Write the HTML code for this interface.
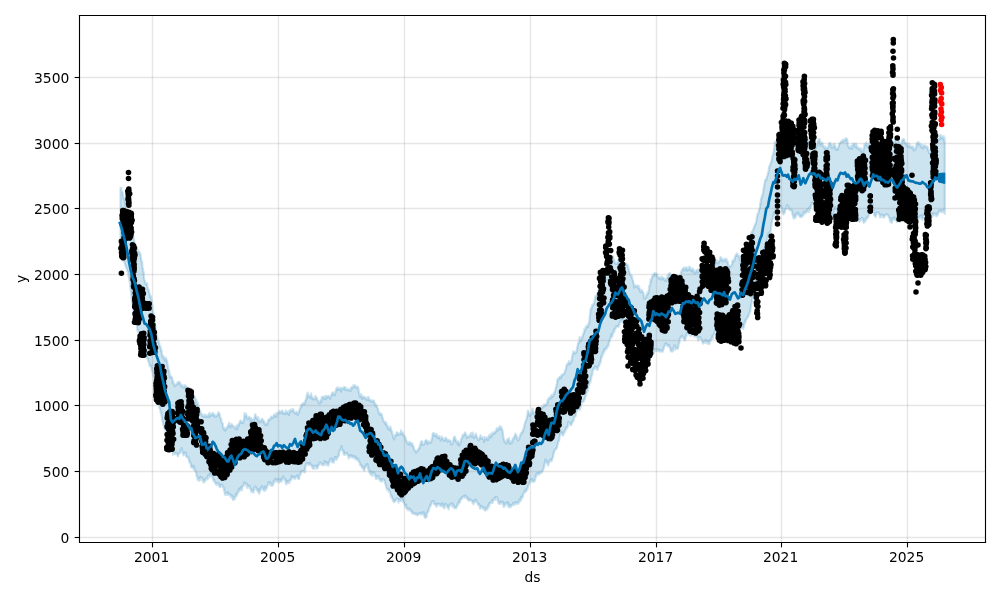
<!DOCTYPE html>
<html><head><meta charset="utf-8"><title>forecast</title>
<style>html,body{margin:0;padding:0;background:#fff;width:1000px;height:600px;overflow:hidden}svg{display:block;will-change:transform}
text{font-family:"DejaVu Sans","Liberation Sans",sans-serif}</style></head><body>
<svg width="1000" height="600" viewBox="0 0 720 432" version="1.1">
 
 <defs>
  <style type="text/css">*{stroke-linejoin: round; stroke-linecap: butt}</style>
 </defs>
 <g id="figure_1">
  <g id="patch_1">
   <path d="M 0 432 
L 720 432 
L 720 0 
L 0 0 
z
" style="fill: #ffffff"/>
  </g>
  <g id="axes_1">
   <g id="patch_2">
    <path d="M 57.24 390.6 
L 709.56 390.6 
L 709.56 11.16 
L 57.24 11.16 
z
" style="fill: #ffffff"/>
   </g>
   <g transform="scale(0.72)"><path d="M120.5 188 L120.8 188.2 L121.2 187.9 L121.5 192.2 L121.9 191.9 L122.2 191.8 L122.6 191.8 L122.9 195 L123.3 196.4 L123.6 198 L124 199.1 L124.3 198.8 L124.7 201.4 L125 200.7 L125.4 204.1 L125.7 206.6 L126.1 206.4 L126.4 208.2 L126.8 209.4 L127.1 210.1 L127.5 212.3 L127.9 210.6 L128.2 214.1 L128.6 212.8 L128.9 214.8 L129.3 215.8 L129.6 218 L130 219.2 L130.4 221.8 L130.7 223.5 L131.1 227.8 L131.4 228.5 L131.8 230.3 L132.1 233 L132.5 235 L132.9 235.5 L133.2 235.9 L133.6 237.2 L133.9 239.4 L134.3 241.6 L134.6 243.2 L135 245 L135.4 247.2 L135.7 247.6 L136.1 249.5 L136.4 251.4 L136.8 251.6 L137.1 252.1 L137.5 250.5 L137.9 251.1 L138.2 250.1 L138.6 252.5 L138.9 251.8 L139.3 251.6 L139.6 253.1 L140 254.5 L140.4 253.6 L140.7 256 L141.1 259.8 L141.4 260.4 L141.8 261.7 L142.1 261.7 L142.5 266.9 L142.9 268.8 L143.2 271 L143.6 271.9 L143.9 276.4 L144.3 279.6 L144.6 280.3 L145 282.3 L145.4 282.7 L145.7 284.3 L146.1 283.7 L146.4 284 L146.8 283.3 L147.1 283.6 L147.5 287 L147.8 288.6 L148.2 288.9 L148.5 290.7 L148.9 290.2 L149.2 292.3 L149.6 294.1 L149.9 294.8 L150.3 297.6 L150.6 295.6 L151 297 L151.4 299.4 L151.7 301.3 L152.1 305.1 L152.4 304.6 L152.8 310.2 L153.1 312.1 L153.5 313.6 L153.9 316.7 L154.2 319.8 L154.6 319.9 L154.9 323.1 L155.3 325.4 L155.6 328.4 L156 330.5 L156.4 332.3 L156.7 335.5 L157.1 335.8 L157.4 338.6 L157.8 339.8 L158.1 339.6 L158.5 341.4 L158.9 342.2 L159.2 343.1 L159.6 345.4 L159.9 345.8 L160.3 347.4 L160.6 346.7 L161 350.8 L161.4 349.8 L161.7 352 L162.1 355.2 L162.4 356.6 L162.8 355.5 L163.1 355.7 L163.5 358.1 L163.9 358.1 L164.2 359.3 L164.6 357.7 L164.9 360.3 L165.3 360.7 L165.6 357.5 L166 358.3 L166.4 359.3 L166.7 361.9 L167.1 360.7 L167.5 364.6 L167.8 365.9 L168.2 367.3 L168.5 370.7 L168.9 369.8 L169.3 372.2 L169.6 374.2 L170 377.3 L170.4 376.2 L170.7 375.7 L171.1 377.3 L171.4 376.7 L171.8 377.2 L172.1 378.3 L172.5 380 L172.8 383.5 L173.2 381 L173.5 383.4 L173.9 383.7 L174.2 384.4 L174.6 386.3 L174.9 385.8 L175.3 385.8 L175.6 384.6 L176 384.2 L176.4 385 L176.7 384.2 L177.1 383.5 L177.4 384.2 L177.8 381.9 L178.1 382.1 L178.5 383.2 L178.9 382.1 L179.2 383.2 L179.6 382 L179.9 383.8 L180.3 383 L180.6 385.3 L181 385.1 L181.4 385.2 L181.7 386.7 L182.1 385.9 L182.4 385.1 L182.8 387.4 L183.1 386.5 L183.5 387.5 L183.9 386.4 L184.2 387.4 L184.6 385.4 L184.9 385.3 L185.3 385.7 L185.6 388.2 L186 386.1 L186.4 386.5 L186.7 387.1 L187.1 389.1 L187.5 389.5 L187.8 388.3 L188.2 390.4 L188.5 390.3 L188.9 391.4 L189.3 391.4 L189.6 389.9 L190 390.9 L190.4 390.9 L190.7 391.7 L191.1 392.2 L191.4 392.7 L191.8 394.1 L192.1 394.2 L192.5 395.5 L192.9 395.1 L193.2 395.3 L193.6 396.6 L193.9 397 L194.3 397.6 L194.6 397.5 L195 397.2 L195.4 398.8 L195.7 399.9 L196.1 399.2 L196.4 401 L196.8 404.7 L197.1 404.2 L197.5 402.2 L197.9 405.5 L198.2 406.4 L198.6 405.6 L198.9 409.7 L199.3 409.4 L199.6 410 L200 410 L200.4 411.6 L200.7 413 L201.1 413.6 L201.5 413.3 L201.8 415 L202.2 415.7 L202.5 416.1 L202.9 415 L203.3 416.3 L203.6 416.2 L204 416.4 L204.4 416.2 L204.7 414.6 L205.1 417 L205.5 416.9 L205.8 415 L206.2 416.2 L206.6 415.2 L206.9 415.4 L207.3 416.7 L207.7 415.8 L208 417.1 L208.4 415.1 L208.7 414 L209.1 415.2 L209.5 412.8 L209.8 417 L210.2 415.3 L210.5 415.4 L210.9 415.1 L211.3 414 L211.6 414.6 L212 413.8 L212.3 413.7 L212.7 414.2 L213 412.9 L213.4 416 L213.7 413.6 L214.1 415.7 L214.4 414.6 L214.8 414.7 L215.1 416.7 L215.5 416.8 L215.8 416.4 L216.2 416.6 L216.5 415.7 L216.9 416.2 L217.2 414.5 L217.6 414.4 L217.9 414.9 L218.3 412.2 L218.6 413.1 L219 413.2 L219.3 413.6 L219.7 414.2 L220 416.5 L220.4 418.1 L220.7 418.9 L221.1 418.3 L221.4 421.6 L221.8 422.7 L222.1 423.1 L222.5 422.9 L222.8 424.2 L223.2 427.9 L223.5 428.8 L223.9 428.5 L224.2 427.6 L224.6 430.1 L224.9 429.3 L225.3 430.7 L225.6 428.4 L226 429.7 L226.4 428.3 L226.7 428.7 L227.1 427 L227.4 428 L227.8 426.3 L228.1 425.1 L228.5 425.9 L228.8 425 L229.2 422.5 L229.5 424.6 L229.9 424.9 L230.2 425.3 L230.6 427.4 L230.9 425 L231.3 425.6 L231.7 424.1 L232 424.6 L232.4 425.4 L232.7 425.7 L233.1 425.7 L233.5 426.7 L233.8 426.8 L234.2 427.5 L234.5 427 L234.9 428.2 L235.3 427.4 L235.6 428.9 L236 429.2 L236.3 428.3 L236.7 425.3 L237 426.8 L237.4 429.1 L237.7 425.7 L238.1 424.5 L238.4 424.9 L238.8 425.5 L239.1 424.3 L239.5 423.2 L239.8 421.5 L240.2 421.7 L240.5 420.3 L240.9 421.3 L241.2 422.6 L241.6 422.6 L241.9 421.6 L242.3 421.5 L242.6 421.5 L243 423.2 L243.3 422.4 L243.7 421.3 L244 419.1 L244.4 415.6 L244.7 413.2 L245.1 415.9 L245.4 414 L245.8 417.1 L246.1 413.8 L246.5 415.6 L246.8 416.6 L247.2 418.4 L247.5 419 L247.9 417.9 L248.2 419 L248.6 416.9 L248.9 417.6 L249.3 416.9 L249.6 417.6 L250 417.9 L250.4 418.8 L250.7 422.3 L251.1 417.9 L251.4 419.3 L251.8 420.4 L252.1 420.1 L252.5 421.8 L252.8 419.4 L253.2 421.2 L253.5 419.2 L253.9 420 L254.2 418.5 L254.6 417.7 L254.9 416 L255.3 414.2 L255.6 415.1 L256 417.3 L256.4 417.1 L256.7 418.7 L257.1 417.3 L257.4 419.6 L257.8 420.2 L258.1 417.1 L258.5 419.7 L258.8 421.7 L259.2 419.6 L259.5 421.9 L259.9 421.4 L260.2 422.5 L260.6 421.1 L260.9 420.4 L261.3 420.1 L261.6 419.5 L262 418.7 L262.4 418.8 L262.7 421.3 L263.1 420.3 L263.4 420.5 L263.8 421.4 L264.1 423.6 L264.5 421.3 L264.8 424.2 L265.2 424.8 L265.5 425.2 L265.9 423.6 L266.2 423.1 L266.6 424.1 L266.9 424 L267.3 425 L267.7 422.7 L268 421.2 L268.4 419.5 L268.7 419.8 L269.1 419.6 L269.4 420.2 L269.8 418.7 L270.1 419.7 L270.5 419.3 L270.8 417.3 L271.2 416.7 L271.5 417.2 L271.9 417.6 L272.2 416.9 L272.6 418 L272.9 417.4 L273.3 417.4 L273.6 415.9 L274 414.6 L274.3 415.5 L274.7 414.4 L275 415.7 L275.4 415 L275.7 417.2 L276.1 413.1 L276.4 416.4 L276.8 415.9 L277.1 414.3 L277.4 413.9 L277.8 412.8 L278.1 413.1 L278.5 413.2 L278.8 411.3 L279.2 413.1 L279.5 411.1 L279.9 412.5 L280.2 412.8 L280.5 411.4 L280.9 412.8 L281.2 411.7 L281.6 413.1 L281.9 411.4 L282.3 410.6 L282.6 411.2 L283 412.8 L283.3 413.7 L283.6 413.8 L284 412.7 L284.3 414.1 L284.7 412.5 L285 412.7 L285.3 413.8 L285.7 412.3 L286 410.5 L286.4 412.9 L286.7 412.3 L287.1 411.9 L287.4 413.6 L287.8 411.8 L288.1 413.2 L288.5 412.8 L288.8 415.2 L289.2 410.7 L289.5 412.3 L289.9 411.9 L290.2 412.2 L290.6 410.1 L290.9 409.7 L291.3 411.5 L291.6 409.5 L292 410.4 L292.3 410.3 L292.7 410.9 L293 409.1 L293.4 410.3 L293.7 411.2 L294.1 411.6 L294.4 412.9 L294.8 412.6 L295.1 412.8 L295.5 412.3 L295.8 413.7 L296.2 412.1 L296.5 412.8 L296.9 411.7 L297.2 412.6 L297.6 414.9 L297.9 414.3 L298.3 412.5 L298.7 413.4 L299 411.9 L299.4 409.6 L299.7 409.8 L300.1 408 L300.4 407.4 L300.8 407.4 L301.1 405.1 L301.5 406.2 L301.8 404.2 L302.2 403.8 L302.5 405.1 L302.9 404.2 L303.2 403.2 L303.6 403.6 L303.9 404 L304.3 402.3 L304.6 404.2 L305 402.8 L305.3 400.6 L305.7 399.7 L306 400.2 L306.3 396.8 L306.7 398.8 L307 394.2 L307.3 395.3 L307.7 392.6 L308 395.2 L308.4 395.1 L308.7 396.2 L309.1 395.9 L309.4 395.5 L309.8 398 L310.1 396.5 L310.5 395.1 L310.8 396.2 L311.2 393.4 L311.5 396.2 L311.9 398.7 L312.2 397.4 L312.6 398.4 L312.9 397.3 L313.3 399.4 L313.6 398.6 L314 398.1 L314.3 398.9 L314.7 399.4 L315 398.4 L315.4 395.9 L315.7 397.9 L316.1 398.2 L316.5 397.2 L316.8 397.4 L317.2 399.3 L317.5 400.1 L317.9 401.1 L318.3 401.3 L318.6 402.8 L319 403.2 L319.3 402.7 L319.7 403.3 L320 401.6 L320.4 400 L320.7 400.8 L321.1 401 L321.4 402.2 L321.8 396.8 L322.1 397.8 L322.5 397.1 L322.8 397.9 L323.2 396.5 L323.5 397.4 L323.9 398.1 L324.2 396.6 L324.6 397.5 L324.9 399.2 L325.3 398.4 L325.6 395.8 L326 399.2 L326.3 396.1 L326.7 397.3 L327 396.5 L327.4 396.5 L327.8 396.1 L328.1 397.5 L328.5 396.3 L328.8 396 L329.2 397 L329.6 397.9 L329.9 396.1 L330.3 398.9 L330.7 396.1 L331 396.1 L331.4 395.7 L331.7 393.7 L332.1 393.6 L332.4 392.7 L332.8 393 L333.1 392.5 L333.5 394.8 L333.8 394.6 L334.2 392.7 L334.5 394.8 L334.9 395.1 L335.2 393 L335.6 392.6 L335.9 390.1 L336.3 388.6 L336.6 389 L337 388 L337.4 387.3 L337.7 389.8 L338.1 389 L338.4 388.3 L338.8 388.9 L339.1 388.6 L339.5 389.3 L339.8 390.1 L340.2 388 L340.5 387.6 L340.9 390.4 L341.2 391.6 L341.6 388.9 L341.9 388.5 L342.3 388 L342.7 388.9 L343 388.6 L343.4 388 L343.7 388.7 L344.1 387 L344.5 387.4 L344.8 386.9 L345.2 389.8 L345.5 389.5 L345.9 389.9 L346.3 387.8 L346.6 390.1 L347 389.4 L347.3 390 L347.7 390.2 L348 389.6 L348.4 390.1 L348.7 388.9 L349.1 390 L349.4 390.6 L349.8 389.5 L350.1 390.6 L350.5 391.2 L350.8 389 L351.2 387.8 L351.5 387.1 L351.9 387.6 L352.2 388.7 L352.6 387 L352.9 386.9 L353.3 385.4 L353.6 386.8 L354 386.7 L354.3 385.5 L354.7 385.8 L355 385.2 L355.4 386.6 L355.8 387.5 L356.1 386.9 L356.5 387.4 L356.8 387.2 L357.2 386.7 L357.6 386.8 L357.9 387.5 L358.3 388.5 L358.6 390.2 L359 392.8 L359.4 394.3 L359.7 396.7 L360.1 396.2 L360.4 395.2 L360.8 395.6 L361.1 394.1 L361.5 397.8 L361.8 396 L362.2 396.6 L362.5 399 L362.9 396.3 L363.2 396.8 L363.6 397.4 L363.9 396.8 L364.3 397.3 L364.6 397.5 L365 398.3 L365.4 397.6 L365.7 398.6 L366.1 397.8 L366.4 399.1 L366.8 400.1 L367.1 397.5 L367.5 399.3 L367.8 399.9 L368.2 397.9 L368.5 396.8 L368.9 400.3 L369.2 399.3 L369.6 400.7 L369.9 400 L370.3 399.8 L370.7 400.2 L371 401.4 L371.4 400.5 L371.7 400.9 L372.1 401.9 L372.5 400.7 L372.8 401.4 L373.2 400.8 L373.5 400.5 L373.9 400.6 L374.3 403.2 L374.6 402.5 L375 404.7 L375.3 403.5 L375.7 406 L376.1 406.6 L376.4 405.8 L376.8 405.3 L377.1 407.1 L377.5 408 L377.8 408.6 L378.2 409.6 L378.5 412.3 L378.9 412.2 L379.2 412.8 L379.6 414.6 L379.9 413.9 L380.3 413.2 L380.6 414.8 L381 413.7 L381.4 415.2 L381.7 414.1 L382.1 416 L382.5 418 L382.8 418.6 L383.2 419.8 L383.5 420.8 L383.9 422 L384.3 421.8 L384.6 422.5 L385 422 L385.4 424.4 L385.7 421.9 L386.1 424.2 L386.4 423.1 L386.8 425.3 L387.1 426.8 L387.5 425.2 L387.9 428.9 L388.2 426.8 L388.6 427.4 L388.9 428.9 L389.3 427.9 L389.6 430.2 L390 429.7 L390.3 426.7 L390.7 427.8 L391.1 429.3 L391.4 431.3 L391.8 430.9 L392.2 432.5 L392.6 435.2 L392.9 435.2 L393.3 438 L393.6 436.7 L394 439.1 L394.3 439.4 L394.7 436.5 L395 434.8 L395.4 434.7 L395.7 436.4 L396.1 434 L396.4 434.9 L396.8 432.1 L397.1 432.3 L397.5 433.2 L397.8 434.8 L398.2 433.7 L398.5 433.3 L398.9 434.7 L399.2 434.4 L399.6 434.6 L399.9 433.7 L400.3 432.9 L400.6 433.1 L401 430.4 L401.3 432.7 L401.7 434.1 L402 433.8 L402.4 432.6 L402.7 432.3 L403.1 435.5 L403.5 434.2 L403.8 435 L404.2 435.9 L404.5 435.7 L404.9 437 L405.3 439.1 L405.6 437.8 L406 441 L406.3 440.3 L406.7 441.2 L407 442.6 L407.4 443.1 L407.7 443.9 L408.1 443.6 L408.4 442.5 L408.8 444.5 L409.1 442.5 L409.5 441.7 L409.8 443.3 L410.1 443.1 L410.5 442.6 L410.8 443.1 L411.2 444 L411.5 445.7 L411.9 444.1 L412.2 443.2 L412.6 444.6 L412.9 446.2 L413.2 446.2 L413.6 446.5 L413.9 448.8 L414.3 449.7 L414.6 449.7 L415 451 L415.3 450.7 L415.7 451.5 L416 452.5 L416.4 450.9 L416.7 452.1 L417.1 451.3 L417.4 450.5 L417.8 450.7 L418.1 450.3 L418.5 448.9 L418.8 448.5 L419.2 447.6 L419.5 448.8 L419.9 444.8 L420.2 445.1 L420.6 444.8 L420.9 442.1 L421.3 441.4 L421.7 441.4 L422 441.3 L422.4 444.9 L422.7 444.2 L423.1 443.9 L423.4 444.4 L423.8 444.8 L424.1 443.9 L424.5 442.4 L424.8 442.9 L425.2 440.7 L425.5 440.6 L425.9 440.8 L426.2 440 L426.6 440.8 L426.9 440.5 L427.3 444.1 L427.6 441.6 L428 443.2 L428.4 441.7 L428.7 441.3 L429.1 442.2 L429.4 441.9 L429.8 441.9 L430.1 441.9 L430.5 442.5 L430.8 442.9 L431.2 442.3 L431.5 439.2 L431.9 439.6 L432.2 438.1 L432.6 434.5 L432.9 433.4 L433.3 432.8 L433.6 435.1 L434 433.3 L434.3 433.5 L434.7 435.9 L435 434.9 L435.4 435.3 L435.7 436.3 L436.1 436.1 L436.4 433.8 L436.8 435.2 L437.1 437.2 L437.5 435.3 L437.8 438.1 L438.2 436.9 L438.5 437.6 L438.9 438 L439.2 436 L439.6 437.4 L439.9 437.5 L440.3 439.1 L440.6 440.6 L441 438.9 L441.3 439 L441.6 436.6 L442 437.8 L442.3 437.9 L442.7 438 L443 439 L443.4 440.4 L443.7 439.7 L444.1 440.5 L444.4 438.8 L444.8 440.8 L445.1 439.8 L445.5 437.5 L445.8 439.1 L446.2 438 L446.5 439.7 L446.9 439.4 L447.2 439.6 L447.6 441.7 L447.9 440.2 L448.3 440.2 L448.6 440.7 L449 440.8 L449.3 439.8 L449.7 441.2 L450 441.4 L450.4 441 L450.7 440.8 L451.1 444.1 L451.4 444.5 L451.8 444 L452.2 443.8 L452.5 444 L452.9 441.5 L453.2 441.6 L453.6 438.7 L454 437.1 L454.3 437.3 L454.7 436.6 L455.1 438 L455.4 440 L455.8 439.3 L456.1 440.7 L456.5 442.5 L456.8 442.8 L457.2 441.5 L457.5 441.4 L457.9 444.7 L458.2 442 L458.6 441.7 L458.9 442 L459.3 445.4 L459.6 442.9 L460 444 L460.4 443 L460.7 442.9 L461.1 438.9 L461.4 439.1 L461.8 438 L462.1 438 L462.5 435.5 L462.8 435.4 L463.2 434.6 L463.5 435.7 L463.9 435.4 L464.2 434 L464.6 434.7 L464.9 432.4 L465.3 433.6 L465.7 433.2 L466 434.3 L466.4 436.4 L466.7 438.2 L467.1 436.7 L467.5 436.6 L467.8 436.3 L468.2 437.1 L468.6 435.7 L468.9 436.6 L469.3 437 L469.6 435.9 L470 434.8 L470.4 435.8 L470.7 434.1 L471.1 433 L471.4 435.7 L471.8 436.5 L472.1 436.2 L472.5 434.9 L472.8 432.6 L473.2 435.8 L473.5 437.4 L473.9 436.5 L474.2 438.1 L474.6 435.6 L474.9 436.2 L475.3 435.5 L475.6 435.1 L476 433.5 L476.3 435.3 L476.7 436.6 L477 437.1 L477.3 437.3 L477.7 439 L478 439.5 L478.4 440.4 L478.7 440.4 L479.1 439.1 L479.4 438.6 L479.8 437.5 L480.1 437.5 L480.5 435.1 L480.8 437.4 L481.2 438.5 L481.5 437.3 L481.9 438.9 L482.2 437.2 L482.6 439 L482.9 438.8 L483.3 439.2 L483.7 439.6 L484 442.2 L484.4 436.9 L484.8 438.5 L485.1 439.1 L485.5 439.6 L485.8 438.5 L486.2 438.4 L486.6 437.6 L486.9 437.9 L487.3 438.7 L487.6 440.2 L488 437.1 L488.3 439.9 L488.7 437.5 L489 435.7 L489.4 436.7 L489.7 436.7 L490.1 434.5 L490.4 434.3 L490.8 437.4 L491.1 434.8 L491.5 436.3 L491.8 435.6 L492.2 432.7 L492.5 434.4 L492.9 433.7 L493.2 434.2 L493.6 432.7 L493.9 432.8 L494.3 432.6 L494.6 431.5 L495 433.1 L495.3 432 L495.7 432 L496 430.4 L496.4 430.8 L496.7 428.2 L497 428.9 L497.4 430.8 L497.7 429.6 L498.1 429.2 L498.4 429.7 L498.8 427.3 L499.1 428.6 L499.5 428.3 L499.8 427.1 L500.2 426.1 L500.5 429.1 L500.9 428 L501.2 427.2 L501.6 428.7 L501.9 428.8 L502.3 430 L502.6 431.2 L503 433.8 L503.3 436.6 L503.7 438.6 L504 439.1 L504.4 441.4 L504.7 442 L505.1 441.1 L505.4 442.1 L505.8 443.3 L506.1 443.7 L506.5 443.7 L506.8 440.7 L507.2 439.4 L507.5 442.4 L507.9 439.2 L508.2 440 L508.6 439 L508.9 438.1 L509.3 441.7 L509.6 441.8 L510 444 L510.4 443.6 L510.7 441.9 L511.1 442.7 L511.4 443.2 L511.8 440.8 L512.1 441.1 L512.5 441.5 L512.8 438.3 L513.2 438.7 L513.5 438.7 L513.9 438.8 L514.2 437 L514.6 435.4 L514.9 435.7 L515.3 433.6 L515.6 434.7 L516 435 L516.3 435.3 L516.6 437.2 L517 438.7 L517.3 437.3 L517.7 440.2 L518 440.5 L518.4 439.9 L518.7 439.4 L519.1 439.6 L519.5 437.4 L519.8 436.4 L520.2 434.7 L520.5 434.9 L520.9 434.3 L521.3 432.7 L521.6 432.6 L522 432.6 L522.4 432.6 L522.7 430 L523.1 431.3 L523.5 429.3 L523.8 428 L524.2 426.4 L524.5 424.9 L524.9 423 L525.3 422.5 L525.6 421.2 L526 420 L526.3 419.9 L526.7 419 L527 416 L527.4 415.2 L527.7 412.5 L528 410.6 L528.4 412.3 L528.7 412.6 L529 414.2 L529.4 416 L529.7 414.1 L530.1 415.5 L530.4 415.1 L530.8 414 L531.1 413.9 L531.5 412.9 L531.8 413.3 L532.2 410.2 L532.5 408.5 L532.9 411 L533.2 412.2 L533.6 413 L533.9 412.1 L534.3 414.4 L534.6 414 L535 416 L535.3 415.1 L535.7 414.9 L536 416.6 L536.4 414.1 L536.7 413 L537 414.3 L537.4 412.5 L537.7 409.1 L538.1 411.9 L538.4 408.9 L538.8 409.2 L539.1 409.2 L539.5 411.2 L539.8 408.9 L540.2 409.7 L540.5 408.6 L540.9 409.1 L541.2 407.1 L541.5 408.3 L541.9 407.3 L542.2 406.5 L542.6 407.2 L542.9 407.5 L543.3 406.5 L543.6 405.5 L544 406.4 L544.3 404.3 L544.7 405.7 L545 406 L545.3 405.3 L545.7 404.8 L546 404.9 L546.4 403.8 L546.7 403.5 L547.1 403.7 L547.4 400.2 L547.8 402.4 L548.1 400.6 L548.5 399.5 L548.8 397.8 L549.2 398 L549.5 397.4 L549.9 398.4 L550.2 398.2 L550.6 398.5 L550.9 397.3 L551.3 395.1 L551.6 396.1 L552 396.6 L552.3 397 L552.7 395.1 L553 396.1 L553.4 395.1 L553.7 393.3 L554.1 392.6 L554.4 394.1 L554.8 390.8 L555.1 391.9 L555.5 389.2 L555.9 387.1 L556.2 387.2 L556.6 385 L556.9 383.7 L557.3 379.8 L557.6 381 L558 378.7 L558.4 379.8 L558.7 378.4 L559 377.8 L559.4 377.1 L559.8 377.8 L560.1 377.2 L560.5 376.4 L560.8 378.3 L561.1 375.5 L561.5 375.9 L561.9 376 L562.2 374.4 L562.5 374.4 L562.9 374.2 L563.2 374.7 L563.6 374.4 L564 374.1 L564.3 373.4 L564.6 372.2 L565 371.4 L565.4 369.9 L565.7 369.5 L566.1 369.2 L566.4 365.7 L566.8 365.1 L567.1 363.9 L567.5 364.1 L567.9 364.7 L568.2 363 L568.6 363.6 L568.9 361.1 L569.3 363.3 L569.6 364.2 L570 363 L570.4 361.7 L570.7 363.1 L571.1 361.5 L571.4 362 L571.8 357.9 L572.1 356.8 L572.5 355 L572.8 354.2 L573.2 351.4 L573.5 353.9 L573.9 352.9 L574.2 352 L574.6 352.1 L574.9 353.1 L575.3 353.3 L575.6 352.7 L576 352.6 L576.3 352.2 L576.7 350.1 L577 348.8 L577.3 347.3 L577.7 345.8 L578 343.6 L578.3 342.7 L578.7 342.9 L579 342.3 L579.4 341.1 L579.7 337.1 L580.1 338.9 L580.4 340.4 L580.8 341.2 L581.1 340.2 L581.5 338.4 L581.9 337.5 L582.2 336.6 L582.6 337.7 L582.9 335.2 L583.3 333.1 L583.6 334 L584 332.9 L584.4 329.1 L584.7 329.7 L585.1 330.5 L585.5 329.5 L585.8 326.5 L586.2 326.9 L586.5 327.4 L586.9 326.6 L587.3 325.1 L587.6 325.9 L588 327 L588.4 325.6 L588.7 322.7 L589.1 324.1 L589.5 319.7 L589.8 315.6 L590.2 314.3 L590.5 309.5 L590.9 309.1 L591.3 307.8 L591.6 308.7 L592 305.2 L592.3 305.5 L592.7 305.7 L593 305 L593.4 303.6 L593.7 304.5 L594.1 302.4 L594.4 301.9 L594.8 300.1 L595.1 297.1 L595.5 296.6 L595.8 295.9 L596.2 295.4 L596.5 295.8 L596.9 294.6 L597.2 293.4 L597.6 294.7 L597.9 293.6 L598.3 291.4 L598.6 289.5 L599 289.1 L599.3 288.4 L599.7 287.7 L600 287.3 L600.3 288.4 L600.7 288.3 L601 288.3 L601.4 286.7 L601.7 287.4 L602.1 288.5 L602.4 286.2 L602.8 284.9 L603.1 287.1 L603.5 284.1 L603.8 282.5 L604.2 283.2 L604.5 281 L604.9 280.6 L605.2 281.1 L605.6 278.7 L605.9 277.3 L606.3 279 L606.6 278.9 L607 276.8 L607.3 277.9 L607.7 279.6 L608 278.9 L608.4 278.6 L608.7 276.4 L609.1 274.5 L609.4 272.9 L609.8 271.5 L610.2 270.2 L610.5 265.4 L610.9 264.2 L611.3 264.2 L611.6 262.8 L612 259.9 L612.3 258.8 L612.7 256.4 L613.1 256.6 L613.4 259 L613.8 259.6 L614.1 260.1 L614.5 260.4 L614.8 262.7 L615.2 263.3 L615.5 263.5 L615.9 263.8 L616.2 263.5 L616.6 263.8 L616.9 263.2 L617.3 263.8 L617.6 262.8 L618 261.1 L618.4 260 L618.7 262.2 L619.1 261.6 L619.4 264.5 L619.8 262.4 L620.1 263.9 L620.5 266.1 L620.8 264.6 L621.2 265 L621.5 264.8 L621.9 263.6 L622.2 264.9 L622.6 263.6 L622.9 264.7 L623.3 267.9 L623.7 266.5 L624 267.7 L624.4 266.5 L624.7 269.1 L625.1 266.6 L625.5 266.3 L625.8 266 L626.2 264.9 L626.5 263.7 L626.9 264.6 L627.3 264.6 L627.6 265.6 L628 265.7 L628.3 267.2 L628.7 269.2 L629.1 271.1 L629.4 271.5 L629.8 273.4 L630.2 273.8 L630.5 275.4 L630.9 275.4 L631.2 275.7 L631.6 276.8 L632 276 L632.3 279.2 L632.7 279.7 L633.1 280.8 L633.4 283.3 L633.8 283.6 L634.2 287.6 L634.5 286.8 L634.9 285.3 L635.2 285.6 L635.6 285.9 L636 285.6 L636.3 286.4 L636.7 286.6 L637.1 286.7 L637.4 286.4 L637.8 285.4 L638.2 287.8 L638.6 288.3 L638.9 286 L639.3 288 L639.7 289.1 L640 289.6 L640.4 292.1 L640.7 291.8 L641.1 291.8 L641.5 290.7 L641.8 289.9 L642.2 291.1 L642.5 291.7 L642.9 292.6 L643.3 292.4 L643.6 294.1 L644 296.5 L644.3 298.5 L644.7 298.7 L645.1 298.2 L645.4 297.6 L645.8 296.7 L646.2 297.3 L646.5 294.6 L646.9 295 L647.2 292.9 L647.6 294.5 L648 293.4 L648.3 292.7 L648.7 290.4 L649.1 288.4 L649.4 285.4 L649.8 285.4 L650.2 284.8 L650.5 279.4 L650.9 282.5 L651.2 279.1 L651.6 279.4 L652 277 L652.3 276.5 L652.7 276.2 L653 274.7 L653.4 276.4 L653.7 274.3 L654.1 274.6 L654.4 273.1 L654.8 273.1 L655.1 273.2 L655.5 274.3 L655.8 275.5 L656.2 274.3 L656.5 273.6 L656.9 274.9 L657.2 274.7 L657.6 277.3 L657.9 277.4 L658.3 276.8 L658.6 277.8 L659 278.9 L659.3 278.5 L659.7 277.4 L660 278.6 L660.4 278.4 L660.7 277.5 L661.1 278.2 L661.5 279.7 L661.8 276.6 L662.2 278.5 L662.5 277.2 L662.9 277.9 L663.3 277.8 L663.6 278.2 L664 278.3 L664.3 279.2 L664.7 280.5 L665.1 280.5 L665.4 278.6 L665.8 280.4 L666.1 281.1 L666.5 280.1 L666.8 278.9 L667.2 276.2 L667.5 277.7 L667.9 277 L668.2 277 L668.6 273.9 L668.9 274 L669.3 273.7 L669.6 274.1 L670 273.1 L670.4 275.3 L670.7 276.4 L671.1 277.8 L671.4 280.8 L671.8 279.3 L672.1 280.3 L672.5 282.1 L672.8 280.6 L673.2 282.4 L673.5 281.5 L673.9 280.2 L674.2 280 L674.6 280.9 L674.9 280.6 L675.3 280.8 L675.6 280.1 L676 280.9 L676.4 278.8 L676.7 278.2 L677.1 277.8 L677.4 276.2 L677.8 277 L678.1 277.4 L678.5 276.6 L678.8 276.5 L679.2 279.5 L679.5 277.7 L679.9 277.4 L680.2 276 L680.6 277.1 L680.9 274.2 L681.3 271.2 L681.6 272.3 L682 269.7 L682.3 270.1 L682.7 268.8 L683.1 269.5 L683.4 268.6 L683.8 267.5 L684.2 269.2 L684.5 270.5 L684.9 267.5 L685.3 269.1 L685.6 268.2 L686 268.2 L686.4 267.3 L686.7 268.1 L687.1 270.8 L687.4 269.5 L687.8 268.4 L688.2 270.1 L688.5 269 L688.9 268.3 L689.3 266.5 L689.6 267.7 L690 269.9 L690.3 267.3 L690.7 268.7 L691 269.7 L691.4 271.3 L691.7 270.2 L692.1 269.9 L692.4 269.1 L692.8 268.5 L693.1 269.7 L693.5 272.3 L693.8 270 L694.2 271.9 L694.5 270.9 L694.9 273.6 L695.2 272.3 L695.6 272.3 L695.9 271.4 L696.3 270.7 L696.6 270.5 L697 270 L697.3 269.7 L697.6 272.7 L698 271.6 L698.3 272.3 L698.7 271.6 L699 269.4 L699.4 270.1 L699.7 268.6 L700.1 267.8 L700.4 268 L700.8 267.9 L701.1 267.8 L701.5 268 L701.8 267.9 L702.2 268.5 L702.5 269.4 L702.9 269.8 L703.2 268.1 L703.6 265.9 L703.9 265.8 L704.3 265.8 L704.6 265.6 L705 265.9 L705.3 266 L705.7 265.4 L706 264.7 L706.4 263.2 L706.7 265.7 L707.1 265.3 L707.4 264.1 L707.8 265.3 L708.1 265.3 L708.5 265.5 L708.8 267.8 L709.2 265.9 L709.5 268.5 L709.9 265.8 L710.2 265 L710.6 265.8 L710.9 268.2 L711.3 265.7 L711.6 266.2 L712 263.4 L712.4 266 L712.7 264.1 L713.1 265.3 L713.4 266.6 L713.8 265 L714.1 265.9 L714.5 264.6 L714.8 264.1 L715.2 264 L715.5 264.3 L715.9 263 L716.2 262.5 L716.6 261.4 L716.9 260.6 L717.3 262.4 L717.7 262.2 L718 262.7 L718.4 263.4 L718.7 262.8 L719.1 260.6 L719.4 261.2 L719.8 260.6 L720.1 259.4 L720.5 256.8 L720.8 258 L721.2 258.7 L721.5 259.9 L721.9 259.2 L722.2 258.6 L722.6 261.7 L722.9 260.3 L723.3 259.9 L723.6 260.5 L724 260.4 L724.4 259.5 L724.7 258.9 L725.1 258.9 L725.4 260.4 L725.8 259.7 L726.1 260.8 L726.5 258.8 L726.8 260.8 L727.2 261.5 L727.5 262.2 L727.9 261.7 L728.2 264.1 L728.6 266.8 L728.9 266.2 L729.3 265.9 L729.6 266.1 L730 265.7 L730.3 267.2 L730.7 266.2 L731.1 265.5 L731.4 265.8 L731.8 264.9 L732.1 263.7 L732.5 260.6 L732.8 261 L733.2 262.2 L733.5 259.5 L733.9 261.4 L734.2 259.7 L734.6 260 L734.9 257.8 L735.3 256.1 L735.6 255 L736 256.3 L736.4 254.5 L736.7 253.6 L737.1 255.6 L737.4 253.5 L737.8 255.1 L738.1 255.9 L738.5 256.3 L738.8 257 L739.2 257.3 L739.5 255.9 L739.9 259.4 L740.2 260.3 L740.6 261.2 L740.9 262.8 L741.3 263.8 L741.6 261.7 L742 261.4 L742.4 260.4 L742.7 256.9 L743.1 255.5 L743.4 253.8 L743.8 255 L744.1 251.8 L744.5 254.5 L744.8 252.9 L745.2 250.3 L745.5 250.5 L745.9 247.9 L746.2 246.7 L746.6 247.7 L746.9 245.3 L747.3 246.1 L747.6 245.5 L748 247 L748.4 245.1 L748.7 245.8 L749.1 244.3 L749.5 241.6 L749.8 240.1 L750.2 237.6 L750.5 238.3 L750.9 234 L751.3 234.7 L751.6 231.9 L752 232.6 L752.3 232.9 L752.7 230.5 L753 230 L753.3 229.1 L753.7 228.8 L754 226.3 L754.3 227.2 L754.7 226.3 L755 224.7 L755.4 223.5 L755.7 224.3 L756.1 222.2 L756.4 220.4 L756.8 217.6 L757.1 216.8 L757.5 214.7 L757.9 213.1 L758.2 213.5 L758.6 212.2 L758.9 210.4 L759.3 208.9 L759.7 208.6 L760 205.6 L760.4 202.4 L760.7 204.1 L761.1 198.5 L761.5 198.8 L761.8 196 L762.2 196.2 L762.5 194.2 L762.9 193.4 L763.3 190.5 L763.6 187.8 L764 188 L764.3 184.4 L764.7 182.5 L765.1 181.1 L765.4 179.5 L765.8 179.5 L766.2 180.1 L766.5 179 L766.9 177 L767.2 176.4 L767.6 175.3 L768 172.6 L768.3 173.2 L768.7 170.5 L769.1 166.9 L769.4 167.9 L769.8 165 L770.2 165.1 L770.5 164.4 L770.9 162.3 L771.3 161.8 L771.6 161.8 L772 157.7 L772.4 155.9 L772.7 156 L773.1 153.9 L773.5 154 L773.8 150.7 L774.2 148 L774.6 145.5 L774.9 141.9 L775.3 141.6 L775.7 142.8 L776 143.8 L776.4 143.6 L776.7 144.5 L777.1 145.4 L777.5 144 L777.8 143.9 L778.2 143 L778.5 144.8 L778.9 141.1 L779.3 143.2 L779.6 142.9 L780 139.4 L780.3 140 L780.7 140.2 L781 137.8 L781.4 137.8 L781.7 138.1 L782.1 139.4 L782.4 139.2 L782.8 138.3 L783.1 138 L783.5 138.3 L783.8 140.4 L784.1 137.7 L784.5 139.3 L784.8 140.5 L785.2 138.8 L785.5 139.6 L785.9 139.8 L786.2 140.8 L786.6 138.8 L786.9 140.2 L787.2 140 L787.6 140.1 L787.9 138.3 L788.3 140.4 L788.6 139.1 L789 139.9 L789.3 139.3 L789.7 142.4 L790 140.8 L790.3 142.9 L790.7 140 L791 140.2 L791.4 141.5 L791.7 139.2 L792.1 139.2 L792.4 139.4 L792.8 137.3 L793.1 136.8 L793.4 137.4 L793.8 139.1 L794.1 139.3 L794.5 141.3 L794.8 141 L795.2 141.8 L795.5 141.9 L795.9 143.4 L796.2 142.9 L796.6 143.1 L796.9 141.6 L797.2 141.1 L797.6 140.8 L797.9 141.3 L798.3 139.8 L798.6 139.5 L799 141.2 L799.3 141.9 L799.7 140.6 L800 140.9 L800.3 139.2 L800.7 139.4 L801 140.6 L801.4 141.7 L801.7 141.7 L802.1 140.2 L802.4 139 L802.8 140 L803.1 138.1 L803.4 139.8 L803.8 138.8 L804.1 140.1 L804.5 141.6 L804.8 142.5 L805.2 140.5 L805.5 140.8 L805.9 139 L806.2 140.3 L806.6 142.9 L806.9 142.5 L807.2 142.3 L807.6 141.9 L807.9 142.7 L808.3 140.5 L808.6 140.1 L809 142.6 L809.3 138.5 L809.7 139.6 L810 138.5 L810.4 141.1 L810.7 140.2 L811.1 141.2 L811.5 142.3 L811.8 144.5 L812.2 143.7 L812.5 144 L812.9 145.9 L813.3 145.9 L813.6 147.1 L814 146.7 L814.4 146.5 L814.7 147.6 L815.1 148 L815.4 148.7 L815.8 147.8 L816.1 145.6 L816.5 146.6 L816.8 145.4 L817.2 143.7 L817.5 142.7 L817.9 140.7 L818.2 141.3 L818.6 139.4 L818.9 141.3 L819.3 139.5 L819.6 139.1 L820 141.4 L820.3 145.7 L820.7 142.7 L821.1 143.1 L821.4 143.3 L821.8 142.4 L822.2 143.1 L822.5 143.2 L822.9 145.8 L823.2 146 L823.6 146.1 L824 147.5 L824.3 148.1 L824.7 146.7 L825.1 148.8 L825.4 146.8 L825.8 148 L826.1 147.5 L826.5 148.5 L826.8 149.2 L827.2 148.7 L827.5 147.8 L827.9 147.7 L828.2 147.7 L828.6 145.6 L828.9 144.4 L829.3 143.5 L829.6 142.8 L830 143.5 L830.4 143.1 L830.7 144.5 L831.1 144.8 L831.4 144.8 L831.8 148 L832.1 148.2 L832.5 146.7 L832.8 147.5 L833.2 146.4 L833.5 144.5 L833.9 146.7 L834.2 143.5 L834.6 145.8 L834.9 147.1 L835.3 146 L835.6 149.4 L836 147.8 L836.3 149.8 L836.7 148.3 L837 148.9 L837.4 147.9 L837.7 149.9 L838.1 147.4 L838.4 147.2 L838.8 146.2 L839.1 144.6 L839.5 143.4 L839.8 143.1 L840.2 143.1 L840.5 142.6 L840.9 141.8 L841.2 141.3 L841.6 142.1 L841.9 140.8 L842.3 142 L842.6 140.1 L843 141.5 L843.3 141.7 L843.7 140.1 L844 139.5 L844.3 141.1 L844.7 140.1 L845 140 L845.4 139.5 L845.7 138.3 L846.1 138.5 L846.4 138.3 L846.8 140.4 L847.1 139 L847.5 142.1 L847.8 145 L848.2 146.4 L848.5 146.6 L848.9 146.9 L849.2 148.3 L849.6 147.3 L849.9 146.4 L850.3 148.6 L850.6 147.2 L851 148.1 L851.3 146.6 L851.7 145.8 L852 148.5 L852.3 148.9 L852.7 144 L853 144.9 L853.4 145.1 L853.7 144 L854.1 143.8 L854.4 143.9 L854.8 143.6 L855.1 146.3 L855.5 146.6 L855.8 146.3 L856.2 143.8 L856.5 147.8 L856.9 146.2 L857.2 146.7 L857.6 148.3 L857.9 148.2 L858.3 147.5 L858.6 149.3 L859 149.4 L859.3 148.7 L859.7 149.8 L860 148.3 L860.3 148.5 L860.7 150.3 L861 151.6 L861.4 149.2 L861.7 151.7 L862.1 150.7 L862.4 152.4 L862.8 150.1 L863.1 152.9 L863.5 149.7 L863.8 148 L864.2 147.3 L864.5 144 L864.9 145.2 L865.2 144 L865.6 144.8 L865.9 144.4 L866.3 142.4 L866.6 143.2 L867 145.6 L867.3 145.2 L867.7 147.2 L868 144.7 L868.4 145.7 L868.7 144.3 L869.1 145.5 L869.4 143.4 L869.8 143.1 L870.1 141.6 L870.5 142.7 L870.8 142.9 L871.2 142 L871.5 143 L871.9 141.3 L872.2 142.3 L872.6 143.3 L872.9 142.9 L873.3 145 L873.6 144.8 L874 143.9 L874.4 144 L874.7 145.1 L875.1 144.8 L875.4 145.2 L875.8 144.5 L876.1 146.3 L876.5 145.7 L876.8 145.8 L877.2 145.7 L877.5 142.2 L877.9 144 L878.2 143.2 L878.6 143.9 L878.9 143.3 L879.3 143.1 L879.6 143.8 L880 140.6 L880.3 141.5 L880.7 143.8 L881 144 L881.4 141.9 L881.7 144 L882.1 143.8 L882.4 141.6 L882.8 142.4 L883.1 143.3 L883.5 142.9 L883.8 144.9 L884.2 143.5 L884.5 143.9 L884.9 142.4 L885.2 141.7 L885.6 142 L885.9 143.8 L886.3 144.1 L886.6 141.4 L887 142.3 L887.3 140.1 L887.7 144.2 L888 141.7 L888.4 143.8 L888.7 143.9 L889.1 140.6 L889.4 140.3 L889.8 141.2 L890.1 141.2 L890.5 138.6 L890.8 138 L891.2 139.3 L891.5 140.5 L891.9 138.7 L892.2 139.8 L892.6 142.6 L892.9 142.4 L893.3 142 L893.6 143.1 L894 143.5 L894.3 143.7 L894.7 142.2 L895 140.9 L895.4 138.1 L895.7 139.3 L896.1 138.4 L896.4 137.4 L896.8 136.8 L897.1 136.8 L897.5 137.9 L897.8 137.4 L898.2 137.7 L898.5 141.1 L898.9 141.4 L899.3 143.1 L899.6 145.3 L900 145.5 L900.3 146.4 L900.7 145.3 L901 147.3 L901.4 143.5 L901.7 144.8 L902.1 140.7 L902.5 139.8 L902.8 139.1 L903.2 140 L903.5 139.3 L903.9 139.2 L904.2 139.3 L904.6 142.5 L904.9 142.2 L905.3 143.3 L905.6 143 L906 142.9 L906.3 144.6 L906.7 144.7 L907 146 L907.4 145.4 L907.7 144.2 L908.1 146.9 L908.4 146.3 L908.8 146.4 L909.1 143.8 L909.5 146.1 L909.8 147.2 L910.2 146.4 L910.5 147.5 L910.9 147.7 L911.2 147.1 L911.6 146.2 L911.9 147.8 L912.3 148 L912.6 147.6 L913 146.6 L913.3 147.8 L913.7 150.4 L914 149.9 L914.3 148.4 L914.7 149.7 L915 149.5 L915.4 149.5 L915.7 148.3 L916.1 147.3 L916.4 145.1 L916.8 143.2 L917.1 143.7 L917.4 145.2 L917.8 142.1 L918.1 144.5 L918.5 142.2 L918.8 142.6 L919.2 144.4 L919.5 143.8 L919.9 144.6 L920.2 144 L920.6 145.6 L920.9 146.9 L921.2 145 L921.6 147.2 L921.9 147.5 L922.3 148 L922.6 145.1 L923 148.3 L923.3 146 L923.7 146.5 L924 146 L924.4 145.5 L924.7 145.5 L925.1 145.6 L925.4 146.6 L925.8 147.3 L926.1 146.4 L926.5 147.5 L926.8 147.2 L927.2 148.4 L927.5 146.5 L927.9 148.9 L928.2 149.8 L928.6 151 L928.9 152 L929.3 153.2 L929.6 153 L930 153.4 L930.4 151.6 L930.7 150.6 L931.1 149.1 L931.4 149.6 L931.8 148.3 L932.1 147.5 L932.5 144.5 L932.8 143.6 L933.2 145.2 L933.5 142.9 L933.9 139.8 L934.2 141.6 L934.6 141.3 L934.9 140.9 L935.3 141 L935.6 140.4 L936 140.9 L936.4 140.9 L936.7 140.6 L937.1 141.2 L937.4 140.4 L937.8 141.6 L938.1 141.3 L938.5 139.3 L938.9 138.4 L939.2 138.7 L939.6 137.6 L939.9 139.5 L940.3 134.8 L940.6 134.9 L941 136 L941.3 137.7 L941.7 138 L942 136.5 L942.4 136.8 L942.7 136.7 L943.1 137.8 L943.4 139.9 L943.8 136.2 L944.1 141.3 L944.5 140.8 L944.8 138 L944.8 214 L944.5 209.3 L944.1 212 L943.8 212.5 L943.4 210.6 L943.1 210.3 L942.7 209.8 L942.4 210.7 L942.1 211.2 L941.7 211.9 L941.4 212.1 L941 210.9 L940.7 210.9 L940.3 210.2 L940 211.9 L939.6 211.4 L939.3 210.5 L938.9 211.8 L938.6 212.7 L938.2 212.1 L937.9 214.9 L937.5 213.5 L937.2 214.9 L936.8 214.4 L936.5 216.4 L936.1 215 L935.8 214 L935.4 213.7 L935.1 215.3 L934.7 213.5 L934.4 213.8 L934 213.6 L933.7 214.8 L933.3 215.6 L933 213.1 L932.6 215.9 L932.3 213.4 L931.9 217.1 L931.6 217 L931.2 216.4 L930.9 215.9 L930.6 216 L930.2 216.1 L929.9 214.2 L929.5 216.9 L929.2 217 L928.8 214.5 L928.5 215.1 L928.1 213.9 L927.8 213.8 L927.4 214.1 L927.1 213.6 L926.8 213.8 L926.4 214.3 L926.1 214.9 L925.7 214.1 L925.4 215.6 L925 216.1 L924.7 213.9 L924.3 215.9 L924 214.4 L923.7 216.3 L923.3 215.6 L923 218.2 L922.6 218.9 L922.3 219.8 L921.9 218 L921.6 217.2 L921.2 215.2 L920.9 218.5 L920.6 215.9 L920.2 216.2 L919.9 218.5 L919.5 217 L919.2 216.3 L918.8 217.8 L918.5 218.2 L918.1 218.1 L917.8 219.1 L917.4 216.9 L917.1 219 L916.8 217.4 L916.4 218.6 L916.1 219.5 L915.7 219.5 L915.4 219.5 L915 218.5 L914.7 219.7 L914.3 217.2 L914 216.5 L913.7 217.8 L913.3 219.8 L913 219.9 L912.6 220 L912.3 219 L911.9 218.9 L911.6 215.6 L911.2 216 L910.9 214.4 L910.5 215.7 L910.2 214.9 L909.8 215.4 L909.5 215.5 L909.1 214.6 L908.8 215.8 L908.4 213.4 L908.1 214.6 L907.7 213.4 L907.4 214.1 L907 211.9 L906.7 210.5 L906.3 210 L906 207.4 L905.6 206.8 L905.3 207.6 L904.9 207.5 L904.6 209.3 L904.2 210.3 L903.9 211 L903.5 211.1 L903.2 212.4 L902.8 213 L902.5 213.3 L902.1 213.1 L901.8 215.2 L901.4 216.5 L901.1 217.6 L900.7 217.8 L900.4 219.6 L900 219.5 L899.7 221.8 L899.3 221.1 L899 220.1 L898.6 220.7 L898.3 219.6 L897.9 219.1 L897.6 219.1 L897.2 220 L896.9 222.1 L896.6 220.5 L896.2 219.6 L895.9 219.7 L895.5 219.5 L895.2 219.7 L894.8 219 L894.5 217.4 L894.1 219.6 L893.8 218.2 L893.4 219.1 L893.1 218.1 L892.8 220 L892.4 219.6 L892.1 221.1 L891.7 222.8 L891.4 222.7 L891 221.5 L890.7 221.4 L890.3 218.1 L890 221.4 L889.7 218.1 L889.3 217.8 L889 217.7 L888.6 216.7 L888.3 215 L887.9 215.2 L887.6 215.2 L887.2 214.9 L886.9 214.3 L886.6 214.1 L886.2 214.3 L885.9 214.8 L885.5 215 L885.2 215.6 L884.8 216 L884.5 215.9 L884.1 217.7 L883.8 217.1 L883.4 215.2 L883.1 216.9 L882.8 214.5 L882.4 214.6 L882.1 216.1 L881.7 215.2 L881.4 216.8 L881 214.8 L880.7 215 L880.3 215.8 L880 217.5 L879.7 215 L879.3 213.9 L879 213.6 L878.6 212.9 L878.3 212.4 L877.9 212.4 L877.6 212.4 L877.2 212.4 L876.9 213.9 L876.5 212.8 L876.2 214.1 L875.8 217.1 L875.5 216 L875.1 216.1 L874.8 215.5 L874.4 215.7 L874.1 214.2 L873.7 212.5 L873.4 210.1 L873 210.2 L872.7 209 L872.3 203.4 L872 206.1 L871.7 206.6 L871.3 206.1 L871 208.3 L870.6 210.4 L870.3 212.7 L869.9 213.6 L869.6 213 L869.2 214.7 L868.9 214.9 L868.5 215.6 L868.2 217.2 L867.8 217.6 L867.5 217.3 L867.1 218.7 L866.8 218.4 L866.4 218.7 L866.1 217.7 L865.7 219.5 L865.4 221.3 L865 220.2 L864.7 221.9 L864.3 220.6 L864 221.4 L863.7 222.9 L863.3 220.9 L863 220.8 L862.6 218.1 L862.3 218.9 L861.9 218 L861.6 218.2 L861.2 218.8 L860.9 218.7 L860.6 220.4 L860.2 219.2 L859.9 219.4 L859.5 221.9 L859.2 220.2 L858.8 220.7 L858.5 220.1 L858.1 218.5 L857.8 218.3 L857.4 219.2 L857.1 218.7 L856.8 218.1 L856.4 217.4 L856.1 217.5 L855.7 217.3 L855.4 219 L855 215.9 L854.7 217 L854.3 215.8 L854 215.6 L853.7 216.2 L853.3 215.7 L853 216.3 L852.6 214.4 L852.3 214.4 L851.9 214.1 L851.6 213.6 L851.2 213.8 L850.9 213.5 L850.6 213.8 L850.2 212.8 L849.9 215.2 L849.5 212.2 L849.2 214.5 L848.8 214.9 L848.5 214.1 L848.1 214.6 L847.8 216.5 L847.4 214.6 L847.1 217 L846.8 216.2 L846.4 215.3 L846.1 214.9 L845.7 214.8 L845.4 214.4 L845 213.2 L844.7 214.5 L844.3 213 L844 212.7 L843.7 213.1 L843.3 212.2 L843 210 L842.6 212 L842.3 210.3 L841.9 209.9 L841.6 210.3 L841.2 210.8 L840.9 211.1 L840.6 211.5 L840.2 212.3 L839.9 212.9 L839.5 211.9 L839.2 212.3 L838.8 213.5 L838.5 211.4 L838.1 211.7 L837.8 211 L837.4 210.5 L837.1 214.1 L836.8 210.5 L836.4 209.8 L836.1 209.7 L835.7 210.1 L835.4 210.1 L835 207.2 L834.7 211.2 L834.3 209.3 L834 212.2 L833.7 215.2 L833.3 213.9 L833 215 L832.6 216.8 L832.3 215.6 L831.9 214 L831.6 215.9 L831.2 214.8 L830.9 215.7 L830.6 215.6 L830.2 214.2 L829.9 215.3 L829.5 213.7 L829.2 213.6 L828.8 216.5 L828.5 214.8 L828.1 215.7 L827.8 215.9 L827.4 216.9 L827.1 216.7 L826.8 217.6 L826.4 218.3 L826.1 218.5 L825.7 217.6 L825.4 215.8 L825 218.2 L824.7 216.3 L824.3 217.4 L824 217.1 L823.7 216.2 L823.3 215.3 L823 215.1 L822.6 215 L822.3 216.9 L821.9 216.2 L821.6 215 L821.2 213.7 L820.9 216.8 L820.5 216.8 L820.2 216.9 L819.8 215.7 L819.5 215.9 L819.1 216.1 L818.8 216.1 L818.4 216.9 L818.1 215.7 L817.7 213.8 L817.4 213.2 L817 213.4 L816.7 210.7 L816.3 211.6 L816 211 L815.6 212.5 L815.3 211.9 L814.9 209.9 L814.6 211 L814.2 208 L813.9 203.8 L813.5 204.2 L813.2 204.5 L812.8 202.9 L812.5 202.8 L812.1 202.7 L811.8 203.5 L811.4 204.9 L811.1 206.5 L810.7 207.9 L810.4 207.9 L810 206.3 L809.6 209.5 L809.3 211.6 L808.9 208.2 L808.5 210 L808.2 209.9 L807.8 211.8 L807.5 209.3 L807.1 211.7 L806.7 211.5 L806.4 212.1 L806 212.6 L805.7 211.5 L805.3 213.5 L805 212.2 L804.6 211.6 L804.3 213.5 L803.9 214.7 L803.6 212.3 L803.2 213.7 L802.9 214.2 L802.6 216.1 L802.2 216.7 L801.9 216.3 L801.5 216.5 L801.2 216.7 L800.8 217 L800.5 216.2 L800.1 217.2 L799.8 214.4 L799.4 216.4 L799.1 214.4 L798.8 214.9 L798.4 214.7 L798.1 212.5 L797.7 212.8 L797.4 214.5 L797 213.3 L796.7 215 L796.3 214.5 L796 213.4 L795.7 217.4 L795.3 215.5 L795 216.2 L794.6 218.3 L794.3 217.4 L793.9 217.9 L793.6 218.3 L793.2 214.3 L792.9 216.4 L792.5 213.8 L792.2 213.6 L791.8 210.2 L791.5 210.9 L791.1 210 L790.8 210.4 L790.4 210.3 L790.1 210.4 L789.7 209 L789.4 209.6 L789 208.5 L788.7 209 L788.3 206.2 L788 208 L787.7 205.7 L787.3 206.2 L787 205 L786.6 206.8 L786.3 208.9 L785.9 209.2 L785.6 209.4 L785.2 209.4 L784.9 211.9 L784.5 213.2 L784.2 212.3 L783.8 213.8 L783.5 214.4 L783.1 213.3 L782.8 212.4 L782.4 211.1 L782.1 209.3 L781.7 207.7 L781.4 207.7 L781 206.1 L780.7 206.9 L780.3 206.5 L780 205.9 L779.6 205.2 L779.3 207.9 L778.9 208.6 L778.5 209.3 L778.2 209.3 L777.8 210.3 L777.5 211.3 L777.1 212.4 L776.7 209.4 L776.4 208.5 L776 211.2 L775.6 211.5 L775.3 212.1 L774.9 212.7 L774.5 215 L774.2 215.8 L773.8 212.7 L773.5 215.2 L773.1 215.8 L772.7 219 L772.4 219.2 L772 221.9 L771.6 222.9 L771.3 226.3 L770.9 228.1 L770.6 232.2 L770.2 231.4 L769.9 231.9 L769.5 234 L769.2 235.7 L768.8 234.2 L768.5 233 L768.1 236.8 L767.8 235.3 L767.4 237.3 L767.1 240 L766.7 243.2 L766.4 245 L766 248 L765.6 248.7 L765.3 248 L764.9 250 L764.6 251.7 L764.2 248.8 L763.9 252.3 L763.5 252 L763.2 256 L762.8 255.4 L762.5 257.7 L762.1 256.9 L761.8 260 L761.4 258.2 L761.1 259.2 L760.7 259.4 L760.4 261.2 L760 261.5 L759.6 263.1 L759.3 266.2 L758.9 266.9 L758.5 267.9 L758.2 269.4 L757.8 272.6 L757.5 273.6 L757.1 276.7 L756.7 277.8 L756.4 278.8 L756 281.4 L755.6 285.6 L755.3 285.3 L754.9 286.7 L754.5 287.6 L754.2 289.6 L753.8 292.2 L753.5 290.7 L753.1 295.2 L752.7 297.5 L752.4 297.7 L752 301.4 L751.6 302.2 L751.3 304.6 L750.9 306.3 L750.5 309.3 L750.2 312.1 L749.8 311.8 L749.5 312.6 L749.1 314.6 L748.7 315.2 L748.4 316.6 L748 316 L747.7 317.6 L747.3 317.7 L747 318.5 L746.6 319 L746.3 319 L745.9 321.1 L745.6 319.9 L745.2 323.1 L744.9 323.3 L744.5 321.8 L744.2 325 L743.8 327.5 L743.5 327.7 L743.1 328.8 L742.8 327.4 L742.4 327.6 L742.1 326.7 L741.7 327.4 L741.4 326.6 L741 328.5 L740.7 327.6 L740.3 328.7 L740 328.4 L739.7 329.6 L739.3 330.5 L739 330.3 L738.6 330.9 L738.3 330.6 L737.9 331.4 L737.6 330.2 L737.2 331.3 L736.9 332 L736.5 332.1 L736.2 332.1 L735.8 334 L735.5 333.1 L735.1 333.9 L734.8 334.3 L734.4 333.5 L734.1 333.8 L733.7 332.5 L733.4 335.4 L733 334.9 L732.7 334.7 L732.3 333.8 L732 333.1 L731.7 333 L731.3 333.8 L731 334.5 L730.6 335.1 L730.3 335.1 L729.9 335.6 L729.6 335.2 L729.2 333.2 L728.9 335.5 L728.5 333.2 L728.2 332.4 L727.8 331.9 L727.5 329.9 L727.1 327.8 L726.8 327.6 L726.4 327 L726.1 325.6 L725.7 324.4 L725.4 329.9 L725 325.8 L724.7 327.1 L724.3 327 L724 325.7 L723.7 327.4 L723.3 328.8 L723 329.3 L722.6 329.8 L722.3 330.1 L721.9 329.6 L721.6 328.8 L721.2 329.7 L720.9 329.8 L720.5 331.5 L720.2 330.6 L719.8 330.6 L719.5 330 L719.1 329.5 L718.8 329 L718.4 329.6 L718.1 330 L717.7 328.8 L717.4 327.1 L717 327.6 L716.7 328.8 L716.3 329.9 L716 328.1 L715.7 328.5 L715.3 330.7 L715 331.1 L714.6 332.2 L714.3 332.8 L713.9 334.7 L713.6 335.1 L713.2 335 L712.9 338.7 L712.5 338 L712.2 336.2 L711.8 338 L711.5 339.3 L711.1 340 L710.8 340.2 L710.4 340.9 L710.1 341.5 L709.7 340.3 L709.4 343.9 L709 343.4 L708.7 342.5 L708.3 343.9 L708 342.2 L707.7 341.2 L707.3 342.1 L707 341.1 L706.6 343.3 L706.3 342.5 L705.9 340.7 L705.6 339.7 L705.2 341.1 L704.9 341.7 L704.5 342 L704.2 342.8 L703.8 342.1 L703.5 343.3 L703.1 343.7 L702.8 342.1 L702.4 342.2 L702.1 340.3 L701.7 340.4 L701.4 338.7 L701 338.3 L700.7 338.2 L700.3 337.4 L700 336.9 L699.7 338.7 L699.3 337.7 L699 337.1 L698.6 337.8 L698.3 340.5 L697.9 337.8 L697.6 337.8 L697.2 337.7 L696.9 336.5 L696.5 335.8 L696.2 336 L695.8 333.9 L695.5 336.7 L695.1 333.8 L694.8 334.3 L694.4 333.3 L694.1 336.7 L693.7 335.3 L693.4 334.9 L693 334.4 L692.7 334.5 L692.3 334.9 L692 334.6 L691.6 334.2 L691.3 335 L690.9 336.2 L690.6 334.5 L690.2 334.5 L689.9 334.9 L689.5 333.7 L689.2 334 L688.8 334.4 L688.5 334.1 L688.1 333.1 L687.8 333.9 L687.4 332.6 L687.1 334.2 L686.7 334.1 L686.4 336.7 L686 335.1 L685.7 337.3 L685.3 338.9 L685 340.5 L684.7 339.1 L684.3 340.3 L684 338.4 L683.7 338.1 L683.3 337.7 L683 337.3 L682.6 336.3 L682.3 336.8 L681.9 335.6 L681.5 336.7 L681.2 338 L680.8 336.7 L680.5 337.9 L680.1 338.2 L679.7 338.9 L679.4 342.8 L679 343.2 L678.6 344.5 L678.3 346.5 L677.9 348.7 L677.6 348.7 L677.2 348 L676.9 348.9 L676.5 347.8 L676.1 348.2 L675.8 347.3 L675.4 347.9 L675.1 349.5 L674.7 345.5 L674.4 345.3 L674 346.6 L673.7 347.4 L673.3 350.9 L673 349.1 L672.6 349.1 L672.3 351.7 L671.9 350.6 L671.6 351.3 L671.2 351.1 L670.9 351.4 L670.5 349.9 L670.2 348.1 L669.8 347.3 L669.5 347.5 L669.1 346.5 L668.8 344.9 L668.4 346.5 L668.1 346.2 L667.7 345.5 L667.4 345.6 L667 344.4 L666.7 345.4 L666.3 343.1 L666 344 L665.6 343.7 L665.3 344 L664.9 344.4 L664.6 346.3 L664.2 346.7 L663.9 348.2 L663.5 348.2 L663.1 350.9 L662.8 349.5 L662.4 351.9 L662.1 352 L661.7 350.8 L661.4 351.1 L661 350.9 L660.6 351.1 L660.3 350.1 L660 351 L659.6 351.6 L659.2 351.7 L658.9 350.9 L658.5 349 L658.2 349.4 L657.9 351 L657.5 350.3 L657.1 349.6 L656.8 350.1 L656.5 351 L656.1 349.3 L655.8 349.6 L655.4 349.1 L655 348.8 L654.7 351.4 L654.4 351.4 L654 349.5 L653.6 353.6 L653.3 352 L652.9 352 L652.5 352.9 L652.2 354.9 L651.8 354.6 L651.5 352.6 L651.1 352.9 L650.7 355.7 L650.4 357.1 L650 355.9 L649.6 357.3 L649.3 356.5 L648.9 357.9 L648.6 356 L648.2 359.3 L647.9 356.1 L647.5 356.5 L647.2 358.3 L646.8 358.4 L646.5 360.6 L646.1 359.6 L645.8 361.8 L645.4 361 L645.1 360.9 L644.7 363.8 L644.4 363.1 L644 362.5 L643.6 360.7 L643.3 359.7 L643 358.7 L642.6 356.4 L642.2 358.8 L641.9 357.5 L641.5 356.7 L641.2 356.2 L640.9 356.1 L640.5 356.5 L640.1 354.4 L639.8 352.7 L639.5 352.8 L639.1 351.1 L638.8 351 L638.4 349.5 L638 350.4 L637.7 348.1 L637.4 348.1 L637 347.3 L636.6 344.7 L636.3 345 L636 342.4 L635.6 343.7 L635.2 342.7 L634.9 342.5 L634.5 340.4 L634.2 341.2 L633.9 339.8 L633.5 338.5 L633.1 337.2 L632.8 335.5 L632.5 335.5 L632.1 335.1 L631.8 332.8 L631.4 332.9 L631 330.2 L630.7 329.5 L630.4 330.9 L630 331.1 L629.7 327.9 L629.3 329.7 L629 330 L628.6 330.1 L628.3 330.9 L627.9 331.8 L627.6 330.7 L627.2 330.6 L626.9 333.3 L626.5 332.1 L626.2 332.5 L625.8 330.6 L625.5 329.1 L625.1 329.1 L624.8 326.9 L624.4 325.9 L624.1 324 L623.7 322 L623.4 322.9 L623 322.8 L622.7 321.4 L622.3 319.9 L622 319.9 L621.7 320.1 L621.3 321.6 L621 320.1 L620.6 320.7 L620.3 322.2 L620 322 L619.6 322.7 L619.3 324.7 L618.9 325.8 L618.6 326.7 L618.2 325.9 L617.9 325.9 L617.5 326.5 L617.1 327.2 L616.8 326.8 L616.4 326.2 L616.1 327.2 L615.7 327.3 L615.3 328.9 L615 329.7 L614.6 328.7 L614.2 332.2 L613.9 330 L613.5 332.6 L613.2 332.4 L612.8 333.7 L612.4 335.9 L612.1 336.8 L611.7 337.2 L611.3 334 L611 337.8 L610.6 337.4 L610.2 338.3 L609.9 339.6 L609.5 341.9 L609.2 341.9 L608.8 342.6 L608.4 345.9 L608.1 346.5 L607.7 345.8 L607.3 346.1 L607 348.1 L606.6 347 L606.2 349.5 L605.9 348.2 L605.5 348.7 L605.2 348.7 L604.8 351 L604.4 350.8 L604.1 349.4 L603.7 353.3 L603.3 351.8 L603 352.8 L602.6 354.8 L602.3 355.5 L601.9 356.5 L601.5 358.3 L601.2 356.7 L600.8 361.2 L600.5 362.9 L600.1 361.6 L599.7 362.5 L599.4 365.5 L599 365.8 L598.7 365.4 L598.3 366.7 L597.9 369.2 L597.6 366.9 L597.2 370 L596.9 368.9 L596.5 367.1 L596.2 367.5 L595.8 367 L595.5 368.4 L595.1 366.3 L594.8 367.3 L594.4 368.9 L594.1 368.9 L593.7 368.4 L593.4 369.2 L593 370.5 L592.6 371.1 L592.3 374.3 L591.9 375.4 L591.5 375.6 L591.2 378.3 L590.8 378.9 L590.5 382.5 L590.1 380.7 L589.7 382.2 L589.4 383.8 L589 384.9 L588.6 385.8 L588.3 388.5 L587.9 387.3 L587.5 391.3 L587.2 390 L586.8 392.6 L586.5 392.4 L586.1 395.3 L585.7 394.7 L585.4 396.3 L585 398.6 L584.6 399.7 L584.3 399.7 L583.9 399.9 L583.6 401.9 L583.2 401.5 L582.9 401.3 L582.5 401.6 L582.2 401.9 L581.8 402 L581.5 402.7 L581.1 404.3 L580.8 405.6 L580.4 407.9 L580.1 409.4 L579.7 409.9 L579.3 409.1 L579 409.4 L578.6 409.1 L578.3 409.1 L577.9 407.5 L577.6 409.5 L577.2 409 L576.9 411.6 L576.5 411.4 L576.2 412.4 L575.8 415.7 L575.4 416.4 L575.1 416.4 L574.7 416.8 L574.4 416.8 L574 418 L573.7 419.8 L573.3 421.4 L573 420.8 L572.6 422.3 L572.2 421.6 L571.9 423.7 L571.5 423.8 L571.2 425.2 L570.8 425.2 L570.5 424 L570.1 424.9 L569.8 422.6 L569.4 422.6 L569.1 423.6 L568.7 422 L568.3 422.1 L568 425.2 L567.6 427.3 L567.3 427.5 L566.9 427.4 L566.5 429.1 L566.2 427.2 L565.8 429.8 L565.5 429.4 L565.1 431.8 L564.7 430.6 L564.4 432.6 L564 432.3 L563.7 433.5 L563.3 435.2 L562.9 435.5 L562.6 434 L562.2 434 L561.9 432.2 L561.5 433.5 L561.2 434.2 L560.8 432 L560.5 434.5 L560.1 434.1 L559.8 436.1 L559.4 438.1 L559.1 441.2 L558.7 440.5 L558.4 441.3 L558 443.8 L557.6 444.5 L557.3 446.1 L556.9 447.9 L556.5 448.3 L556.2 449.3 L555.8 448.5 L555.5 449.1 L555.1 449.8 L554.7 450.4 L554.4 451 L554 452.9 L553.6 452.8 L553.3 455.1 L552.9 457.8 L552.5 458 L552.2 458.8 L551.8 460.5 L551.5 461.3 L551.1 460.8 L550.7 459.6 L550.4 461.2 L550 459.9 L549.6 461.8 L549.3 462 L548.9 462.7 L548.5 464.2 L548.2 465.5 L547.8 463.1 L547.5 462.7 L547.1 461.5 L546.7 463.6 L546.4 462.1 L546 462 L545.6 459.3 L545.3 461.1 L544.9 462.9 L544.5 464.1 L544.2 467.1 L543.8 467.4 L543.5 468.8 L543.1 470 L542.7 470.8 L542.4 471.2 L542 472.4 L541.7 471.9 L541.3 471.6 L541 472.9 L540.6 471.8 L540.3 472.7 L539.9 473.7 L539.6 474.1 L539.2 473.5 L538.9 474.2 L538.5 474.5 L538.2 472.8 L537.9 474.6 L537.5 473 L537.2 472.8 L536.8 475.1 L536.5 473.7 L536.1 476.8 L535.8 475.7 L535.4 477.7 L535.1 480 L534.8 480.2 L534.4 481.4 L534.1 481.5 L533.7 481.8 L533.4 481.5 L533 481.6 L532.7 481.7 L532.3 479 L532 481 L531.6 481.4 L531.3 480.2 L531 479.2 L530.6 480.1 L530.3 480.8 L529.9 482.5 L529.6 482.4 L529.2 483.5 L528.9 484.2 L528.5 484.6 L528.2 486.6 L527.8 487.6 L527.5 489.2 L527.1 488.5 L526.8 490.3 L526.4 489.2 L526.1 491.6 L525.7 491.8 L525.4 492.2 L525 490.7 L524.7 490.6 L524.3 493.1 L524 492.5 L523.6 493.1 L523.3 493.4 L522.9 497 L522.5 496.9 L522.2 496.6 L521.8 498.7 L521.4 499.2 L521.1 496.7 L520.7 498.6 L520.4 501.2 L520 500.9 L519.7 499.7 L519.3 500.3 L519 502.3 L518.6 503.3 L518.3 502.1 L517.9 504 L517.6 503.4 L517.2 502.4 L516.9 502.9 L516.5 503.1 L516.2 503.4 L515.8 502.4 L515.5 501.9 L515.1 504.6 L514.8 503.3 L514.4 504.5 L514.1 503.3 L513.7 503.4 L513.4 505.2 L513 503.1 L512.7 504.7 L512.3 504.9 L512 505.1 L511.7 505.1 L511.3 506.5 L511 505.2 L510.6 507.3 L510.3 507.4 L509.9 506.3 L509.6 506.4 L509.2 505.5 L508.9 504.1 L508.5 507.2 L508.2 506.4 L507.8 502.2 L507.5 504.2 L507.1 503.7 L506.8 502.7 L506.4 504.4 L506.1 504.2 L505.7 503 L505.4 503 L505 503.2 L504.7 505.7 L504.3 506.6 L504 504.9 L503.7 507 L503.3 504.6 L503 504 L502.6 501.7 L502.3 503.4 L501.9 502 L501.6 502.5 L501.2 503.1 L500.9 503.7 L500.5 501.7 L500.2 503.5 L499.8 503.1 L499.5 504.1 L499.1 503.8 L498.8 502.3 L498.4 503.3 L498.1 500.8 L497.7 500.4 L497.4 498.6 L497 497.4 L496.7 496.8 L496.3 497 L496 496.7 L495.7 500 L495.3 497.2 L495 498.9 L494.6 498.3 L494.3 498.3 L493.9 499.1 L493.6 500 L493.2 500.8 L492.9 500.2 L492.6 503 L492.2 501.9 L491.9 500.3 L491.5 502.1 L491.2 502.3 L490.8 503.3 L490.5 503.4 L490.1 503.2 L489.8 503.2 L489.4 503.2 L489.1 506.7 L488.8 504.1 L488.4 507.2 L488.1 507.2 L487.7 506 L487.4 509.7 L487 508.5 L486.7 507.7 L486.3 509 L486 509 L485.6 510.3 L485.3 510.7 L484.9 510.4 L484.6 510.2 L484.2 507.6 L483.9 508.8 L483.5 507.8 L483.2 507.7 L482.8 508.7 L482.5 507.5 L482.1 506.5 L481.8 506.2 L481.4 507.1 L481.1 506.1 L480.7 507.7 L480.4 508.4 L480 508.6 L479.7 506.5 L479.3 504.1 L479 505.3 L478.6 505.2 L478.3 505.1 L477.9 504.2 L477.6 502.9 L477.2 501.9 L476.9 501.8 L476.5 501.3 L476.2 500 L475.8 502.3 L475.5 499.6 L475.1 501.9 L474.8 501.2 L474.4 501.7 L474.1 500.9 L473.7 503.4 L473.4 504.3 L473 501.1 L472.7 503.3 L472.3 502 L472 501 L471.6 500.8 L471.3 499.9 L470.9 500.1 L470.6 500.2 L470.2 500.1 L469.9 500.6 L469.5 499 L469.2 500.9 L468.8 500.2 L468.5 500 L468.2 499.7 L467.8 500.1 L467.5 497.4 L467.1 498 L466.8 498.6 L466.4 496.6 L466.1 496.5 L465.7 495.5 L465.4 496.1 L465 497.8 L464.7 497 L464.3 496.9 L464 495.7 L463.7 496.7 L463.3 497 L463 496.9 L462.6 498.2 L462.3 497.5 L461.9 497 L461.6 499.3 L461.2 499.4 L460.9 499.3 L460.5 498.7 L460.2 501.3 L459.8 502.6 L459.5 502.7 L459.2 500.4 L458.8 503.8 L458.5 503.4 L458.1 503.1 L457.8 503.4 L457.4 506.4 L457.1 505.3 L456.7 506.2 L456.4 507.2 L456 508.5 L455.7 508 L455.3 507.3 L455 507.2 L454.6 507.9 L454.3 508.2 L453.9 506.5 L453.6 506 L453.2 504.5 L452.9 506.9 L452.5 503.3 L452.2 506.3 L451.8 504.3 L451.5 503.4 L451.1 503.9 L450.8 505.1 L450.4 504.8 L450.1 504.3 L449.7 505.9 L449.4 504.9 L449 507.3 L448.7 509.3 L448.3 506.8 L448 507.2 L447.6 507 L447.3 507.6 L446.9 505.1 L446.6 504.9 L446.2 504.7 L445.9 503.7 L445.5 505.8 L445.2 504.2 L444.8 504.5 L444.5 507.6 L444.1 508.4 L443.8 506.1 L443.4 507.1 L443.1 506.1 L442.7 506.4 L442.4 503.2 L442 505.6 L441.7 505 L441.3 505.6 L441 506.3 L440.7 505.3 L440.3 506.1 L440 503.9 L439.6 504.1 L439.3 505.1 L438.9 504.5 L438.6 504.3 L438.2 503.3 L437.9 504.4 L437.5 504.3 L437.2 505.4 L436.8 505.2 L436.5 506.9 L436.1 503.8 L435.8 505.2 L435.4 505.1 L435.1 503.9 L434.7 504.1 L434.4 504.5 L434 503.4 L433.7 501.2 L433.3 501.7 L433 501.2 L432.7 501.9 L432.3 501.1 L432 502.7 L431.7 502.4 L431.3 503.8 L431 504.7 L430.7 505.8 L430.3 504.6 L430 506.5 L429.6 507.6 L429.3 508 L428.9 509 L428.6 511 L428.2 510.5 L427.9 512.2 L427.5 511.7 L427.2 513.6 L426.8 513.6 L426.5 517.5 L426.1 517.1 L425.8 517.6 L425.4 517.3 L425.1 517.9 L424.7 516.7 L424.4 516.6 L424 512.3 L423.6 514.7 L423.3 514 L422.9 513.3 L422.6 514 L422.2 512.1 L421.9 514.6 L421.5 513.5 L421.2 514.1 L420.8 513.7 L420.5 514.2 L420.1 513.6 L419.8 513 L419.4 512.9 L419.1 514.4 L418.7 514.2 L418.4 513.9 L418 514 L417.6 515.2 L417.3 515.3 L416.9 514.9 L416.6 514.4 L416.2 513.5 L415.9 514.6 L415.5 514.5 L415.2 513.6 L414.8 514 L414.5 514 L414.1 514.1 L413.8 513.4 L413.4 513.2 L413.1 512.5 L412.7 513.6 L412.4 511.9 L412 513.4 L411.6 510.7 L411.3 511.5 L410.9 511 L410.6 509.8 L410.2 509.4 L409.9 510.7 L409.5 508.8 L409.2 510.2 L408.8 508.1 L408.5 508.4 L408.1 510.4 L407.8 509.1 L407.4 508.4 L407.1 509 L406.7 508.3 L406.3 507.9 L406 504.7 L405.6 505.7 L405.3 506.8 L404.9 505.2 L404.6 504.2 L404.2 504.1 L403.9 502.7 L403.5 502.1 L403.2 501.9 L402.8 497.6 L402.5 501.4 L402.1 500.7 L401.8 498.7 L401.4 501.1 L401.1 498.7 L400.7 498.7 L400.4 501.1 L400 500.6 L399.6 500.2 L399.3 499.7 L398.9 500.1 L398.6 502.6 L398.2 500 L397.9 498.8 L397.5 499.7 L397.2 498.8 L396.8 498.3 L396.5 498.7 L396.1 499.8 L395.8 499.9 L395.4 501.1 L395.1 500.6 L394.7 501.8 L394.4 501 L394 502.2 L393.7 501.7 L393.3 501.4 L392.9 498.8 L392.6 499.6 L392.2 498.7 L391.9 496.2 L391.5 496.2 L391.2 497.1 L390.8 496.4 L390.5 493.7 L390.1 492.4 L389.8 491.9 L389.4 491 L389.1 489.3 L388.7 491.6 L388.4 490.3 L388 489.4 L387.7 489.2 L387.3 489.3 L387 489.5 L386.6 487.9 L386.3 487.5 L385.9 485.5 L385.6 484 L385.2 484 L384.9 482.6 L384.5 480.4 L384.2 480.9 L383.8 479.3 L383.5 479.1 L383.1 479.3 L382.8 479.1 L382.4 479.2 L382.1 481.3 L381.7 479 L381.4 481.5 L381 481.2 L380.7 480.4 L380.3 481 L380 479.4 L379.6 479.5 L379.3 479.7 L378.9 477.8 L378.5 476 L378.2 477.8 L377.8 475.5 L377.5 476.5 L377.1 478.4 L376.7 476.2 L376.4 478.9 L376 479 L375.7 477.2 L375.3 475.1 L375 476.4 L374.6 473.9 L374.3 472.4 L373.9 473.5 L373.6 473.9 L373.2 472.5 L372.9 473.2 L372.5 473.2 L372.2 476.1 L371.8 474.5 L371.5 472 L371.1 473.7 L370.8 474.4 L370.4 474.5 L370.1 471 L369.7 470.7 L369.4 472.7 L369 470.4 L368.7 470.7 L368.3 468.1 L368 468.8 L367.6 464.1 L367.3 465.6 L366.9 466.4 L366.6 464.1 L366.2 466.5 L365.9 465.5 L365.6 467.2 L365.2 466.4 L364.9 467.5 L364.5 470.2 L364.1 470.7 L363.8 469 L363.4 468.8 L363.1 467.9 L362.8 468.4 L362.4 465.8 L362.1 467.8 L361.7 466.7 L361.4 465.9 L361 465.8 L360.6 464.9 L360.3 465.4 L359.9 463.6 L359.6 462.9 L359.2 461.7 L358.9 461.4 L358.5 461.1 L358.1 458.7 L357.8 460.6 L357.4 458.5 L357.1 458.5 L356.7 459.6 L356.4 459.7 L356 458.9 L355.7 456.7 L355.3 458.1 L355 458.8 L354.6 457.1 L354.3 457.9 L353.9 455.8 L353.6 457.4 L353.2 457 L352.9 457.3 L352.5 456.6 L352.2 457.6 L351.8 456.6 L351.5 455.2 L351.1 456.7 L350.8 456.5 L350.4 456.2 L350.1 455.7 L349.7 456.5 L349.4 457.5 L349 455.2 L348.7 458.5 L348.3 456.3 L348 455.2 L347.7 455.3 L347.3 454 L347 452.9 L346.6 454.4 L346.3 453.6 L345.9 453.3 L345.6 453.8 L345.2 453.4 L344.9 453.2 L344.5 454.9 L344.2 454.9 L343.8 451 L343.5 454.3 L343.1 451.4 L342.8 450.3 L342.4 450.6 L342.1 450.3 L341.7 447.5 L341.4 446.1 L341 449.2 L340.7 450.1 L340.3 449.6 L340 450.2 L339.6 450.7 L339.3 452.9 L338.9 455.2 L338.6 454.3 L338.2 456.6 L337.9 457.5 L337.6 457.1 L337.2 457.7 L336.9 459 L336.5 459.8 L336.1 457.3 L335.8 458.5 L335.4 459.4 L335.1 456.8 L334.8 458.2 L334.4 459.8 L334.1 460.9 L333.7 462.7 L333.4 460.4 L333 462 L332.6 462.4 L332.3 462.2 L331.9 460.2 L331.6 458.4 L331.2 460.9 L330.9 459.1 L330.6 458.6 L330.2 461.5 L329.9 460 L329.5 460.7 L329.1 462.7 L328.8 464.3 L328.4 463.1 L328.1 465.9 L327.8 464.4 L327.4 464.3 L327.1 462.1 L326.7 464.8 L326.4 462.7 L326 462.9 L325.7 462.8 L325.3 463.4 L325 464.6 L324.6 460.8 L324.3 463.1 L323.9 465.1 L323.6 464.3 L323.2 464.4 L322.9 464.1 L322.5 464.5 L322.2 465.4 L321.8 464.5 L321.5 464.3 L321.1 463.3 L320.8 463 L320.4 463.1 L320.1 462.9 L319.7 462.3 L319.4 462.6 L319 464.9 L318.7 465.4 L318.3 465.8 L318 464.8 L317.7 468.1 L317.3 467.9 L317 467.4 L316.6 466.7 L316.3 468.7 L315.9 466.1 L315.6 465.9 L315.2 466.9 L314.9 465.9 L314.6 466.1 L314.2 466.1 L313.9 468.9 L313.5 468 L313.2 467.6 L312.8 468.6 L312.5 465.6 L312.1 467.2 L311.8 466.3 L311.4 465 L311.1 465.2 L310.8 464.8 L310.4 465 L310.1 462.9 L309.7 464.9 L309.4 464.1 L309 465.1 L308.7 464.5 L308.3 464.4 L308 463 L307.7 463.2 L307.3 464.7 L307 463 L306.6 464.3 L306.3 463.8 L305.9 464.3 L305.6 466.3 L305.2 468.5 L304.9 472.4 L304.6 469.6 L304.2 471.7 L303.9 470.8 L303.5 471.5 L303.2 471.1 L302.8 471 L302.5 471.4 L302.1 471.7 L301.8 471 L301.4 470.8 L301.1 472.9 L300.8 472.6 L300.4 474.7 L300.1 474.4 L299.7 474.7 L299.4 476.8 L299 479 L298.7 479.2 L298.3 477.9 L298 478.8 L297.7 477.1 L297.3 477 L297 475.4 L296.6 476 L296.3 476.6 L295.9 476.8 L295.6 478 L295.2 477.6 L294.9 478.9 L294.5 477.8 L294.2 478.4 L293.8 476.9 L293.5 478.3 L293.1 476.9 L292.8 477.9 L292.4 477.3 L292.1 478.1 L291.7 475.8 L291.4 478.2 L291 479.9 L290.7 480.5 L290.3 479.5 L290 480.1 L289.6 480.6 L289.3 483.1 L288.9 480.9 L288.6 482.8 L288.2 481.3 L287.9 482.5 L287.6 482.6 L287.2 482.7 L286.9 480.7 L286.5 484.4 L286.1 483.1 L285.8 483.5 L285.4 480.2 L285.1 480.6 L284.8 478.5 L284.4 479 L284.1 478.8 L283.7 478.5 L283.4 476.9 L283 476.3 L282.6 479.5 L282.3 480.3 L281.9 479.1 L281.6 481.6 L281.2 478.9 L280.9 481.5 L280.6 481.6 L280.2 481.3 L279.9 480.3 L279.5 479.9 L279.1 482.5 L278.8 479.9 L278.4 478.7 L278.1 481.5 L277.8 481.1 L277.4 481.6 L277.1 479.4 L276.7 479.7 L276.4 481.6 L276 480.3 L275.6 478.8 L275.3 480.8 L274.9 479.3 L274.6 480.3 L274.2 482.4 L273.9 480.8 L273.5 483.8 L273.2 484.3 L272.8 485.6 L272.5 485.2 L272.1 484.3 L271.8 485.2 L271.4 485.8 L271.1 484.4 L270.7 483.6 L270.4 483.9 L270 482.4 L269.6 484.8 L269.3 483 L268.9 483 L268.6 482.3 L268.2 483.7 L267.9 484.3 L267.5 485.9 L267.2 486.3 L266.8 487.6 L266.5 488.5 L266.1 489.6 L265.8 489.2 L265.4 489.1 L265.1 486.6 L264.7 491 L264.4 490.2 L264 488.8 L263.7 490.3 L263.3 489.4 L263 489.6 L262.6 487.4 L262.3 487.9 L261.9 486.1 L261.6 487.6 L261.2 487.2 L260.9 490.2 L260.6 488.7 L260.2 488.4 L259.9 491.1 L259.5 492 L259.2 493.7 L258.8 492.6 L258.5 492.1 L258.1 491.4 L257.8 489 L257.4 491 L257.1 490.9 L256.8 489.8 L256.4 487.6 L256.1 488.5 L255.7 487.7 L255.4 486.6 L255 488.9 L254.7 487.6 L254.3 487.5 L254 489.4 L253.7 492.5 L253.3 490 L253 492.6 L252.6 491.1 L252.3 490.2 L251.9 491 L251.6 491.6 L251.2 491.6 L250.9 489.4 L250.6 488.9 L250.2 488.9 L249.9 486.4 L249.5 485.7 L249.2 486.4 L248.8 485.9 L248.5 486.4 L248.1 487.6 L247.8 485.3 L247.4 486.1 L247.1 487.9 L246.8 483.7 L246.4 483.6 L246.1 484.5 L245.7 484 L245.4 483.5 L245 485.4 L244.7 483.2 L244.3 482.3 L244 484.6 L243.7 484.8 L243.3 485.3 L243 486.3 L242.6 486.4 L242.3 487.6 L241.9 490.2 L241.6 489.7 L241.2 487.2 L240.9 489.8 L240.6 490.1 L240.2 488.2 L239.9 490.3 L239.5 491.4 L239.2 489.5 L238.8 488.8 L238.5 491.2 L238.1 492.7 L237.8 491.8 L237.4 493.8 L237.1 494.4 L236.8 496 L236.4 495.9 L236.1 493.9 L235.7 494.8 L235.4 496.3 L235 499.2 L234.7 497.6 L234.3 497.2 L234 497.9 L233.7 499.7 L233.3 498.4 L233 500 L232.6 498.5 L232.3 496.3 L231.9 495.4 L231.6 497.5 L231.2 494.9 L230.9 496.7 L230.5 494.6 L230.2 495.7 L229.9 494.5 L229.5 494 L229.2 494.5 L228.8 495.1 L228.5 493.5 L228.1 494.6 L227.8 492.2 L227.4 493.9 L227.1 494.9 L226.8 493.6 L226.4 492.9 L226.1 493.1 L225.7 493.8 L225.4 493.5 L225 494.9 L224.7 493 L224.3 489.5 L224 490.5 L223.6 487.3 L223.3 487.6 L223 487 L222.6 486.3 L222.3 486 L221.9 484.8 L221.6 484.3 L221.2 485.6 L220.9 486.5 L220.5 486.9 L220.2 486.6 L219.8 485.9 L219.5 486.9 L219.1 485.6 L218.8 483.7 L218.4 485.1 L218.1 483.4 L217.7 483.5 L217.4 483.5 L217 482.8 L216.7 483.5 L216.4 485.2 L216 483 L215.7 483.2 L215.3 483.2 L215 482.9 L214.6 481.8 L214.3 479.8 L213.9 480 L213.6 480.7 L213.2 480.3 L212.9 478 L212.5 477.2 L212.2 474.5 L211.8 476.9 L211.5 475 L211.1 473.4 L210.8 476 L210.4 475.8 L210.1 473.5 L209.7 475.6 L209.4 477.7 L209 474.8 L208.7 477.2 L208.3 475 L208 476.2 L207.6 479.3 L207.3 478.9 L206.9 478 L206.5 478.2 L206.2 478.3 L205.8 479 L205.5 480.6 L205.1 479.2 L204.7 481.1 L204.4 482.1 L204 481.6 L203.7 479.6 L203.3 482.3 L203 481.3 L202.6 479.1 L202.3 478.6 L201.9 477.5 L201.6 478.1 L201.2 477.8 L200.9 479.9 L200.5 478.2 L200.2 476.8 L199.8 478.3 L199.5 478.3 L199.1 480.8 L198.8 480.1 L198.4 479.3 L198.1 479.1 L197.7 480.1 L197.4 476.8 L197 476.1 L196.7 476.8 L196.3 472.8 L196 472.8 L195.6 471.3 L195.3 470.6 L194.9 470.6 L194.6 470.7 L194.2 466.7 L193.9 469.7 L193.5 466.7 L193.2 465.6 L192.8 468 L192.5 467.9 L192.1 467.3 L191.8 466.8 L191.4 467.3 L191.1 467.2 L190.7 463.5 L190.4 462.9 L190 462.8 L189.7 460.8 L189.3 462.5 L189 459.7 L188.6 459.3 L188.3 457.6 L187.9 457.2 L187.6 457.2 L187.2 456.3 L186.9 457.2 L186.5 457.1 L186.2 456.1 L185.8 452.9 L185.5 452.4 L185.1 453.7 L184.8 452.7 L184.4 454.5 L184.1 454.4 L183.7 454.1 L183.4 455.4 L183 453.2 L182.7 452.6 L182.3 452 L182 449.5 L181.7 448.1 L181.3 449.9 L181 450.8 L180.6 450 L180.3 452.9 L179.9 452.4 L179.6 453.4 L179.2 453.1 L178.9 453.3 L178.5 454.8 L178.2 455.3 L177.8 456.4 L177.5 454.9 L177.2 454.8 L176.8 453.4 L176.5 453 L176.1 453.3 L175.8 453.7 L175.4 453 L175.1 454.2 L174.7 453.5 L174.4 452.9 L174 452.6 L173.7 452.1 L173.3 451.8 L173 455 L172.7 451.5 L172.3 449 L172 447.5 L171.7 447.6 L171.3 445.8 L171 446.2 L170.7 443.8 L170.3 444 L170 443.9 L169.6 442.6 L169.3 442.3 L168.9 441.8 L168.5 440 L168.2 441 L167.8 438 L167.5 437 L167.1 435.3 L166.7 432.7 L166.4 432.3 L166 430.5 L165.6 430.6 L165.3 429.7 L164.9 429.2 L164.5 428.6 L164.2 425.3 L163.8 426.1 L163.5 424.4 L163.1 423.7 L162.7 422.1 L162.4 420.4 L162 419.2 L161.6 416.2 L161.3 413.7 L160.9 413.2 L160.5 411.2 L160.2 409.3 L159.8 408.7 L159.5 408.2 L159.1 404.9 L158.7 403.7 L158.4 402.4 L158 401.8 L157.7 397.6 L157.3 396.9 L157 396.6 L156.7 394.3 L156.3 391.4 L156 389.3 L155.7 388.4 L155.3 389.3 L155 384.4 L154.6 382.3 L154.3 383.1 L153.9 379.2 L153.6 376.8 L153.2 376.4 L152.9 374.5 L152.5 370.9 L152.1 370.2 L151.8 370.5 L151.4 367.1 L151.1 366.8 L150.7 365.5 L150.4 366.6 L150 365.9 L149.6 366.1 L149.3 363.5 L148.9 362.9 L148.6 361.8 L148.2 360.4 L147.9 358.6 L147.5 359.4 L147.1 357.6 L146.8 357.3 L146.4 356.4 L146.1 353.7 L145.7 353.8 L145.4 351.2 L145 350.4 L144.6 347.9 L144.3 347 L143.9 346.1 L143.6 341.8 L143.2 341.3 L142.9 339.6 L142.5 338.5 L142.1 337.8 L141.8 336.1 L141.4 335.7 L141.1 335.1 L140.7 335.5 L140.4 334 L140 335.1 L139.6 334.4 L139.3 332.9 L138.9 332.8 L138.6 330.6 L138.2 330.1 L137.9 330 L137.5 331.1 L137.1 327.4 L136.8 326.3 L136.4 324.3 L136.1 323.6 L135.7 321.1 L135.4 319.6 L135 317.7 L134.7 317.6 L134.3 312.9 L134 313.3 L133.7 313 L133.3 307.9 L133 306.7 L132.7 304.6 L132.3 303 L132 302 L131.7 299 L131.3 295.5 L131 292.2 L130.7 289.8 L130.3 287.1 L130 282.5 L129.6 281.1 L129.3 279.6 L128.9 277.6 L128.6 276.3 L128.2 272.5 L127.9 271.2 L127.5 271.3 L127.1 270.2 L126.8 268.8 L126.4 267.8 L126.1 267.6 L125.7 266 L125.4 265.4 L125 263.6 L124.7 263.1 L124.3 261.4 L124 260.5 L123.6 259.8 L123.3 260.8 L122.9 257.2 L122.6 258 L122.2 260.1 L121.9 257.4 L121.5 256.8 L121.2 256.2 L120.8 255.6 L120.5 256Z" style="fill:#0072b2;fill-opacity:0.2;stroke:#0072b2;stroke-opacity:0.2;stroke-width:2.2;stroke-linejoin:round"/></g>
   <g id="matplotlib.axis_1">
    <g id="xtick_1">
     <g id="line2d_1">
      <path d="M 109.8 390.6 
L 109.8 11.16 
" clip-path="url(#p7e00197a57)" style="fill: none; stroke: #808080; stroke-opacity: 0.2; stroke-linecap: square"/>
     </g>
     <g id="line2d_2">
      <defs>
       <path id="m1504cfccaf" d="M 0 0 
L 0 3.5 
" style="stroke: #000000; stroke-width: 0.8"/>
      </defs>
      <g>
       <use href="#m1504cfccaf" x="109.8" y="390.6" style="stroke: #000000; stroke-width: 0.8"/>
      </g>
     </g>
     <g id="text_1">
      <text style="font-size: 10px; font-family: 'DejaVu Sans', 'Liberation Sans', sans-serif; text-anchor: middle" x="109.150" y="404.468">2001</text>
     </g>
    </g>
    <g id="xtick_2">
     <g id="line2d_3">
      <path d="M 200.52 390.6 
L 200.52 11.16 
" clip-path="url(#p7e00197a57)" style="fill: none; stroke: #808080; stroke-opacity: 0.2; stroke-linecap: square"/>
     </g>
     <g id="line2d_4">
      <g>
       <use href="#m1504cfccaf" x="200.52" y="390.6" style="stroke: #000000; stroke-width: 0.8"/>
      </g>
     </g>
     <g id="text_2">
      <text style="font-size: 10px; font-family: 'DejaVu Sans', 'Liberation Sans', sans-serif; text-anchor: middle" x="199.870" y="404.468">2005</text>
     </g>
    </g>
    <g id="xtick_3">
     <g id="line2d_5">
      <path d="M 291.24 390.6 
L 291.24 11.16 
" clip-path="url(#p7e00197a57)" style="fill: none; stroke: #808080; stroke-opacity: 0.2; stroke-linecap: square"/>
     </g>
     <g id="line2d_6">
      <g>
       <use href="#m1504cfccaf" x="291.24" y="390.6" style="stroke: #000000; stroke-width: 0.8"/>
      </g>
     </g>
     <g id="text_3">
      <text style="font-size: 10px; font-family: 'DejaVu Sans', 'Liberation Sans', sans-serif; text-anchor: middle" x="290.590" y="404.468">2009</text>
     </g>
    </g>
    <g id="xtick_4">
     <g id="line2d_7">
      <path d="M 381.96 390.6 
L 381.96 11.16 
" clip-path="url(#p7e00197a57)" style="fill: none; stroke: #808080; stroke-opacity: 0.2; stroke-linecap: square"/>
     </g>
     <g id="line2d_8">
      <g>
       <use href="#m1504cfccaf" x="381.96" y="390.6" style="stroke: #000000; stroke-width: 0.8"/>
      </g>
     </g>
     <g id="text_4">
      <text style="font-size: 10px; font-family: 'DejaVu Sans', 'Liberation Sans', sans-serif; text-anchor: middle" x="381.310" y="404.468">2013</text>
     </g>
    </g>
    <g id="xtick_5">
     <g id="line2d_9">
      <path d="M 472.68 390.6 
L 472.68 11.16 
" clip-path="url(#p7e00197a57)" style="fill: none; stroke: #808080; stroke-opacity: 0.2; stroke-linecap: square"/>
     </g>
     <g id="line2d_10">
      <g>
       <use href="#m1504cfccaf" x="472.68" y="390.6" style="stroke: #000000; stroke-width: 0.8"/>
      </g>
     </g>
     <g id="text_5">
      <text style="font-size: 10px; font-family: 'DejaVu Sans', 'Liberation Sans', sans-serif; text-anchor: middle" x="472.030" y="404.468">2017</text>
     </g>
    </g>
    <g id="xtick_6">
     <g id="line2d_11">
      <path d="M 562.68 390.6 
L 562.68 11.16 
" clip-path="url(#p7e00197a57)" style="fill: none; stroke: #808080; stroke-opacity: 0.2; stroke-linecap: square"/>
     </g>
     <g id="line2d_12">
      <g>
       <use href="#m1504cfccaf" x="562.68" y="390.6" style="stroke: #000000; stroke-width: 0.8"/>
      </g>
     </g>
     <g id="text_6">
      <text style="font-size: 10px; font-family: 'DejaVu Sans', 'Liberation Sans', sans-serif; text-anchor: middle" x="562.030" y="404.468">2021</text>
     </g>
    </g>
    <g id="xtick_7">
     <g id="line2d_13">
      <path d="M 653.4 390.6 
L 653.4 11.16 
" clip-path="url(#p7e00197a57)" style="fill: none; stroke: #808080; stroke-opacity: 0.2; stroke-linecap: square"/>
     </g>
     <g id="line2d_14">
      <g>
       <use href="#m1504cfccaf" x="653.4" y="390.6" style="stroke: #000000; stroke-width: 0.8"/>
      </g>
     </g>
     <g id="text_7">
      <text style="font-size: 10px; font-family: 'DejaVu Sans', 'Liberation Sans', sans-serif; text-anchor: middle" x="652.750" y="404.468">2025</text>
     </g>
    </g>
    <g id="text_8">
     <text style="font-size: 10px; font-family: 'DejaVu Sans', 'Liberation Sans', sans-serif; text-anchor: middle" x="383.4" y="418.876562" transform="rotate(-0 383.4 418.876562)">ds</text>
    </g>
   </g>
   <g id="matplotlib.axis_2">
    <g id="ytick_1">
     <g id="line2d_15">
      <path d="M 57.24 387 
L 709.56 387 
" clip-path="url(#p7e00197a57)" style="fill: none; stroke: #808080; stroke-opacity: 0.2; stroke-linecap: square"/>
     </g>
     <g id="line2d_16">
      <defs>
       <path id="m5d545ce8f8" d="M 0 0 
L -3.5 0 
" style="stroke: #000000; stroke-width: 0.8"/>
      </defs>
      <g>
       <use href="#m5d545ce8f8" x="57.24" y="387" style="stroke: #000000; stroke-width: 0.8"/>
      </g>
     </g>
     <g id="text_9">
      <text style="font-size: 10px; font-family: 'DejaVu Sans', 'Liberation Sans', sans-serif; text-anchor: end" x="49.910" y="390.799219">0</text>
     </g>
    </g>
    <g id="ytick_2">
     <g id="line2d_17">
      <path d="M 57.24 339.48 
L 709.56 339.48 
" clip-path="url(#p7e00197a57)" style="fill: none; stroke: #808080; stroke-opacity: 0.2; stroke-linecap: square"/>
     </g>
     <g id="line2d_18">
      <g>
       <use href="#m5d545ce8f8" x="57.24" y="339.48" style="stroke: #000000; stroke-width: 0.8"/>
      </g>
     </g>
     <g id="text_10">
      <text style="font-size: 10px; font-family: 'DejaVu Sans', 'Liberation Sans', sans-serif; text-anchor: end" x="49.910" y="343.279219">500</text>
     </g>
    </g>
    <g id="ytick_3">
     <g id="line2d_19">
      <path d="M 57.24 291.96 
L 709.56 291.96 
" clip-path="url(#p7e00197a57)" style="fill: none; stroke: #808080; stroke-opacity: 0.2; stroke-linecap: square"/>
     </g>
     <g id="line2d_20">
      <g>
       <use href="#m5d545ce8f8" x="57.24" y="291.96" style="stroke: #000000; stroke-width: 0.8"/>
      </g>
     </g>
     <g id="text_11">
      <text style="font-size: 10px; font-family: 'DejaVu Sans', 'Liberation Sans', sans-serif; text-anchor: end" x="49.910" y="295.759219">1000</text>
     </g>
    </g>
    <g id="ytick_4">
     <g id="line2d_21">
      <path d="M 57.24 245.16 
L 709.56 245.16 
" clip-path="url(#p7e00197a57)" style="fill: none; stroke: #808080; stroke-opacity: 0.2; stroke-linecap: square"/>
     </g>
     <g id="line2d_22">
      <g>
       <use href="#m5d545ce8f8" x="57.24" y="245.16" style="stroke: #000000; stroke-width: 0.8"/>
      </g>
     </g>
     <g id="text_12">
      <text style="font-size: 10px; font-family: 'DejaVu Sans', 'Liberation Sans', sans-serif; text-anchor: end" x="49.910" y="248.959219">1500</text>
     </g>
    </g>
    <g id="ytick_5">
     <g id="line2d_23">
      <path d="M 57.24 197.64 
L 709.56 197.64 
" clip-path="url(#p7e00197a57)" style="fill: none; stroke: #808080; stroke-opacity: 0.2; stroke-linecap: square"/>
     </g>
     <g id="line2d_24">
      <g>
       <use href="#m5d545ce8f8" x="57.24" y="197.64" style="stroke: #000000; stroke-width: 0.8"/>
      </g>
     </g>
     <g id="text_13">
      <text style="font-size: 10px; font-family: 'DejaVu Sans', 'Liberation Sans', sans-serif; text-anchor: end" x="49.910" y="201.439219">2000</text>
     </g>
    </g>
    <g id="ytick_6">
     <g id="line2d_25">
      <path d="M 57.24 150.12 
L 709.56 150.12 
" clip-path="url(#p7e00197a57)" style="fill: none; stroke: #808080; stroke-opacity: 0.2; stroke-linecap: square"/>
     </g>
     <g id="line2d_26">
      <g>
       <use href="#m5d545ce8f8" x="57.24" y="150.12" style="stroke: #000000; stroke-width: 0.8"/>
      </g>
     </g>
     <g id="text_14">
      <text style="font-size: 10px; font-family: 'DejaVu Sans', 'Liberation Sans', sans-serif; text-anchor: end" x="49.910" y="153.919219">2500</text>
     </g>
    </g>
    <g id="ytick_7">
     <g id="line2d_27">
      <path d="M 57.24 103.32 
L 709.56 103.32 
" clip-path="url(#p7e00197a57)" style="fill: none; stroke: #808080; stroke-opacity: 0.2; stroke-linecap: square"/>
     </g>
     <g id="line2d_28">
      <g>
       <use href="#m5d545ce8f8" x="57.24" y="103.32" style="stroke: #000000; stroke-width: 0.8"/>
      </g>
     </g>
     <g id="text_15">
      <text style="font-size: 10px; font-family: 'DejaVu Sans', 'Liberation Sans', sans-serif; text-anchor: end" x="49.910" y="107.119219">3000</text>
     </g>
    </g>
    <g id="ytick_8">
     <g id="line2d_29">
      <path d="M 57.24 55.8 
L 709.56 55.8 
" clip-path="url(#p7e00197a57)" style="fill: none; stroke: #808080; stroke-opacity: 0.2; stroke-linecap: square"/>
     </g>
     <g id="line2d_30">
      <g>
       <use href="#m5d545ce8f8" x="57.24" y="55.8" style="stroke: #000000; stroke-width: 0.8"/>
      </g>
     </g>
     <g id="text_16">
      <text style="font-size: 10px; font-family: 'DejaVu Sans', 'Liberation Sans', sans-serif; text-anchor: end" x="49.910" y="59.599219">3500</text>
     </g>
    </g>
    <g id="text_17">
     <text style="font-size: 10px; font-family: 'DejaVu Sans', 'Liberation Sans', sans-serif; text-anchor: middle" x="18.710313" y="200.88" transform="rotate(-90 18.710313 200.88)">y</text>
    </g>
   </g>
   <g transform="scale(0.72)"><g style="fill:#000"><path d="M200.4 428.7h0M201.1 430.7h0M201.1 421.8h0M201.7 428.7h0M201.5 429.7h0M201.3 432.6h0M202.1 437h0M201.8 441.2h0M202.8 443.5h0M203 449.7h0M202.5 449h0M202.9 443.2h0M203 437.4h0M203 439.7h0M202.9 437.8h0M203.5 432.9h0M203.7 433.5h0M203.5 435.5h0M203.5 436.5h0M203.7 439.7h0M203.5 446.9h0M204.2 447.5h0M204.9 453.4h0M205 453.9h0M204.6 450.3h0M204.5 450.4h0M205.2 447.4h0M205.1 444.7h0M205.7 437.5h0M206 438h0M205.6 441.6h0M205.5 441h0M205.7 444.6h0M206.2 449.1h0M206.8 456.4h0M206.7 456h0M209 461.8h0M209.4 458.7h0M209.4 456.8h0M209.7 454.7h0M209.7 448h0M209.6 446.4h0M210.1 450h0M210 453.8h0M210.4 460.3h0M210.6 457.5h0M210.8 464.8h0M211.3 468.5h0M211.2 463.5h0M210.9 460.7h0M211.4 454.7h0M211.4 457.4h0M211.7 453.4h0M211.8 454.7h0M211.7 458h0M212.7 462.1h0M212.2 466.6h0M212.6 464.5h0M212.6 469.1h0M212.2 469.8h0M213 463.8h0M213.3 462.2h0M213.5 460.6h0M212.9 455.1h0M213.6 453.6h0M214.2 457.3h0M213.3 458.8h0M214.2 468.5h0M214.8 467.9h0M214.6 472.9h0M214.9 470.6h0M214.9 464.6h0M217.2 471.2h0M217.4 460h0M217.8 460.8h0M217.3 460.5h0M217.9 454.7h0M217.7 460.5h0M217.8 465.4h0M218.4 465.5h0M218.2 473.2h0M218.8 473.8h0M218.6 471.9h0M218.7 464.7h0M218.9 463.3h0M219.6 458.4h0M219.7 458.8h0M219.5 456.7h0M220.1 461.4h0M219.7 464.2h0M220.4 470.9h0M220.4 475h0M221 476.7h0M220.2 471.6h0M220.8 467.3h0M222.5 477.9h0M223 472.8h0M223 470.7h0M223.6 465.7h0M223.5 465.6h0M224.1 460.5h0M224.1 463.8h0M224 470.3h0M224.3 466.9h0M224.7 477.5h0M225.1 475.1h0M226.7 456.6h0M226.7 458.8h0M227.4 466.2h0M226.9 472h0M227.2 473.9h0M227.1 474.5h0M227.3 472.3h0M227.3 469.8h0M227.8 462.7h0M227.9 459.6h0M227.6 452.9h0M227.8 452.6h0M227.7 460.4h0M229.9 469.9h0M230.7 461.4h0M231.2 452.9h0M230.1 450.1h0M230.8 449.6h0M231.2 444.6h0M231.7 455.7h0M231.1 458.2h0M231.8 460.5h0M231.6 467.2h0M231.5 466.7h0M231.7 461.7h0M232.2 451.9h0M232.7 449h0M232.3 440.5h0M232.7 442.5h0M232.5 447.1h0M233.3 456.6h0M233.5 458.6h0M232.9 463.1h0M233.8 456.6h0M233.7 455h0M233.9 447.9h0M234.5 445.3h0M234 442.4h0M234.7 446.7h0M234.5 451h0M234.3 454.8h0M234.7 459.9h0M234.9 462.8h0M235.3 458.5h0M235.5 450.9h0M235.6 450.7h0M236.5 446.3h0M236.4 439.4h0M235.8 443.2h0M238.3 452.7h0M238.3 448.2h0M238.5 447.5h0M238.5 440.4h0M239.1 439.1h0M239.1 443.5h0M239.3 442.5h0M239.2 451.5h0M238.9 453.7h0M239.9 457.8h0M239.9 456.2h0M240.1 449.1h0M240.7 451.2h0M240.4 442.7h0M242.6 455.2h0M243.3 454.5h0M243.1 452h0M243.3 444.3h0M242.7 442.7h0M243.5 441.3h0M244.6 442.9h0M243.6 446.8h0M244.2 453.4h0M244.2 456.8h0M244.2 456.8h0M244.3 446.6h0M244.8 446.7h0M244.9 447.8h0M244.9 443.5h0M245.5 446.2h0M245.9 448.7h0M245.4 452.5h0M245.3 455.2h0M246 451.9h0M246.4 450.9h0M246.4 441.6h0M246.2 441.3h0M247.3 443.3h0M246.8 447.3h0M247.6 453.4h0M247.2 454.1h0M247.4 452.3h0M247.1 447.6h0M247.4 443.1h0M247.7 439h0M247.8 441.1h0M248.5 443.9h0M248 449.8h0M249.3 448.2h0M250.7 437.5h0M250.8 431.7h0M250.8 432.8h0M251.1 437.1h0M251.4 437.3h0M252.2 445.3h0M252.1 444h0M251.9 447.9h0M251.8 446.4h0M252.2 441.4h0M252.1 436.4h0M252.5 430.4h0M252.5 425h0M253.1 428.1h0M253.1 431.2h0M253.7 437.5h0M253 439.8h0M253.4 449.6h0M253.9 446.6h0M254 444.5h0M253.8 439.6h0M253.9 433.1h0M254.6 432.9h0M254.6 424.5h0M255.3 427.5h0M255.8 433.6h0M255 437.5h0M254.9 443.3h0M258.4 436.1h0M257.5 447.1h0M258.1 447.2h0M258.2 450.7h0M257.7 443.5h0M258.1 440h0M258.6 439.9h0M258.9 429.9h0M259 431.7h0M259.1 436.3h0M259.3 445.2h0M259.6 444.1h0M259.9 451.1h0M259.8 448.1h0M259.7 444.3h0M260 439h0M260.6 435.8h0M260.3 435.5h0M261.2 440.8h0M260.8 445.9h0M260.7 451.8h0M263.6 455.3h0M264.4 458.4h0M263.7 457.3h0M263.9 456.9h0M264 453.8h0M264.3 447.9h0M264.3 450h0M264.5 455.6h0M264.3 457.2h0M264.7 459.6h0M264.7 454.4h0M265 455.3h0M265.2 455h0M265 449.9h0M265.6 455h0M267.8 454.6h0M268.3 458.6h0M268.1 462.7h0M267.8 457.7h0M268.1 452.2h0M269.1 456.5h0M268.5 459.6h0M269 459.1h0M268.9 453.9h0M269.7 453.9h0M269.5 457.2h0M269.8 460.8h0M269.9 454.4h0M271.9 455h0M271.9 455.4h0M272.2 456.1h0M273 462.5h0M272.9 462.7h0M273 456h0M273.3 456.8h0M273.5 452.8h0M275.3 452.8h0M275.9 456.6h0M275.4 462.6h0M275.9 456.8h0M276.5 454.9h0M276.7 459.2h0M276.7 462.3h0M277 457.7h0M276.5 452.8h0M279.2 461.6h0M279.2 458.1h0M279 453.7h0M279.2 457.8h0M279.5 460.6h0M279.8 457.6h0M280 454h0M279.8 452.6h0M280.3 455.2h0M279.9 454.6h0M280.7 461h0M281.2 452.8h0M280.6 453.3h0M280.9 456.2h0M281.4 457.1h0M281.4 460.4h0M281.9 456.9h0M281.6 453.2h0M281.6 458.1h0M282.4 458.6h0M282.6 458h0M282.4 457.9h0M283.2 452.3h0M283.3 458.4h0M283 459h0M282.8 459.2h0M283.3 453.3h0M282.9 452.2h0M283.7 457.7h0M286.1 453.7h0M286.6 453.3h0M286 456.7h0M286.5 462h0M286.9 454.3h0M286.6 454.3h0M287.3 453.2h0M287.5 461.3h0M287.7 459.5h0M287.8 459h0M288.1 454h0M288 458h0M288.4 462.2h0M288.5 459.4h0M288.4 453.6h0M288.9 451.8h0M288.5 459.3h0M288.8 462.2h0M289.7 458.4h0M289.1 453.3h0M289.6 454.7h0M289.9 459.2h0M290.2 456.6h0M290 455.7h0M290.5 455.2h0M289.9 453.6h0M292.5 455.4h0M292.5 452.9h0M292.5 453h0M293.2 455.5h0M293.3 459.5h0M293.4 461.4h0M293.7 452.5h0M293.7 453.9h0M293.5 453h0M293.9 460.8h0M294.3 460.7h0M294.7 455.6h0M294.5 454.6h0M294.8 455.8h0M295 459.8h0M294.9 461.8h0M295.3 456.7h0M296.9 460.1h0M297.9 458.3h0M297.5 453.6h0M298 455.3h0M298 460.4h0M298.6 462.1h0M298.1 462.1h0M299.2 458.5h0M299.4 454.2h0M299.4 457.7h0M299.5 459.8h0M299.3 458.3h0M299.6 458.7h0M299.3 456h0M300 455.2h0M300.3 457.2h0M300.5 459.2h0M300.1 461.8h0M300.5 459.5h0M300.6 455h0M301 455.8h0M300.8 451.2h0M301.2 456.5h0M301.4 459.5h0M301 450.6h0M301.7 449.7h0M302.1 452.7h0M302.5 455.2h0M302.5 458.9h0M302.6 453.7h0M302.3 453.1h0M302.6 445h0M303 451.8h0M305.1 449h0M305.2 454h0M305.6 445.8h0M305.8 443h0M305.9 440.5h0M306.1 435.8h0M306.2 436.1h0M307.1 439h0M306.7 444.5h0M307.3 446.7h0M306.7 449.2h0M307.1 442.4h0M307 439.6h0M306.8 434.1h0M307.9 430h0M307.5 427.8h0M307.6 436.3h0M307.7 440.6h0M308.1 446.5h0M308 443.7h0M308.8 438.6h0M308.6 433.9h0M308.9 429.8h0M308.9 423h0M309.9 427.1h0M309.2 433.8h0M309.7 439.1h0M309.3 442.4h0M309.7 444.9h0M312.1 424.6h0M312.1 425h0M312.5 422.6h0M312.9 420.5h0M313 425.5h0M313.7 431.2h0M312.6 432.6h0M313.6 437.8h0M313.3 438.7h0M313.9 436.6h0M314.1 431.3h0M314 428.8h0M314 423h0M314.7 423.5h0M314.5 421.2h0M314.4 421.3h0M314.8 423h0M315.4 429.6h0M315.4 431.6h0M315.3 432.2h0M315.6 438.2h0M315.3 436.6h0M315.8 435h0M316.1 427.2h0M316.1 417.5h0M316.2 425.1h0M316 419.2h0M316.2 415.7h0M319.1 416h0M319.4 424.6h0M319 425.8h0M319.4 428.8h0M319.3 434.2h0M320.4 438.4h0M320.1 434.7h0M320.8 429.5h0M319.8 422.5h0M320 422.9h0M320.3 414.2h0M321 414.8h0M321.3 414.4h0M320.9 420.2h0M321.6 421.4h0M321.6 429.3h0M321.6 426.2h0M322 433.2h0M324.7 431.4h0M324.5 425.2h0M324.3 418.1h0M324.8 419.5h0M324.5 422.7h0M325.1 425.4h0M325.1 434.7h0M324.8 438h0M325.1 431.4h0M325.5 428.8h0M325.5 422.7h0M325.4 418h0M326.1 423.1h0M326.4 425.6h0M326.8 427.8h0M326.5 434.7h0M326.5 437.2h0M327.4 432.3h0M327.2 425.1h0M327.3 418.5h0M326.9 417h0M328.2 423.4h0M327.9 420.7h0M327.8 427.8h0M328.1 433.5h0M328.3 431.3h0M328.5 426.2h0M328.8 421.1h0M328.7 422h0M329.3 414.9h0M329 415.5h0M331 424.7h0M331.6 426.6h0M331.6 422.8h0M331.7 412.3h0M331.6 412.7h0M332.1 420.5h0M331.7 423.4h0M332.1 423.7h0M332.6 420.4h0M332.6 414.6h0M333.4 411.4h0M333.9 414.9h0M333.2 422.8h0M334 425.8h0M334.1 425.7h0M333.7 416.7h0M336.2 415.7h0M335.9 421.1h0M336.3 425.2h0M336.1 420.6h0M336.5 418.1h0M336.7 411.3h0M336.3 413.1h0M336.9 418.9h0M339 420.9h0M339.2 414.9h0M340 411.8h0M339.6 413.5h0M339.7 418.8h0M339.7 419h0M340 423.8h0M339.9 424.3h0M340.6 416.9h0M340.8 417.5h0M340.9 409.4h0M343.5 407.2h0M343 412.9h0M343.6 420.5h0M343.3 419.4h0M343.6 418.2h0M344.5 411.8h0M344.7 411.7h0M344.4 411.3h0M344.2 412.8h0M344.7 420h0M345.1 420.7h0M345.2 414.9h0M345.6 409.6h0M346 406.1h0M345.2 414h0M346.2 418.1h0M346.1 418.7h0M346.5 415h0M346.1 410.8h0M346.6 406.9h0M346.4 410.9h0M346.7 412.4h0M349.1 404.7h0M349.5 404.6h0M349.4 412.8h0M349.3 414.1h0M349.9 417.6h0M349.8 412.6h0M349.8 409.6h0M350.2 404.6h0M350.3 408.3h0M350.3 411.4h0M351.1 417.9h0M350.9 415.2h0M350.7 411.1h0M351 406.7h0M351.6 407.2h0M351.4 408.1h0M351.4 415.1h0M351.9 415.6h0M353.8 403.2h0M354.4 408h0M354.4 403h0M354.2 413.5h0M354.7 416.2h0M355 410.6h0M354.9 410.6h0M355.3 406h0M355.6 405.3h0M355.6 403.1h0M356.1 406.5h0M355.9 412h0M356.4 417.7h0M356.5 415h0M356.7 413.6h0M356.6 411.1h0M359.1 416.8h0M358.8 418.2h0M359.1 409.6h0M359 405.4h0M359.9 410.1h0M359.8 414.5h0M359.9 414.3h0M359.7 419.6h0M360.1 416.7h0M360 411.9h0M360.7 406.9h0M362.7 411.4h0M362.6 411.9h0M362.9 412.7h0M363.3 417.5h0M363.5 418.9h0M363.6 424.7h0M364.2 423.7h0M364.1 420.1h0M364.2 417.9h0M364.2 412.8h0M364.4 411.8h0M364 417.4h0M365 420.1h0M365.5 427.1h0M365.1 425.4h0M364.9 425.1h0M365.6 420.7h0M365.2 418.1h0M365.7 416.5h0M365.6 418.7h0M366.5 423.4h0M366.7 430.5h0M366.4 434.9h0M367.2 431.4h0M366.7 427.9h0M367.2 427.8h0M367.2 424.8h0M369.2 447.2h0M369.3 451.4h0M370 445.6h0M370.2 440.8h0M370.6 439.3h0M370.8 434.6h0M371.1 429.5h0M370.3 429.3h0M371 435.2h0M371.4 436h0M371.5 441.9h0M370.8 447.2h0M371.7 451.2h0M371.8 455h0M371.9 452h0M372.3 447.5h0M372.6 444.3h0M372.4 442.8h0M372.2 434h0M372.5 433.1h0M372.7 434.8h0M372.5 440.2h0M373.5 446.1h0M375.4 442.9h0M375.7 446.8h0M375.8 448.6h0M376 452.4h0M376 459.9h0M376.4 458.7h0M376.4 453.9h0M376.7 448.3h0M377.1 446.3h0M377.1 440.8h0M377.1 443.3h0M378 445.9h0M377.5 454h0M377.2 458h0M377.9 461h0M377.6 460.4h0M378.7 456h0M378.5 454.9h0M379.3 450.6h0M378.6 446.8h0M378.9 444.4h0M378.5 450.8h0M379.2 454h0M378.7 458.1h0M379.2 460.4h0M379.7 464.5h0M380.1 456.6h0M379.9 451.8h0M379.9 452.8h0M379.9 446.8h0M380.8 447.3h0M381 453.4h0M381.6 455.3h0M380.8 456.8h0M381.4 459.4h0M382 464.4h0M381.5 459.7h0M383.5 452.9h0M384 456.8h0M384.3 458.8h0M384.4 462.9h0M384.6 467.8h0M384.8 464.8h0M384.3 460.9h0M385.2 457.7h0M385.4 453.9h0M384.9 457.2h0M385.6 460.9h0M385 468.4h0M385.6 468.2h0M385.9 461.8h0M385.9 462h0M386.6 458h0M386.6 457h0M386.9 464.8h0M387.1 465.2h0M386.8 467.5h0M387.4 466.5h0M389.4 470.1h0M389.5 472.9h0M389.5 475.1h0M390 471.7h0M389.8 469.6h0M390.1 467.1h0M390.4 462.2h0M390.9 461.3h0M390.7 465h0M391.3 472.4h0M390.7 467.6h0M391.7 473.3h0M391.5 476.8h0M392 479.5h0M392 476.3h0M392.4 473.8h0M392.4 472.1h0M392.3 467.5h0M393.1 467h0M392.8 466.9h0M393.3 468.9h0M393.2 472.5h0M393 479.5h0M393.3 480.2h0M393.1 486h0M392.9 481.4h0M393.5 478.6h0M394 474.6h0M394.4 471h0M394.7 471.3h0M394.4 469.2h0M396.7 475.1h0M396.5 476.9h0M397.1 486.3h0M397.4 489h0M397.6 489.8h0M397.6 489.6h0M398.2 489.3h0M397.4 482.7h0M398.1 487h0M398.2 476.7h0M398.7 475.4h0M398.9 480.7h0M398.1 482.8h0M399.1 484.9h0M399.5 490.1h0M399.8 493.1h0M399.8 490.8h0M399.7 488.2h0M400.3 481h0M400.2 482.6h0M400.4 474.4h0M400.3 474.6h0M400.5 475.4h0M400.6 483.4h0M400.7 492.5h0M401.1 491.1h0M401.6 494.8h0M401.3 491.8h0M401.2 486.9h0M402.3 482.7h0M403.3 487.4h0M404.3 492.6h0M404.4 488.6h0M404.7 483.3h0M404.7 478.5h0M404.8 482.5h0M404.6 491.2h0M405.4 491.3h0M404.9 481.9h0M405.6 479.3h0M405.9 479.7h0M405.5 484.4h0M406.3 489.8h0M406.1 486.7h0M406.6 480.3h0M406.6 482.2h0M406.3 478.8h0M406.5 485.3h0M406.7 487.9h0M406.9 485.2h0M407.9 482.7h0M407.1 481.2h0M407.9 484.5h0M408.1 487.1h0M408.2 488.2h0M408.3 483.1h0M410.2 478.7h0M411 479.5h0M410.8 484.1h0M410.8 485.7h0M411.5 482.1h0M411.6 474.3h0M411.5 479.3h0M411.2 480.8h0M412.2 483.1h0M412.7 475.5h0M412.6 475.6h0M412.1 475.2h0M412.7 480.1h0M412.5 484.2h0M412.8 479.2h0M413.3 474h0M413.5 476.8h0M412.8 481.7h0M413.5 483.7h0M413.5 476.1h0M413.6 472.1h0M413.9 477.4h0M414.2 481.3h0M413.8 482.6h0M414.7 480.4h0M415.2 474.9h0M415.1 471.6h0M414.6 476.9h0M415.1 482.6h0M415.5 479.9h0M415.5 474.6h0M417.7 478h0M418.3 478.7h0M418.1 481.2h0M418.4 470.4h0M418.1 474h0M418.3 476h0M419 477.6h0M421.2 468.8h0M421.2 470.7h0M421.4 472.8h0M420.7 479.5h0M422 476.6h0M421.7 471.4h0M422 471.7h0M421.5 473.4h0M422.6 478h0M422.6 476.5h0M422.3 473.6h0M423.1 469.4h0M422.8 469.6h0M425.9 475.3h0M425.5 473.5h0M425.4 473h0M425.8 478.1h0M425.5 479.2h0M426.4 472.9h0M426.3 475.1h0M426.5 473.7h0M426.4 476.5h0M427.3 475.4h0M427.3 473h0M427.4 471h0M427.3 477.7h0M427.7 479.2h0M429.8 472h0M429.9 477.2h0M429.9 478.7h0M430.1 476.1h0M430.5 472.4h0M430.8 469.3h0M430.4 468.2h0M431 473h0M431 473.2h0M430.8 478.5h0M431.9 474.6h0M431.9 469h0M432.2 466.8h0M431.7 469.6h0M432.7 477.3h0M432.4 477.7h0M433 471.8h0M432.8 466.6h0M432.9 469h0M433.2 469.3h0M433.6 472.1h0M435 466.8h0M435.6 466.8h0M435.8 462.9h0M435.9 462.3h0M436 466.6h0M436.7 468.8h0M436.5 473.7h0M436.5 473.5h0M437.1 468.8h0M437.5 462.8h0M437.1 459h0M437.7 461h0M437.3 466.1h0M437.4 468.5h0M437.6 472.3h0M438.1 467.3h0M438.2 464.3h0M438.2 461.9h0M437.9 458.1h0M438.6 461.9h0M438.9 466h0M438.9 468.2h0M438.2 471.2h0M439.5 463.9h0M439.3 463.5h0M439.9 459.3h0M439.9 459h0M440.3 458h0M442.5 456.8h0M442.4 460.9h0M442.4 466.4h0M442.4 469.5h0M442.5 462.9h0M442.3 456.9h0M443.4 459.9h0M443.6 466.2h0M443.8 466.6h0M443.7 460h0M444.4 458.4h0M444.2 458.2h0M444.4 468.1h0M444.4 469.1h0M444.3 462.4h0M444.8 456.4h0M445 460.5h0M444.6 467.9h0M445 469.9h0M444.9 466.6h0M445.8 465.3h0M446.1 461.1h0M445.9 464.8h0M446.4 468.9h0M446.3 468.5h0M446.8 461.5h0M446.2 463.7h0M446.4 466.6h0M447.4 470.7h0M446.7 469.7h0M449.4 475h0M448.8 466.2h0M449.9 468.5h0M449.9 464.9h0M450 470.7h0M450.5 470.6h0M450.5 473.8h0M450.2 469.9h0M450.3 471.5h0M450.8 467h0M450.6 469.9h0M451.3 474.2h0M451.8 477.1h0M451.9 473.1h0M451.2 470.9h0M451.4 467.2h0M452.1 467.2h0M452 469.7h0M454.7 476.2h0M454 476.6h0M454.8 476.4h0M454.9 472.7h0M454.6 470.7h0M455.2 468h0M455.4 474.2h0M457.5 474.6h0M457.9 476.8h0M458.1 479.2h0M457.8 473.9h0M458.2 471.4h0M458.7 469.8h0M457.9 468.4h0M458.5 476.9h0M461.1 463.5h0M460.7 459.8h0M461.2 463h0M462 469.1h0M461.6 471.3h0M461.7 475.1h0M462.1 476.2h0M462.3 468.4h0M462.6 469.8h0M462.9 463.9h0M462.6 462.4h0M462.3 455.2h0M463 460.7h0M463.3 466h0M463.4 469.7h0M463.3 471.5h0M463.7 473.8h0M463.5 469.5h0M463.9 462.2h0M464 456.3h0M463.8 457.2h0M464.3 452.1h0M464.7 458.2h0M465.3 461.3h0M465.7 466.1h0M465.1 470.2h0M465.9 470.9h0M465.7 465.9h0M466.1 460.5h0M466.4 454.7h0M465.7 452.4h0M466.2 450.2h0M466.5 452.9h0M466.5 458.8h0M466.5 464.5h0M468.7 458.9h0M469.3 450.6h0M469 449.8h0M469.9 448.8h0M469.2 450.5h0M470.1 456.2h0M470.1 459.5h0M470.2 457.5h0M470.4 453.9h0M470.5 451.9h0M470.2 446.3h0M470.6 445.6h0M470.9 452.8h0M471.1 457h0M471.1 460.3h0M471.7 457.7h0M473.6 456.4h0M474.8 457.2h0M473.8 463.1h0M474.2 461.2h0M474.1 453.1h0M474.9 448.4h0M475 453.5h0M475 454.9h0M475.3 463.5h0M474.9 463.8h0M475.1 456.8h0M475.5 455.1h0M475.7 450.1h0M477.7 461h0M478.4 457.5h0M478.5 452.1h0M478.9 453.6h0M478.2 454.8h0M478.3 462.2h0M479.1 459.9h0M479 453.6h0M479.5 453.4h0M479.8 456.7h0M479.8 460h0M480.2 463.3h0M479.9 455.2h0M480.3 453h0M480.1 457.2h0M480.7 458h0M481.1 458.4h0M480.7 459.2h0M481.1 457.4h0M482 454.4h0M481.5 459.8h0M481.6 464.8h0M481.7 462.5h0M482.1 459.3h0M482.5 455.4h0M482.4 457h0M484.7 457.1h0M484.4 459.1h0M485 463.8h0M484.8 468.5h0M485.5 470.4h0M485.5 462.2h0M485.2 465.2h0M485.9 461.1h0M485.8 463.1h0M486.3 469h0M486.6 472.3h0M486.2 467.3h0M486.9 466.7h0M486.3 460h0M486.5 463.2h0M486.9 467.6h0M487.4 473.3h0M487.1 471.7h0M487.3 469.2h0M487.9 464.8h0M488.1 461.4h0M488.3 465.9h0M488.4 468.4h0M488.5 475.5h0M489 473.3h0M489 471.6h0M489.2 470.5h0M488.5 470h0M489.5 470h0M489.7 470h0M489.3 476.9h0M491.7 467.5h0M491.7 466.2h0M492.4 473.7h0M492 475.6h0M492.6 477.3h0M492.8 472.9h0M492.2 470.6h0M492.9 469.3h0M493.2 467.5h0M493.7 470.9h0M493.6 476.7h0M493.2 480h0M494.2 475.4h0M493.8 472.8h0M494.8 469.2h0M494.3 470.1h0M494.6 476.6h0M495.3 478.4h0M495.2 476.3h0M494.3 471.6h0M495.5 470.5h0M496 468.3h0M495.8 472.7h0M495.5 476.6h0M496.4 479.6h0M496.5 479h0M496.6 475.4h0M496.6 471.9h0M498.8 474.8h0M498.8 478.3h0M499 476.7h0M499.5 471.5h0M499.5 471.1h0M499.8 473.9h0M499.7 477.7h0M500.2 470.6h0M500 466.3h0M500.1 468h0M500.2 473.5h0M500.9 475.8h0M500.6 472.2h0M500.7 465.6h0M501.4 475.6h0M501.3 476.8h0M501.3 471.1h0M502 466.3h0M501.9 469h0M501.9 470.8h0M501.6 474.9h0M502.3 467.4h0M502.3 467h0M502.5 467.9h0M502.7 475.9h0M502.9 473.3h0M503.1 470.3h0M503.3 464.3h0M503.3 469.7h0M505.4 473.1h0M506.1 472.5h0M506.1 469.2h0M506.2 464.9h0M506.3 468.5h0M506.4 471.6h0M506.5 473.9h0M506.7 472.2h0M507.3 465.9h0M507.4 465.8h0M506.7 470.8h0M507.6 471.2h0M507.5 476.1h0M507.5 473.2h0M508.6 472h0M508.2 465.6h0M508.2 467.8h0M508.8 467.3h0M510.6 471.6h0M510.5 474.3h0M511.5 477.4h0M511.3 475.8h0M511.3 472.2h0M512.1 471.5h0M511.7 477.2h0M512.2 474.8h0M512.6 475.9h0M512.7 471.1h0M512.8 476h0M512.1 478.2h0M513.1 477.1h0M513.4 474.9h0M512.8 476.7h0M513.7 481.1h0M513.1 477.1h0M513.6 474.7h0M513.5 471.8h0M514 477.2h0M513.9 478.9h0M514 477.5h0M514.6 471.8h0M514.5 473.7h0M517 479.3h0M517 472.8h0M517.4 472.4h0M517.1 480.1h0M518.1 482.3h0M518.3 473.6h0M518.3 474.5h0M518.7 476.8h0M518.5 481.7h0M518.1 477.9h0M519.1 475.1h0M518.8 471.5h0M518.7 477.9h0M519.5 480.9h0M519.5 479.2h0M519.7 471.2h0M519.7 474.2h0M522 473.8h0M521.8 471.1h0M522.3 469h0M522.3 480h0M522.8 482.3h0M522.4 477h0M523.2 472.6h0M522.6 468.3h0M523.3 471.3h0M523.2 474.3h0M523.4 479.2h0M523.9 482.1h0M524.4 478.1h0M524.2 472h0M524.1 466.6h0M524.5 469.4h0M524.7 475.5h0M525 475.2h0M525.1 477.3h0M525.3 468.4h0M525.5 461.4h0M525.4 466.9h0M525.6 465.3h0M525.7 474.2h0M526.3 472.8h0M526.3 468.5h0M526.4 463.9h0M528.3 461.3h0M528.8 457.6h0M528.6 453.1h0M528.6 447.4h0M528.7 448.3h0M529.3 453.2h0M529.1 462.2h0M529.5 463.4h0M529.3 464.7h0M529.7 457.7h0M529.8 453.2h0M532.3 452.6h0M531.9 456.1h0M532.1 453.7h0M532.9 450h0M532.7 442.8h0M532.9 442.3h0M532.7 434.1h0M533.2 428.8h0M532.9 425.1h0M534.1 429.4h0M533.8 431.6h0M534 432.2h0M533.8 434.1h0M534.2 441.4h0M534.9 441.3h0M536.4 424.7h0M536.4 430.8h0M536.8 431.7h0M536.9 433.1h0M537.6 435.2h0M537.4 431.6h0M537.6 422.1h0M538 418.6h0M537.3 417h0M538 412.5h0M538.2 410.7h0M538.5 409.6h0M538.5 416.5h0M538.2 414.7h0M539.1 418.3h0M540.2 425.5h0M541.4 425.1h0M541.5 431.5h0M541.7 429.9h0M541.2 422.7h0M541.5 418.5h0M541.5 413.9h0M542.3 415.7h0M542.4 419.1h0M542 427.3h0M542.5 435.1h0M542.9 433.2h0M542.7 423.2h0M542.9 421.7h0M543.1 414.3h0M543.7 417.6h0M543.5 420h0M543.8 429.5h0M543.9 430.6h0M544.4 436.1h0M544.8 432h0M544.5 430h0M544.4 420.4h0M544.9 417.3h0M544.4 420.9h0M545.4 423.1h0M545.7 429.3h0M546 432.2h0M545.5 436.9h0M545.8 432.2h0M545.5 428.3h0M548.3 423.4h0M548.2 427.4h0M548.5 427.3h0M548.3 434.6h0M548.8 438.5h0M549.2 431.8h0M548.8 433.8h0M549.5 432h0M549.7 421.7h0M549.8 420.2h0M549.2 424.7h0M549.7 424.3h0M550.3 431.3h0M550.1 435.4h0M550.7 438.6h0M550.6 433.8h0M550.9 427.7h0M551.2 429.3h0M550.8 424.7h0M551 422.9h0M551.7 427.1h0M552.1 430.4h0M552.3 432.5h0M551.9 437.3h0M552.5 434.8h0M552.6 430.4h0M552.4 428.1h0M552.8 419.6h0M552.8 421.6h0M552.8 424.2h0M553.8 428.7h0M553.6 430.7h0M555.3 422.5h0M555.9 419.2h0M556.2 411.4h0M555.9 409.2h0M556.6 412.1h0M556.5 414.9h0M556.8 419.3h0M556.8 427.5h0M557 430.4h0M557.5 430h0M557.7 422.9h0M557.6 421.1h0M557.9 415.5h0M558.3 409.3h0M557.8 404.7h0M558 405.6h0M558.5 408.5h0M558.5 409h0M558.8 419.5h0M558.9 421.5h0M559.1 425h0M559.3 418.2h0M559.4 412.1h0M559.6 409.7h0M559.4 404.8h0M562 404.2h0M561.8 396.5h0M561.6 392h0M561.9 391.2h0M562.9 398.4h0M562.5 404.2h0M563.7 409.2h0M563 410.7h0M563.2 412.1h0M563.4 409.9h0M563.7 403.8h0M563.9 396.2h0M564.1 393.2h0M564.2 389.2h0M563.9 394.1h0M565 397h0M564.7 403.3h0M564.8 405.7h0M564.6 411.5h0M565.2 409.5h0M564.9 401.7h0M565.5 401.6h0M566.4 401.5h0M565.8 391.4h0M566.3 395.4h0M566.7 400.2h0M568.5 396.9h0M568.7 397.4h0M569 395.1h0M569.4 404.3h0M569.7 405.8h0M569.6 409.3h0M569.2 408.4h0M569.7 408h0M569.8 398.9h0M569.9 397h0M570.2 397.1h0M570.7 403h0M570.5 407h0M570.7 412.9h0M570.9 406.4h0M571.4 402.6h0M571.8 403.1h0M571.2 396.9h0M571.7 398.7h0M571.8 399.9h0M572.1 405.6h0M573.1 411.1h0M572.5 409.8h0M572.5 406h0M572.5 399.4h0M572.7 395h0M573.2 398.5h0M573.9 399.9h0M573.2 402.6h0M573.4 408.1h0M573.9 407.2h0M573.8 399.6h0M573.9 401h0M574.2 399.2h0M574.2 394.8h0M574.3 397h0M576.7 406.5h0M576.9 404.5h0M577 402.9h0M577.7 396.7h0M577.6 395h0M577.7 390.3h0M577.5 390.1h0M577.9 389.5h0M578.7 390.7h0M578.5 393.8h0M578.5 397.4h0M578.5 401h0M578.2 403.9h0M579.1 397.8h0M579.2 398h0M579.6 387.7h0M579.2 384.8h0M579.4 376.6h0M579.6 379.2h0M582.4 378.5h0M582.4 386.3h0M582.6 388.1h0M582.8 392.1h0M582.8 388.8h0M583 389.8h0M583.4 382.4h0M583.5 376.2h0M583.7 371.7h0M583.6 365.2h0M584 359.7h0M583.9 352.7h0M584 354.5h0M584.2 359.3h0M584.3 364.3h0M584.7 368h0M584.6 371.2h0M584.8 378h0M585 386.4h0M585.8 382.3h0M585.7 376.1h0M587.7 365.9h0M588.1 357.8h0M588.5 349.9h0M588.3 346.9h0M588.7 344.2h0M589 348.7h0M588.9 353.7h0M589.1 358.4h0M589 365.8h0M589.3 365.1h0M589.6 360.3h0M589.6 354.2h0M589.9 352.9h0M590 344.4h0M590.5 342h0M590.5 341.6h0M590.1 345.8h0M590.9 353.7h0M591.2 357.1h0M591.5 359.3h0M591.1 362.2h0M591 355h0M591.8 347.3h0M591.5 347.9h0M592 343.5h0M592.3 338.1h0M592.5 343h0M592 344.5h0M593 350.6h0M594.6 337.4h0M595 343.3h0M594.9 346h0M595.4 345h0M595.4 350.6h0M595 351.5h0M595.6 348.2h0M595.5 351.2h0M595.8 344.2h0M596.2 341.1h0M596.2 335.4h0M596.2 331.9h0M596 331.3h0M596.7 336.5h0M128.3 193.9h0M127.8 191.3h0M128.1 193.6h0M128 198.9h0M128.5 197.7h0M128.8 201.2h0M128.5 203.7h0M128.3 200.1h0M128.3 195.5h0M128.8 189h0M128.9 190.7h0M128.8 192.5h0M128.6 195.6h0M128.9 205.2h0M129 203.3h0M128.9 203.8h0M128.7 199.9h0M129.7 193.7h0M122.1 215.6h0M122.3 218.4h0M123.1 222.5h0M122.2 215.8h0M122.7 213.3h0M122.8 211h0M122.6 215.9h0M123.1 221.2h0M122.9 220.5h0M123.5 217.4h0M122.7 210.6h0M123.6 210.6h0M122.9 216h0M123.6 223h0M123.8 219.3h0M123.8 214.7h0M124.2 210.8h0M123.7 219.9h0M124 216.6h0M124 222.9h0M125 220h0M124.7 213.5h0M124.7 211.7h0M124.6 218.6h0M124.5 220.6h0M124.8 221.6h0M125.7 213.8h0M125.2 213.7h0M124.8 215.5h0M125.7 219h0M125.2 223.5h0M125.1 221.7h0M124.8 215.7h0M126 212.9h0M125.4 217.3h0M126 219.3h0M125.9 221.2h0M126.3 213.3h0M126.1 211.5h0M125.8 213.8h0M126.1 219.5h0M126.4 221.9h0M126.4 222.5h0M127 217.8h0M126.9 214.5h0M126.4 211.7h0M126.9 218.6h0M127.3 224.2h0M126.9 224.3h0M127.2 213.7h0M127 212.8h0M127.6 217.9h0M127.1 221.1h0M127.3 224.4h0M127.7 220.7h0M127.7 215.1h0M127.7 214.9h0M128 220.3h0M127.8 220.5h0M128.4 221.6h0M127.8 218.2h0M128.6 212.4h0M128.4 214.2h0M128.6 220.5h0M128.5 224.8h0M128.9 222.7h0M128.6 217.9h0M129 212.4h0M129 215.6h0M129.7 225h0M128.8 222.4h0M129.2 222.4h0M129.6 212.6h0M129.7 216.7h0M129.7 219.7h0M129.3 225.2h0M130 222h0M130.5 217.9h0M130.3 214.3h0M130.3 218.2h0M129.7 223.9h0M130.3 225h0M130.7 220.6h0M130.9 216.1h0M131.4 214.2h0M131 213.7h0M130.5 220.7h0M131.2 220.8h0M131.3 216.8h0M131.2 213.3h0M131.6 219.6h0M131.3 217.3h0M131.4 222.6h0M132.1 220.3h0M131.9 220.2h0M124.1 232.5h0M124.2 226.8h0M124.5 231.9h0M124 237.7h0M124.5 234.5h0M124.1 227.9h0M125.2 233.3h0M124.7 237.8h0M124.7 231.2h0M124.7 226.8h0M124.4 234.4h0M125.1 233.7h0M124.8 229.3h0M125 231.3h0M125.5 233h0M125.3 236.6h0M125.4 226.8h0M125.2 234.5h0M125.6 238h0M126.1 235.5h0M125.6 228.1h0M125.5 231.3h0M125.3 236.4h0M126.4 229.8h0M126.4 226.8h0M126.6 235.5h0M126.3 238h0M126.8 229.9h0M127.2 233h0M126.4 234.9h0M127 234.1h0M127 233.9h0M127.6 230.8h0M126.5 236.2h0M126.8 238.2h0M127.6 228.6h0M126.9 230.5h0M127.3 236.3h0M127 233.2h0M128.2 227h0M128 233.9h0M128 235.5h0M127.8 234h0M127.8 227.1h0M127.9 235.3h0M128.1 238h0M128.7 228.7h0M128 229.8h0M128.9 233.8h0M128.9 234.2h0M128.4 227.5h0M129.2 232.1h0M129.3 235.8h0M128.9 235.3h0M129.4 227.4h0M129.4 228.8h0M129.6 237.9h0M129.4 230.9h0M129.5 227.5h0M130 231.4h0M129.7 237.8h0M130.3 233.6h0M130 230.9h0M129.6 232.9h0M130.3 235.3h0M130.2 229.2h0M129.9 231.9h0M130.2 236.4h0M130.5 236.4h0M130.4 231.3h0M131.1 229.2h0M131 234.6h0M130.7 231.4h0M131.1 228h0M131.6 232.1h0M121.5 252.5h0M120.9 248.3h0M121.7 247h0M121.4 241.4h0M122 245.4h0M121.8 248.8h0M121.6 253.1h0M121.7 256h0M122 256.8h0M122.5 249.3h0M122.5 251.3h0M122.2 243.6h0M122.4 246.2h0M122.1 249.4h0M122.5 251.8h0M122.6 255.1h0M123 257.7h0M122.8 252.7h0M123.2 256.4h0M122.6 246h0M123.4 242h0M123.5 243.7h0M123.7 247.5h0M123.8 252.9h0M123.8 257.1h0M123.7 257.6h0M123.8 254.7h0M123.9 249.3h0M124.1 245.3h0M124.2 241.4h0M132.5 251h0M131.7 251.2h0M132.3 256.9h0M131.9 259h0M132.2 258h0M131.9 252.9h0M132.6 248.8h0M132.5 244.8h0M133.2 248.2h0M132.4 250.3h0M132.2 258.6h0M132.7 259.9h0M133.4 259.5h0M133.5 254.6h0M133.5 252.5h0M133.6 245.8h0M133.2 246.6h0M133.5 252.3h0M133.9 256.3h0M133.9 259.8h0M134.1 258.6h0M133.9 257.1h0M134.4 252.8h0M133.9 247.9h0M133.8 249.4h0M134.5 248h0M134.4 255.1h0M134.3 258.5h0M134.4 257.2h0M135 254.9h0M132.9 260.9h0M132.6 257.8h0M133.2 257.8h0M133.3 265.6h0M133.2 271.2h0M133.2 265.6h0M133.1 261.3h0M133.4 257.8h0M133.5 257.8h0M134.2 264.6h0M133.9 271.2h0M134.2 269.2h0M134.2 267.4h0M134.2 258h0M133.8 261h0M133.9 284.5h0M133 279.6h0M134.4 280.6h0M134.1 278.9h0M133.3 275.8h0M133.7 280.7h0M133.7 281.1h0M134.1 286.6h0M133.6 286.3h0M133.9 280.3h0M133.2 278.1h0M133.9 282.1h0M133.7 287h0M134 286.8h0M135.2 293h0M134.8 298.3h0M134.8 299.6h0M135 304.5h0M134.9 299.3h0M135.1 301.5h0M135.1 297.4h0M135.8 295h0M135.5 289h0M135.5 289.4h0M136 295.7h0M135.5 299.5h0M135.6 300.3h0M136.1 308.2h0M136.2 299.9h0M135.5 299.6h0M135.9 293.9h0M136.2 292.2h0M136.7 287.2h0M136.7 293.1h0M136.6 297.8h0M136.4 299.3h0M136.4 302.6h0M137.5 308.5h0M137.8 303.6h0M137.5 297.6h0M137.2 293.3h0M137.7 292.4h0M137.5 288.5h0M137.6 292.8h0M137.2 295.6h0M138.4 300.2h0M137.9 308.7h0M138.4 306.3h0M137.9 302.9h0M138.7 292.6h0M138.5 292.7h0M139.1 287h0M138.6 292.7h0M139.2 294.8h0M138.3 301.4h0M138.6 305.5h0M139.4 307.2h0M139.3 305.4h0M138.7 300.6h0M139.7 292.4h0M139.4 290.4h0M139.5 289.5h0M139.4 289.4h0M139.7 295.6h0M139.9 300.5h0M139.7 309.2h0M139.6 307h0M140.7 302h0M140.3 297h0M139.7 292.3h0M140.5 289.5h0M140.4 291.1h0M140.5 295.5h0M140.4 298.8h0M140.8 302.9h0M141 308.9h0M140.6 306.9h0M141 298.8h0M141.6 299.9h0M141 294.3h0M141.6 290.6h0M141.2 289.8h0M141.6 295.6h0M141.9 298.9h0M142.3 303.8h0M141.5 307.5h0M142.2 301h0M141.6 297.8h0M142.1 297.2h0M142.2 290.8h0M142.5 289.2h0M142.6 294.5h0M142.3 298.2h0M142.9 303.4h0M142.5 308.3h0M143.4 305.8h0M142.8 301.8h0M142.7 294h0M143.3 293.6h0M134.5 322.2h0M135.2 319.6h0M135 313.8h0M135.1 304.7h0M135.3 305.9h0M135.5 298.5h0M134.9 300.9h0M134.7 306.7h0M135.3 307.5h0M135.6 316.4h0M136.1 322.2h0M136.4 316.2h0M135.7 312.8h0M136.4 307.3h0M136.1 303.8h0M136.4 295.8h0M136.7 298.8h0M136.1 305.2h0M136.1 313.4h0M136.3 320.8h0M136.6 320.6h0M137 313h0M137 308.5h0M136.9 307.5h0M137 301.4h0M137.4 296.5h0M137.6 303h0M137.9 307.6h0M137.8 314h0M137.7 318.1h0M137.6 321.8h0M138.3 313.2h0M138.1 309.5h0M137.8 305.7h0M138.1 301.9h0M138.4 295.8h0M138.6 302.9h0M138.3 309.6h0M139.4 318.8h0M138.6 315.7h0M138.6 320.7h0M139.6 312.2h0M138.9 309.5h0M138.5 304.4h0M138.8 296.9h0M144.9 304.1h0M145.1 304.9h0M144.9 303.8h0M145.4 308.2h0M145.2 304h0M145.3 304.9h0M145.5 303.8h0M145.4 303.9h0M145.5 308.2h0M145.8 305.3h0M146.2 304.5h0M145.8 304.7h0M145.7 306.2h0M145.7 306.2h0M146.3 305.2h0M147 308.2h0M146.4 306.1h0M146.8 305.5h0M147 308.1h0M146.5 306.1h0M147 303.8h0M147 303.8h0M147.2 307.9h0M147.3 306.5h0M147.5 304.7h0M147.3 303.8h0M147.4 303.8h0M148 308.2h0M147.5 308.2h0M147.8 304.7h0M147.8 303.8h0M147.6 304h0M148 308.2h0M147.9 308.2h0M148.1 306.8h0M148.3 303.8h0M148.8 308h0M148.6 307.3h0M148.5 305.6h0M149 303.8h0M148.8 303.8h0M149.2 303.8h0M148.7 308.2h0M149.1 308.2h0M148.9 303.8h0M149.8 353.2h0M149.7 346.7h0M150.2 344.6h0M150 340.9h0M150 335.3h0M150.4 333.2h0M150.3 331.1h0M150.3 326.8h0M150.7 321.2h0M151.6 317h0M151.1 316h0M150.8 322.3h0M150.6 324h0M151.2 331h0M151.1 333h0M151.1 336.5h0M150.9 340h0M151.2 346.4h0M152.1 345.2h0M151.5 352.6h0M152 351.8h0M152 346.2h0M151.9 344.9h0M152.1 339.6h0M152.2 336.5h0M152.1 330h0M152.4 327.9h0M152.7 327.3h0M152.5 320.1h0M152.6 317.3h0M152.7 325.5h0M152.9 325h0M152.8 331.8h0M152.9 329h0M153.6 335.7h0M153.2 336.3h0M153.1 342.9h0M153.5 349.1h0M153.9 349.5h0M153.6 349.8h0M154.3 349.5h0M153.9 344h0M154.3 338.5h0M154.2 336.8h0M154.3 332.4h0M140.4 342.6h0M139.4 340.9h0M139.9 339h0M140.7 335.6h0M140.1 336h0M139.9 343.2h0M140.6 342.8h0M140.7 345.5h0M141 352.2h0M140.7 354.8h0M140.9 348.6h0M141.2 347.7h0M141 340.8h0M141.2 341h0M141.5 333.9h0M141.4 335.6h0M141.1 339.1h0M141.6 340.1h0M142.2 342.2h0M141.8 351h0M141.8 350h0M141.9 355.2h0M142.5 350.7h0M142.4 346.9h0M141.8 344h0M142.5 339.7h0M142.5 335.7h0M142.3 336.2h0M142.5 337.8h0M142.4 341.5h0M142.7 347.5h0M143.4 353h0M142.6 355.2h0M143.4 350.9h0M143.3 348.3h0M143.8 344.5h0M143.2 340.7h0M144 339.8h0M143.7 333.2h0M144.1 337.6h0M143.9 339h0M143.6 343.7h0M144.1 350.5h0M143.8 351.4h0M143.9 355.2h0M153 347.7h0M153 349.1h0M152.9 349.9h0M153.5 351h0M153.5 350.2h0M153.5 346.8h0M153.4 348.6h0M153.6 351.3h0M153.7 352.2h0M153.6 350.8h0M154.1 348.6h0M154 351.7h0M153.6 352.2h0M154.4 352.2h0M154.4 347.3h0M154.1 346.8h0M154 352.2h0M154.7 351.6h0M154.7 350h0M154.4 347h0M154.9 351.6h0M154.8 352.2h0M155 347.8h0M155.1 347.7h0M155.5 347.7h0M156 383.4h0M156.2 389h0M155.8 395h0M156.2 395.1h0M156.5 399.8h0M156 396.5h0M156.3 392.1h0M156 385.9h0M156.6 380.8h0M157.1 377.9h0M156.9 372.8h0M156.8 368.7h0M157.4 365.8h0M156.9 370.2h0M157 371.1h0M157.2 376.3h0M157.5 379.9h0M157.9 384.2h0M158.2 390.5h0M157.8 397.6h0M157.5 399.4h0M158.1 402.1h0M157.7 397h0M157.7 392.4h0M158.6 386.8h0M158.5 380.5h0M158.3 378h0M158.2 376.7h0M159 368.4h0M159 368.7h0M158.9 368.1h0M159 376.3h0M158.8 379h0M159.4 384.2h0M159.5 389.3h0M158.8 391.9h0M159.1 396.9h0M159 400.1h0M159.8 400.9h0M159.1 395.9h0M159.9 393.2h0M160 390.6h0M160.3 382.9h0M160.1 377.9h0M160 375.4h0M160.5 370.8h0M160 370.2h0M161 369.5h0M160.3 377.8h0M161 379.1h0M160.5 381.3h0M161.1 390.5h0M160.5 392.3h0M161.1 397.9h0M161.4 402.6h0M161 399.3h0M161.3 400.9h0M161.5 388.7h0M162.3 386.4h0M161.6 382.1h0M161.5 379.2h0M162 375.9h0M162.1 370h0M162.1 366.6h0M162.3 371.9h0M162.4 379.4h0M162.7 382.5h0M162.9 389.5h0M162.8 387.1h0M162.6 393.4h0M162.5 397.5h0M162.8 404.2h0M163 399.1h0M163.1 395.7h0M164 392.2h0M163.6 387.7h0M163.5 382.4h0M163 377.7h0M163.9 376.3h0M163.9 371.2h0M163.8 372.1h0M163.7 372.3h0M164.4 378h0M164.6 386.5h0M164.5 387.2h0M164.3 391.9h0M164.8 398.6h0M164 401h0M165 401.8h0M164.9 401.4h0M166.9 449.2h0M166.7 447.6h0M167 440.3h0M167.1 434.6h0M167.2 427.2h0M167.1 426.5h0M167.2 417.9h0M167.6 415.8h0M168 413.5h0M167.8 414.5h0M167.9 417.4h0M167.9 423.3h0M168.7 426.9h0M167.9 434.6h0M168 437.2h0M168.3 444.8h0M168.9 449.8h0M168.9 444.3h0M168.5 443.2h0M169.3 439.5h0M169.2 433.3h0M168.7 429.5h0M169.3 426h0M168.9 418.8h0M169 414.4h0M169.8 411.8h0M169.4 416.4h0M169.3 422.5h0M169.3 426.2h0M170.1 428.9h0M169.5 432h0M169.9 440.9h0M170 442h0M170.1 449.2h0M170.1 443.3h0M170.4 440.8h0M170.5 438.2h0M170.1 433.6h0M170.8 428.3h0M170.6 423.7h0M170.7 420.1h0M171 411.6h0M170.8 413.9h0M171.6 417.9h0M171.1 424.4h0M171.6 426.2h0M171.1 434.1h0M171.3 435.1h0M171.5 442.3h0M171.9 444.6h0M172.2 449.1h0M171.9 443.4h0M172.3 441.5h0M172.1 438.2h0M172.5 431.3h0M172.2 428.1h0M173.2 422.6h0M173.2 418.3h0M172.2 411.5h0M172.6 414.6h0M173.6 418.3h0M173 423.3h0M173.3 426.9h0M173 433.4h0M173.6 439.2h0M177.7 412.8h0M178 407.1h0M177.9 403.2h0M178.8 406.9h0M178.4 405.4h0M178.4 409.4h0M178.4 417h0M178.6 421.1h0M177.9 420.6h0M179.2 418h0M178.7 411.2h0M178.7 409h0M179.3 405.7h0M179.1 402.3h0M179.1 406h0M179.6 408.1h0M178.9 409.8h0M180 414.7h0M180.1 422.2h0M179.8 419.6h0M179.9 414.1h0M180.2 413.6h0M179.5 406h0M180.2 404.6h0M180.2 402.5h0M180.1 402.8h0M180 410.4h0M180.5 411.2h0M180.8 415.6h0M180.6 422.2h0M180.3 422.2h0M180.4 420.4h0M181.1 413.6h0M181.5 405.4h0M181.1 406.3h0M181.1 401.8h0M181.3 406h0M181.3 408.1h0M182.1 413.3h0M181.8 413.9h0M181.3 419.6h0M181.8 420.7h0M182.3 417.6h0M182 413.6h0M182.7 411.3h0M187.6 418.8h0M187.8 414.5h0M188 412.5h0M187.9 407.2h0M188.9 405.1h0M188.5 396.1h0M188.6 392.4h0M188 390.4h0M189.1 394.7h0M189 400.9h0M188.9 404.9h0M188.8 406.6h0M189 412.9h0M188.8 415.8h0M189.3 417.6h0M189.6 410.1h0M189.4 407.8h0M189.8 404.9h0M189.5 400.2h0M189.8 397.9h0M189.7 391.9h0M190.1 391.1h0M189.9 392.3h0M189.6 401h0M190.5 405.5h0M189.9 410.4h0M190.5 413.2h0M190.1 417h0M190.7 418h0M191 414.3h0M190.4 411h0M190.6 403.2h0M191.2 403.4h0M191.5 396.4h0M191.3 391.7h0M191.3 393h0M191.2 401.6h0M191.7 403.3h0M191.7 404.9h0M190.8 407.4h0M192.2 413h0M192 420.2h0M191.8 417.6h0M192.2 411.8h0M192.6 410.2h0M182.6 429.3h0M183.2 434.1h0M183.2 431.2h0M183 431.3h0M183.6 425.8h0M183.4 432.6h0M183 435.2h0M183.5 431.7h0M184 431.3h0M183.6 431.7h0M184 433.5h0M183.9 432.7h0M184.6 427.9h0M184 425.8h0M184.3 432.5h0M184 433h0M184.3 431.8h0M184.4 425.8h0M184.3 428.6h0M184.2 435.2h0M185 434.2h0M185.4 425.8h0M185 427.4h0M185.4 431.9h0M185.3 435.2h0M185.7 429.2h0M185.1 428.8h0M185.8 430.6h0M185.6 435.2h0M185.8 432.3h0M186.1 430.5h0M185.4 429.7h0M185.4 433.3h0M186.8 432.5h0M186.1 428.5h0M185.7 427h0M186.3 427.8h0M186.3 434.2h0M187 430.8h0M186.9 425.8h0M186.7 430.5h0M186.9 435.2h0M187.4 433.5h0M187 427.3h0M187.1 425.8h0M193.1 426.6h0M193.3 429.2h0M192.8 420.9h0M193.1 418.9h0M193.4 410.9h0M193.8 410.4h0M193.4 407.2h0M193.2 409.5h0M193.4 414.9h0M194.2 419.5h0M193.5 428.4h0M194.2 434.3h0M194.5 435.2h0M194.1 440.7h0M193.7 442.4h0M194.1 442.2h0M193.8 435.4h0M194.4 430.5h0M195.2 428.7h0M194.8 422.7h0M194.8 420.6h0M195.5 412.5h0M194.9 409.8h0M195.2 412.9h0M194.8 414.1h0M195.5 412.8h0M195.3 419.3h0M195.5 425.3h0M195.6 433h0M195.2 436.3h0M195.5 441h0M195.1 441.5h0M196.5 444.9h0M196.1 438.8h0M195.7 436.2h0M196.5 430.6h0M196.5 425.9h0M196.6 423.5h0M196.1 417.4h0M196.6 414.7h0M197.1 409.6h0M197.1 411.4h0M196.6 414h0M197.1 420.5h0M197.4 425.8h0M202.4 440.6h0M203.4 432.6h0M202.3 431.8h0M202.7 434.1h0M202.8 439.8h0M202.8 445.6h0M202.6 449.3h0M202.2 446.6h0M203.3 440.8h0M202.9 439h0M202.8 434.4h0M202.8 432.3h0M202.7 435.7h0M203.3 442.9h0M203.3 451.1h0M202.7 452.3h0M203 449.8h0M203.1 444.6h0M202.9 440.5h0M598.8 317.5h0M599.1 320.3h0M598.6 314.3h0M599.7 310h0M599.5 304.5h0M599.6 298.6h0M599.9 294h0M600.1 286.3h0M599.5 278.4h0M600.4 272.4h0M600.2 277.5h0M600.7 281.8h0M601.1 291.8h0M601 291.2h0M600.6 299.1h0M600.7 305.1h0M601.2 310.4h0M600.8 318h0M601.4 316.8h0M601.5 313.9h0M602.2 298.5h0M602.1 297.5h0M602.6 292.1h0M602.3 285.2h0M602.3 277.6h0M602.4 274.2h0M602.9 270.5h0M603 276.2h0M603.1 278.1h0M603.1 281h0M603.5 288.7h0M603.3 289.8h0M603.2 297.7h0M604 298h0M603.6 302.8h0M603.7 298.6h0M605.8 246h0M605.7 247.4h0M605.6 252.5h0M606.3 254h0M606.6 256.4h0M607.2 262.3h0M607.1 269.9h0M607.4 272.4h0M607.4 273h0M607.2 269.5h0M606.9 264h0M607.5 257.4h0M607.7 261h0M607.4 250h0M608.1 243.6h0M608.3 241.6h0M607.9 237.4h0M608.5 232.9h0M608.7 227.1h0M608.1 222.4h0M609 218.4h0M609 222.4h0M608.7 223.8h0M609.7 231.9h0M609.8 236.8h0M609.8 237.9h0M609.4 244.1h0M610.7 250.5h0M609.9 257.5h0M610 261.7h0M610.3 267.8h0M611.3 270.9h0M610.8 281h0M610.6 282.8h0M610.9 284h0M611.8 280.8h0M611.8 276.8h0M612.1 285.7h0M612.5 289.5h0M612.6 299.7h0M612.3 302.3h0M612.7 307.7h0M612.3 315.9h0M612.5 314.1h0M613.1 305.7h0M613.4 303.7h0M613.6 295.3h0M613.1 290.1h0M613.6 283.7h0M613.9 278h0M614.2 272.9h0M614.3 275.1h0M613.9 276.4h0M614.5 287.6h0M614.9 291.3h0M614.2 295h0M614.8 302.8h0M615.3 305.6h0M615.3 310.7h0M615.6 317.2h0M615.3 316.1h0M615.9 308.9h0M615.9 301.9h0M615.8 295.5h0M616.6 294.4h0M616.1 287.1h0M616.5 280.4h0M616.8 279.9h0M617.1 280h0M616.7 280.2h0M616.9 290.8h0M617.1 295.4h0M617.5 295.4h0M618 306.3h0M617.5 311.7h0M618.2 315.3h0M618.2 316.3h0M618.2 308.6h0M618.4 306.4h0M619 302.8h0M618.8 294.9h0M619.2 291.6h0M619.2 291h0M619.3 284.2h0M619.3 278h0M619.7 283.3h0M619.7 292.1h0M619.6 294.8h0M620.3 299.2h0M620 301.6h0M620 304.9h0M620.6 311.4h0M620.9 315.4h0M620.7 314h0M620.9 307.3h0M620.4 304.7h0M621 296.2h0M620.7 295.3h0M621 289.4h0M621.3 287.4h0M622.3 284.2h0M622.1 281h0M622.2 285.7h0M622 290.8h0M622.2 292.1h0M622.3 301.3h0M622.6 301.9h0M622.9 311.2h0M622.8 307.8h0M622.5 315.7h0M623.1 312.5h0M623.3 305.7h0M623.9 302.1h0M623.6 294.5h0M624.7 297.4h0M624 287h0M624.1 287.1h0M619.3 253.1h0M619.2 252.2h0M619.5 248.8h0M620.1 255h0M621.1 259.6h0M621.2 265.9h0M620 267.7h0M621.1 274.7h0M620.5 275h0M620.8 274.3h0M620.9 270.1h0M621.3 267.2h0M621.9 259.5h0M621.7 258h0M621.7 254h0M622.5 250.2h0M622.2 255.2h0M622.4 258.9h0M622.8 264.2h0M622.7 268.8h0M623.1 273.7h0M623.5 272.5h0M622.9 278.8h0M624.4 331.7h0M625 336.4h0M624.9 341.6h0M624.7 339.2h0M625.8 335.2h0M625.8 331.6h0M625.9 326.3h0M625.9 322.2h0M626.2 314h0M626.3 313.1h0M626.4 301.2h0M626.2 305h0M626.7 311.6h0M626.8 322h0M626.6 325.9h0M627.1 331h0M627 336.5h0M627.2 344.5h0M627.5 351.8h0M628.1 357.1h0M628.2 349.4h0M628 341h0M628.1 335.6h0M628.6 328.8h0M628.8 322.6h0M628.5 315.9h0M628.3 306.9h0M629.4 307.4h0M628.8 312.7h0M629 316.3h0M629.6 326.2h0M629.5 334.1h0M629.8 339.7h0M629.4 347.5h0M630.8 361.6h0M630.5 362.7h0M631 357.8h0M630.3 348.6h0M630.6 341.6h0M630.8 333.1h0M631.3 327.8h0M630.9 319.4h0M631 315.1h0M631.2 307.9h0M631.4 313.2h0M631.5 323h0M631.6 329.9h0M631.8 340.1h0M632.3 344.8h0M632.2 353.9h0M631.8 363.1h0M632.7 369.4h0M632.8 363h0M632.5 359.4h0M633.1 349.6h0M633.2 340h0M633.1 337h0M633.5 327.1h0M633.7 319.5h0M634.3 310.9h0M633.7 320h0M634.5 325.9h0M634.5 335.5h0M634.3 340.9h0M634.4 349.6h0M634.5 357.3h0M635 364.9h0M634.8 370.3h0M636.1 375.1h0M635.8 362.9h0M635.3 355.1h0M635.5 349.9h0M636.1 341.2h0M636 335.7h0M636.4 333.2h0M636.3 321.4h0M637 320.3h0M636.8 326.2h0M636.6 335.3h0M637.4 342.2h0M638.1 351.9h0M637.6 358.7h0M637.2 367.8h0M637.7 376h0M637.3 377.3h0M638.2 368.6h0M637.8 366.3h0M638 358.2h0M638 352.7h0M638.3 344.3h0M639.1 338.8h0M639.3 333.9h0M638.9 329.1h0M639.4 338.5h0M639.4 345.9h0M640 351.3h0M639.9 357.4h0M639.7 364.6h0M640.1 370.7h0M639.3 376.8h0M639.9 380.1h0M640.1 375h0M641 368.8h0M641 366.8h0M640.7 357.6h0M641.3 353.5h0M641.1 349.3h0M641.2 344.2h0M641.6 336.9h0M641.4 337.8h0M642.5 345.4h0M642.1 353.4h0M642.1 358.8h0M642 364.8h0M641.9 366.1h0M642.8 369.7h0M643 378.2h0M643.5 373.5h0M643.1 371.4h0M642.8 362.3h0M644 360.6h0M644.1 356.1h0M643.7 348.2h0M643.9 346.7h0M644.3 339.4h0M644 339.7h0M643.9 342.5h0M644.6 350h0M644.3 352.6h0M644.7 360.1h0M644.5 360.2h0M645.2 364.2h0M644.8 370.2h0M645.7 370.5h0M645.4 366.7h0M645.4 363.6h0M645.9 357.6h0M645.7 350.6h0M646.1 349.3h0M646.2 342.4h0M646.5 340.4h0M647.2 339.2h0M646.6 341h0M646.6 340.5h0M646.8 349.3h0M647.3 348.5h0M647.5 352.8h0M647.9 356.7h0M647.3 360.5h0M648 363.9h0M647.8 359.8h0M648.3 356.4h0M648.1 352.7h0M648.8 350.9h0M648.7 347.7h0M648.4 342.5h0M649.3 340.2h0M649.3 335.4h0M648.9 339.2h0M649.2 336.8h0M649.3 344.8h0M649.8 344.8h0M649.3 354.7h0M650 353.1h0M649.9 354.8h0M649.8 355.6h0M650.6 349.1h0M650.6 353.4h0M650.8 347h0M651 343.3h0M651 344.7h0M651 342.2h0M648.9 318.9h0M649 315h0M649.2 312.7h0M649.1 305.8h0M649.5 303.4h0M649 307.2h0M650.4 306.5h0M649.6 311.2h0M650.3 312h0M650.1 310.8h0M650 314.9h0M650.8 308.3h0M650.1 309.1h0M651.1 302h0M650.8 303.8h0M651.5 303.1h0M651.2 303.2h0M651.5 310.3h0M651.6 311.4h0M651.4 316.9h0M651.4 312.9h0M652.2 307.5h0M652.5 304.1h0M652.7 301.8h0M652.8 301.7h0M652.6 302.4h0M652.8 312h0M653.3 312.9h0M652.9 318.3h0M653.1 315.3h0M653.3 309.2h0M654.2 306.4h0M653.8 304.2h0M653.6 301.2h0M654.1 300h0M654.6 305.8h0M654 309.6h0M654.5 316.3h0M654.8 319.7h0M654.7 316.7h0M654.9 311.2h0M655.4 306.2h0M654.9 302.9h0M655.2 298.1h0M655.8 302h0M655.5 308.3h0M655.7 311.8h0M655.7 315.8h0M656.3 320.6h0M656.4 313.9h0M656.4 311h0M656.8 306.5h0M656.9 297.9h0M657 297.9h0M656.6 305.4h0M657 307.8h0M657.9 311.8h0M657.8 320.9h0M657.5 321.7h0M657.7 313.4h0M658 307.9h0M658.8 303.6h0M658.3 299.9h0M658.9 298.6h0M659.1 304.9h0M658.7 308.3h0M658.9 315.2h0M659.1 324.3h0M659.2 320.3h0M659 312.5h0M660 306.3h0M659.8 299.1h0M659.2 300.1h0M660.9 300.5h0M660.4 309.2h0M660.2 317.6h0M660.8 326.2h0M660.7 326.1h0M661.3 320.9h0M661 315.8h0M660.8 303.7h0M661.4 297.9h0M661.7 297h0M661.7 303.3h0M661.7 311.5h0M661.6 315.6h0M662.3 330h0M662.5 322.9h0M662.9 322.8h0M662.7 312.2h0M662.3 303.1h0M662.9 300.2h0M663.1 299h0M663.2 304.3h0M663.6 316.6h0M663.7 320.6h0M663.7 330.6h0M664 324.9h0M663.6 314.6h0M664.1 308.7h0M664.1 301.8h0M664.7 297.9h0M664.2 300.6h0M664.7 310.9h0M665.2 320.3h0M665.5 324h0M665.1 331h0M665.3 324h0M665.7 313.3h0M666 307.5h0M666.2 300.3h0M665.7 297.6h0M666.1 306.1h0M666.1 312h0M666.3 320h0M667 328.2h0M667.1 327.3h0M666.8 315.8h0M666.8 308.8h0M667.5 303.9h0M667.3 296.1h0M667.3 299.8h0M667.6 309.2h0M667.7 308.3h0M667.7 316.3h0M668.2 321.8h0M668.4 314.6h0M668.1 307.2h0M668.7 301.8h0M669.1 299.9h0M668.8 295.3h0M668.4 299.1h0M668.7 302.9h0M670.2 289.3h0M670.1 294.4h0M669.9 295.6h0M670.1 301.7h0M671.1 300.9h0M670.7 299h0M670.9 290.2h0M671 285.7h0M671.2 281.7h0M671.1 279.8h0M671.1 290.6h0M671.8 290.1h0M671.8 295.9h0M671.8 302.8h0M671.9 300.4h0M672.1 293.4h0M672.2 288.3h0M672.5 283.7h0M673.1 277.6h0M672.8 279.9h0M672.8 285h0M673.1 291.8h0M673.2 295.6h0M674.1 300.9h0M673.3 296h0M673.4 293.2h0M673.6 283.9h0M673.4 279.1h0M673.7 276.6h0M674.6 280.1h0M674.3 285.4h0M673.6 291.2h0M675 301.4h0M674.7 299.8h0M674.9 293.8h0M675.2 291.3h0M675.2 286.3h0M675.4 277.1h0M675.8 278.1h0M675.6 286.5h0M675.8 286.3h0M676.5 288.9h0M676 298h0M676 298h0M676.7 293.2h0M677.2 291.2h0M677.3 280.6h0M677.2 282.2h0M677.1 282h0M677.6 283.5h0M677.8 288.3h0M677.9 298.5h0M677.9 299.9h0M677.8 300.9h0M677.8 292.6h0M678.1 287.6h0M678.6 284.4h0M678.5 278.8h0M678.8 281.6h0M678.7 286.7h0M679.3 292.2h0M679.5 293.7h0M679.4 301.2h0M679.4 298.9h0M679.5 288.3h0M680.2 287h0M680.2 286.6h0M680 277.9h0M680.2 281.2h0M680.7 286.3h0M680.2 292.4h0M680.6 298.1h0M680.9 301.2h0M681 295.5h0M681.6 290.4h0M681.3 283.6h0M681.9 283.2h0M681.9 281h0M682.1 284.4h0M682.1 288.8h0M682.4 294.1h0M682.5 289.1h0M682.8 293.4h0M682.7 297.4h0M683 306.2h0M683.4 307.6h0M683.3 314.3h0M683.7 313.2h0M684.2 320.4h0M683.9 321.5h0M684 317h0M684.6 317.3h0M684.5 310.9h0M684.7 304.4h0M685.2 303.9h0M685 298.3h0M685 297.4h0M685.2 290.8h0M685.7 287.4h0M685 292.7h0M685.3 294.5h0M686.2 299.3h0M686.1 301.4h0M686.2 308h0M686.7 313.3h0M686.6 317.7h0M686.4 318.8h0M686.7 319.7h0M686.9 327.6h0M687.1 323.5h0M686.2 314.7h0M687 317.1h0M687.2 312.4h0M687.8 311.9h0M687.8 304.4h0M688.1 302.7h0M688.2 296.5h0M688.3 294.9h0M688.2 298.1h0M688.6 301.1h0M688.7 305.5h0M688.8 308.9h0M688.5 314.6h0M689.4 315.4h0M689.3 321.9h0M689.2 322.6h0M689.9 324.8h0M690 331.1h0M690 326.6h0M690.5 324.1h0M690 319.9h0M690.1 316.6h0M690.9 310.4h0M691.1 308.7h0M690.9 304.3h0M691.8 301h0M691.4 297.5h0M691.9 297.7h0M691.7 300.8h0M691.5 302.4h0M692 312.6h0M691.9 314.9h0M692.5 319.1h0M692 320.8h0M691.9 330.3h0M692.8 331.6h0M693.2 331.2h0M692.9 332.1h0M693.5 324.8h0M693.6 319.8h0M693.6 316h0M693.4 316.9h0M693.9 312.6h0M694.4 309.1h0M694.3 303.7h0M694.5 301.3h0M694.1 299.6h0M694.5 303.5h0M694.7 301.7h0M695 313.8h0M694.7 316.5h0M695.1 317h0M695.8 321.8h0M695.7 326h0M695.7 332.9h0M695.9 330.8h0M696.2 332.3h0M695.8 325.4h0M695.9 322.5h0M696.3 319.2h0M696.6 315.4h0M697.2 314h0M696.6 305.5h0M697 306.3h0M697.4 299.7h0M697.1 296.3h0M697.8 298.4h0M697.4 304.5h0M697.8 309.4h0M698.1 309.9h0M697.8 315h0M698.8 317.8h0M698.3 319.8h0M698.5 324.3h0M698.5 330.8h0M699.7 328.3h0M698.4 327.6h0M699 322.6h0M699.5 312.7h0M699.6 312.5h0M700.1 303.6h0M699.7 303.8h0M700.3 299.9h0M699.6 291.5h0M700.1 289.1h0M702.2 258.9h0M702.2 265.6h0M702.6 267h0M702.1 270.3h0M702.2 276.8h0M702.3 281.7h0M702.6 286.1h0M702.7 282.6h0M702.3 275.8h0M703.6 268.9h0M703.4 268.4h0M703.3 260.1h0M704.2 258.4h0M703.8 250.1h0M703.7 246.8h0M704.1 243.4h0M704 246.9h0M704.7 251.5h0M704.8 259.3h0M704.9 267.9h0M704.9 270.1h0M705.1 273.7h0M705.7 278.5h0M705.8 284.5h0M706 284.1h0M705.6 281.3h0M706 275.3h0M705.7 273.2h0M706.4 270h0M706.6 265.5h0M706.4 259.5h0M706.4 253.1h0M707.1 252.7h0M706.9 248.5h0M707.4 252.8h0M707.2 257.3h0M707 261.8h0M707.7 268h0M707.2 269.8h0M707.7 278.8h0M708.6 282.2h0M708.2 284.4h0M708.4 286.3h0M708.5 284.9h0M708.4 280.1h0M708.6 272.9h0M709.2 273.8h0M708.9 268h0M709.4 266.8h0M709.5 259.9h0M709.7 252.2h0M709.8 256.6h0M709.6 257.7h0M710.2 260.3h0M710.2 267.7h0M710.6 268.2h0M710 273.3h0M710.5 279.9h0M710.4 285.9h0M711 285.2h0M711.1 290.3h0M711.8 284h0M711.4 279.9h0M711.9 277.9h0M711.7 273.6h0M711.4 272.6h0M711.8 266h0M712.1 265.5h0M712.6 258.9h0M712 257.1h0M712.9 260.1h0M712.6 262.2h0M712.7 268.8h0M713 273.8h0M713.3 276.3h0M712.9 282.2h0M713.5 281.5h0M713.5 290.3h0M714.1 291.7h0M714.2 288.7h0M713.7 283.6h0M715.2 284h0M715.2 278.2h0M715.1 281.6h0M715.4 272.4h0M715.3 271.8h0M715.3 280.5h0M715.6 282.3h0M716 286.4h0M716.2 292.7h0M716.4 295.3h0M716.2 296h0M716.4 302.7h0M716.5 303.1h0M716.8 298.8h0M717.1 290.5h0M717.2 285.8h0M717.5 285.9h0M717.2 276h0M717.4 273.9h0M717.8 270h0M717.8 274.3h0M718.1 277.3h0M718.4 278.7h0M718.3 285.2h0M718.6 286.9h0M718.8 293h0M718.4 292.1h0M719.4 305.2h0M719.2 299h0M719.3 299.5h0M719.6 290.2h0M719.8 289.7h0M719.8 283h0M719.6 279.5h0M719.3 273.7h0M720.2 268.7h0M720.3 274.8h0M720.5 277.7h0M720.5 280.3h0M721 287.5h0M720.7 290.3h0M721.1 295.7h0M720.7 302.6h0M721.8 304.5h0M721.5 300.8h0M721.5 295.2h0M721.8 289.5h0M722.1 286.2h0M722.4 283.8h0M722.9 275.2h0M722.2 276.4h0M722.9 270.5h0M723 274.9h0M722.8 277h0M723.4 283.4h0M723.3 280.4h0M723.8 291.9h0M724.3 293.2h0M723.9 300.9h0M724.3 302.4h0M724.1 297.2h0M724.5 292.9h0M724.1 291.9h0M724.8 283.9h0M724.4 281.6h0M724.3 279h0M725.5 273.8h0M725.5 268.8h0M725.2 273.1h0M725.7 275.4h0M725.3 283.1h0M726.1 285.3h0M726 291.3h0M725.6 294.4h0M725.7 297.2h0M726 302.6h0M726.4 298.6h0M726 293.9h0M727.2 291h0M726.7 287.3h0M726.7 281.4h0M727.4 276.1h0M727.5 274.7h0M726.9 270.5h0M727.6 272.6h0M728.1 278.5h0M728.5 281.6h0M728.5 288.7h0M716.9 325.4h0M717.2 325.9h0M717.2 322.8h0M716.7 318.7h0M717.5 316.6h0M717.2 314h0M718.3 317.5h0M718.2 320.6h0M718 327h0M717.6 328.6h0M718.4 334.8h0M718.4 336.1h0M718.3 337.8h0M718.8 337.9h0M719.4 340.2h0M719 332.1h0M719.8 329.2h0M719.2 325.6h0M718.9 324.9h0M720.2 320.1h0M720.2 317.2h0M720.1 315.1h0M720.1 319.4h0M720.2 320.1h0M720.9 326.5h0M720.8 330.3h0M721.1 332.5h0M721 334.6h0M720.9 337.5h0M721.1 341.2h0M721.8 336.8h0M721.5 326.2h0M721.7 331.5h0M721.5 327.4h0M722.1 324.7h0M721.9 321h0M722.2 319.3h0M722.6 315.2h0M723.1 319.4h0M723 321.6h0M722.9 325.5h0M723.1 327.5h0M723.4 333.1h0M723.6 334.9h0M723.6 335.6h0M724 340.3h0M723.6 338.6h0M723.7 331.6h0M724.2 329.8h0M724.4 327.1h0M724.5 324.2h0M724.8 323.5h0M725 321h0M725 319.1h0M725 320.3h0M725.7 322.9h0M725.9 325h0M725.6 327.6h0M726 325h0M726.1 337h0M726.3 333.8h0M726.5 339.3h0M725.6 337.2h0M726.6 333.5h0M726.8 333.3h0M726.6 330h0M726.8 326.6h0M726.9 323.9h0M727.4 318.1h0M727.2 317h0M727.6 323h0M728.2 323.4h0M727.4 326.3h0M727.5 325.2h0M727.9 329.8h0M728.3 335.2h0M728.2 340.5h0M728.9 338h0M728.6 340.2h0M728.9 335.4h0M729.3 330.8h0M728.8 329.8h0M729.5 324.9h0M729.7 322.5h0M730 316.1h0M729.4 314.8h0M729.7 316.2h0M730 323.8h0M730.6 322.9h0M730.6 323.3h0M730.3 330.9h0M731.4 333.2h0M731.3 338h0M731.1 341.8h0M731.7 338.1h0M731.9 331.3h0M732.1 336.1h0M731.4 326.2h0M731.9 324.1h0M731.6 319.2h0M732.4 316.4h0M732.9 310.6h0M732.5 311.6h0M733.1 319.2h0M732.8 320.1h0M732.5 324h0M733.2 331h0M732.5 331.3h0M733.6 337.7h0M734 342.9h0M734.1 341.3h0M734.3 335.5h0M733.9 324.9h0M734.9 325.8h0M734.2 319h0M734.6 314.3h0M734.9 312.5h0M735.1 310.1h0M735 306.5h0M735.5 314.8h0M735.2 318.4h0M735.4 321.4h0M736.2 328.5h0M735.7 331.8h0M736.1 335.8h0M735.7 338h0M736.2 343.8h0M736.3 339.7h0M736.5 330.5h0M736.8 324.7h0M737.1 318.6h0M736.7 316h0M736.8 311.9h0M737.5 305h0M737.6 305.7h0M738.3 311.2h0M737.8 315.3h0M738.1 319.6h0M738.8 326h0M738 331.4h0M738.9 336.2h0M738.7 340h0M738.9 341.8h0M738.9 337.2h0M738.7 333.5h0M739.6 324.2h0M741.9 284.6h0M742.1 289.8h0M741.9 294.1h0M742.5 295.2h0M742.6 291.5h0M742.4 282.4h0M743.2 281.5h0M742.5 275.2h0M743.2 269.2h0M742.9 265.4h0M743.5 256.6h0M743.5 250.3h0M743.7 256.8h0M743.7 261h0M743.6 259.1h0M744.3 268.4h0M744.1 272.7h0M744.1 276h0M745.2 282.8h0M744.7 287.3h0M744.3 292.3h0M744.8 285.6h0M745.3 284.2h0M745.4 283.2h0M745.2 278.2h0M745.5 264.7h0M746.1 261.4h0M745.9 254.6h0M746 250.7h0M746.4 244.3h0M746.9 247.4h0M746.6 251.5h0M746.4 258.2h0M747 262.9h0M747.2 271.8h0M747.1 278.3h0M747.2 280.2h0M748.4 281.7h0M747.7 292.2h0M748 292.4h0M748.3 285.9h0M747.4 275.5h0M748.2 272.6h0M748.1 262.2h0M749.1 257.8h0M748.6 246.6h0M749 247.1h0M749.3 237.7h0M748.9 245.2h0M749.6 252h0M750.1 256.3h0M749.4 259.8h0M749.7 269.1h0M750.2 269.4h0M750.3 282.3h0M750.1 289.4h0M750.5 293.6h0M750.8 287.4h0M751 282.9h0M751.2 274.6h0M751.1 269.6h0M751.7 262.4h0M751.5 255h0M751.4 247.5h0M751.8 242.4h0M752 236.7h0M752.4 242.9h0M752.2 250.2h0M752.1 258.7h0M752.2 260.8h0M751.8 267.5h0M752.9 273.2h0M752.7 277.6h0M753.2 287.2h0M753.3 290.2h0M752.9 284.8h0M753.7 274.1h0M753.8 272.6h0M754.2 266h0M753.7 260.6h0M754.6 258h0M755.6 284.4h0M756 288.6h0M756.1 294.8h0M756.3 297.6h0M756.4 302.6h0M756.6 305.1h0M756.8 313.1h0M757.1 312.5h0M757.5 313.9h0M757.7 317.5h0M757.2 310.7h0M757.9 306.6h0M757.8 301.8h0M757.3 294.7h0M758.3 288.4h0M758.2 283.6h0M758.1 278h0M758.2 283.6h0M758 274.5h0M758.3 268.4h0M759 262.4h0M759.5 264.8h0M759.1 257.8h0M759.5 259.7h0M759.4 263.9h0M759.7 263.1h0M759.7 269.5h0M759.9 269.2h0M759.9 274.8h0M760.6 276.3h0M760.8 278.5h0M760.6 280.5h0M760.6 282.9h0M760.4 288.1h0M761 286.2h0M760.9 289.5h0M761.3 293.3h0M761.4 292.1h0M761.7 286.4h0M762.1 282.8h0M762.6 279.2h0M762.1 277.6h0M762.3 273.4h0M762.7 269.2h0M762.5 267.9h0M762.8 264.8h0M763 257.9h0M763 257.9h0M762.8 252.6h0M763.5 254.3h0M763.8 252.2h0M763.9 252h0M763.4 256h0M763.8 256.9h0M763.8 262.4h0M764.8 263.5h0M764.7 269.2h0M764.2 272.1h0M764.7 272.2h0M764.6 273.7h0M765.1 279.8h0M765.1 283.6h0M765.6 285.8h0M765.6 284.9h0M765.9 280.2h0M766.1 280.5h0M765.9 271.3h0M766 273h0M766.4 269h0M766.2 264.6h0M766.8 262.8h0M766.7 260.4h0M766.5 253.9h0M767.3 251h0M767.5 250.2h0M767.3 247.1h0M767.6 244h0M767.5 244.2h0M767.4 247.1h0M768.2 249.6h0M768.3 251.5h0M768.2 253.7h0M768.4 256.2h0M768.9 258.8h0M768.8 259.2h0M769.1 265.7h0M769.3 269.7h0M769.6 270.1h0M769.2 271.5h0M769.5 275.9h0M769.6 277.4h0M770.2 274.7h0M770 270.8h0M770.5 267.6h0M771 264.8h0M770.3 262.7h0M770.5 252.8h0M771.4 256.9h0M771.1 250.4h0M770.6 247.2h0M771.4 248.7h0M770.7 241.6h0M770.9 241.4h0M771.2 236.3h0M771.7 236.2h0M772.4 241.1h0M772.1 244.8h0M771.5 247.6h0M772.7 248h0M772.4 250.5h0M772.3 250.4h0M773.2 255.7h0M773.1 256.8h0M772.9 256.3h0M783.1 119.9h0M783.1 116.2h0M783 108.2h0M783.2 103.8h0M783.6 99.9h0M783.7 95.3h0M783.7 87.3h0M783.2 84.4h0M783.4 79.7h0M783.9 73h0M783.8 70h0M784.4 69.9h0M784.3 75.8h0M784.2 80h0M783.6 82h0M784.2 90h0M784 93h0M783.7 98.6h0M784.2 105.5h0M784.7 107.4h0M784.1 114.3h0M784.4 121.6h0M784.4 115.3h0M784.5 109.7h0M785.1 103.6h0M785.4 99.6h0M785.4 95.8h0M785 89.3h0M785.8 84.5h0M785 76.3h0M784.5 76.7h0M785.7 64.4h0M785.2 64.5h0M785.6 66.7h0M785.5 76.3h0M785.5 82.3h0M785.5 84.2h0M785.1 91.6h0M786 98.8h0M785.6 104.8h0M785.2 103.8h0M779 134.8h0M779 140.3h0M778.8 140h0M778.6 145.5h0M778.9 149h0M778.6 154.3h0M778.9 158.7h0M779 159.4h0M779.3 158.9h0M779.5 156h0M779.2 147.4h0M779.9 148.5h0M779.7 144.6h0M779.7 140.4h0M779.7 134.5h0M779.6 134.4h0M779.3 142.1h0M779.5 144.1h0M779.7 145h0M780.1 154h0M779.8 155.5h0M780.1 157.8h0M780.1 161.6h0M780.4 156.7h0M780.5 152.7h0M779.9 153.3h0M780.3 146.5h0M780.2 142.4h0M781.5 136.9h0M782 135.6h0M782 126.6h0M782 127.4h0M781.4 122.6h0M782.7 124.4h0M782.2 129.2h0M782.7 132.5h0M782.6 136.7h0M782.2 143.2h0M782.4 146.2h0M782.6 152.7h0M782.6 156.7h0M783 153.5h0M782.8 152.2h0M783.7 146h0M783.7 139.6h0M783.5 137.2h0M783.4 133.5h0M783.3 126.9h0M783.9 122.7h0M783.5 120.8h0M783.7 126.8h0M784.3 130h0M783.9 137.3h0M783.9 139.2h0M784 140.8h0M784.3 148.2h0M784.1 152h0M784 156.5h0M784.6 156h0M784.5 145.9h0M784.7 146.9h0M784.7 139.6h0M784.8 138.5h0M785 131.7h0M785.1 128.6h0M785.2 123.7h0M785.2 120.8h0M785.8 129h0M785.5 129h0M786.1 132.7h0M785.4 142h0M785.5 143.5h0M786.5 146.4h0M785.6 151h0M786.2 155.7h0M785.8 151.7h0M786.3 145.8h0M786.2 142.5h0M786.5 141.3h0M786.5 132.8h0M786.4 128.9h0M787 128.4h0M786.9 124.1h0M786.6 124h0M787.3 125.7h0M786.2 131.6h0M787.2 137.8h0M787.3 139.4h0M787.2 145h0M787.5 152.4h0M787.3 150.9h0M787.2 155.1h0M787.5 148.5h0M787.1 142h0M787.6 140.2h0M787.9 137.3h0M788.2 129.7h0M787.7 130h0M787.9 126.2h0M788.2 121.4h0M788 123.7h0M788.7 128.3h0M788.8 131.4h0M788.2 136.1h0M788.9 144.4h0M788.8 148.1h0M788.7 151.3h0M789.6 154.7h0M788.9 152.1h0M789.4 149.2h0M789.4 143.5h0M789.7 141.7h0M789.5 136.9h0M789.8 130.8h0M789.9 131.8h0M789.8 127.7h0M790 124.8h0M789.7 128.4h0M790.3 134.3h0M790.1 133.3h0M789.8 142.3h0M790.1 142.3h0M790.2 148.7h0M790.6 149.4h0M790.3 154.1h0M791.1 148.1h0M790.8 144.7h0M790.9 148.6h0M790.1 139.6h0M791.5 135.1h0M791.9 135.4h0M791.7 127.8h0M791 123.1h0M791.3 123.2h0M791.4 125.3h0M791.3 135.8h0M791.6 139.2h0M791.9 139h0M792 144h0M791.8 145.7h0M792.3 154.2h0M792.2 154.2h0M792.2 152.1h0M792.2 144.4h0M792.1 145.2h0M792.6 141.7h0M793 138.3h0M793.1 132.9h0M792.8 126.4h0M793.3 129h0M792.8 126.4h0M792.7 131.1h0M793.2 134.8h0M793.2 141h0M793 170.3h0M793.6 180.2h0M793.4 182h0M792.9 185.8h0M792.9 182.3h0M793.6 176.7h0M794.1 173.9h0M793.1 167.4h0M793.2 167.4h0M793.8 163.8h0M793.2 158.5h0M793.7 161.6h0M794.1 169.2h0M794.1 170.1h0M793.8 177.3h0M794.4 181.2h0M794.4 185.8h0M794.1 186.7h0M794.7 176.8h0M794.8 176.1h0M794.6 172h0M794.7 171.9h0M794.7 164.4h0M794.8 159.9h0M794.9 165.6h0M794.7 166.2h0M795.1 169h0M798.1 130.2h0M797.9 137.6h0M798.5 133.2h0M797.9 137.7h0M798.3 146.2h0M797.7 143.7h0M798.1 149.5h0M798.4 150.4h0M798.3 145.2h0M798.2 144.6h0M798.8 140.5h0M799.3 139.2h0M799 136.4h0M799.4 132.1h0M799 125.2h0M799 120h0M799.5 119.7h0M799.2 123h0M799.4 128.6h0M799.6 130.2h0M800.2 135.3h0M799.7 140.7h0M800.2 146.2h0M799.7 149h0M800.5 151.3h0M800 144.9h0M800 145.1h0M800.1 142.2h0M799.9 140.7h0M800.3 132.5h0M800 124.7h0M800.2 126.3h0M800.5 120.4h0M801.4 116.8h0M800.9 121.6h0M801.5 129.7h0M801 131.6h0M801.6 133.5h0M801.3 137h0M801.2 141.7h0M802 143.2h0M801.6 150.8h0M801.4 150.7h0M802 148h0M802.1 142.9h0M801.8 136.7h0M802.1 135.3h0M801.8 129.2h0M802.4 126.7h0M802.7 120.3h0M801.9 116h0M802.4 117.8h0M803 120.5h0M802.6 122.9h0M802.7 134.2h0M802.9 138.7h0M802.7 144h0M803 147.3h0M803 152h0M803.1 154.6h0M803.1 150h0M803 141h0M803.3 139.3h0M803.2 133.4h0M803.4 127.2h0M803.9 127.1h0M804 120.4h0M803.6 115.1h0M805.1 114.2h0M804.3 120.1h0M804.6 123.1h0M803.7 126.2h0M804.3 136h0M805 139.6h0M804.4 145.9h0M804.7 148.2h0M805.4 154.7h0M804.5 149.3h0M805.1 146.3h0M805.2 143.7h0M804.9 137.9h0M804.7 132.5h0M803.4 103.1h0M804 99.2h0M803.2 100.9h0M803.4 88.4h0M803.1 85.8h0M803.3 83.1h0M803 81.8h0M803.8 84h0M804 86.1h0M803.4 89.8h0M803.7 93.8h0M803.6 103.2h0M803.8 104.4h0M804.1 108.5h0M803.3 117.2h0M803.4 116.8h0M804.3 107.7h0M804 111.8h0M804.1 101.7h0M804.5 96.6h0M804.1 92.7h0M804.3 87.6h0M804.5 88.7h0M803.6 81.6h0M804.2 79.4h0M804.6 83.5h0M804.5 83.4h0M804.7 90.8h0M805 92.6h0M804.6 101.4h0M804.4 110.9h0M804.5 109.4h0M804.4 113.9h0M804.9 114.8h0M804.8 152.2h0M804.8 158.5h0M805 161.5h0M805.6 169.2h0M805.4 165.7h0M804.7 162.5h0M805.4 155.8h0M804.9 152.5h0M805.6 157.2h0M806.6 162.6h0M805.6 165.5h0M805.4 168.6h0M806.1 161.4h0M805.9 159h0M806.7 153.6h0M805.5 159.4h0M806.6 159.9h0M806.4 167.1h0M807 166.6h0M806.8 165h0M806.5 163.3h0M806.7 153.7h0M805.9 158.7h0M806.9 162.8h0M807 164.9h0M807.2 165h0M807.5 163.2h0M810.6 130.3h0M811.1 125.7h0M810.2 120.9h0M811.3 120.2h0M810.8 126.1h0M811 127.4h0M811.5 130.4h0M811.3 134h0M811.6 137.3h0M811.3 144.6h0M811.6 145.8h0M811.5 147.2h0M811.4 143.2h0M811.9 134.5h0M812.2 135.1h0M812.1 133h0M812.3 123.9h0M812.3 121.8h0M812 119.4h0M812.4 125.7h0M812.8 128.2h0M812.7 131.2h0M812.6 134.9h0M813 137.8h0M813.1 146.5h0M813.1 146.3h0M813.3 144.2h0M812.8 140.5h0M812.9 137.7h0M813.6 132.7h0M812.9 128.6h0M813.7 126.2h0M813.7 124.1h0M813.3 122.3h0M813.8 124.8h0M814 127.9h0M814.4 127.8h0M813.9 137.3h0M813.2 160.7h0M812.6 157.4h0M812.9 154.4h0M813 157.8h0M813.5 163.4h0M814.2 170.7h0M813.3 171.8h0M813.9 163.9h0M814.1 160.5h0M813.7 153.4h0M813.5 157h0M813.8 162.6h0M814 168.4h0M813.8 173.2h0M814 170h0M814 163.3h0M814.5 157.8h0M815 153h0M814.5 159.6h0M814.8 163.4h0M814.8 168.5h0M814.7 170.3h0M814.6 164.6h0M814.7 159.2h0M815.1 155.9h0M815 155.1h0M814.7 156.4h0M815 184.4h0M815.2 186.5h0M814.9 180.4h0M815.5 177.1h0M814.8 173.3h0M815.3 172.5h0M815.4 178.2h0M815.6 185h0M815.8 187h0M815.3 195.1h0M815.7 197.6h0M816.1 199.3h0M816.2 203.7h0M815.9 217.4h0M816.1 219.4h0M815.7 220.1h0M816.3 217.8h0M816.7 209.2h0M816.6 209.2h0M816.5 206.8h0M816.3 197.7h0M817.4 190.8h0M816.8 188.6h0M817.1 183.4h0M817.4 178.6h0M817.2 175.7h0M818 173.2h0M816.6 178h0M817.4 184.7h0M817.6 187.1h0M817.7 193.2h0M818.3 195.4h0M817.1 201.7h0M817.4 206h0M817.8 208.6h0M818 210.7h0M818.1 219.6h0M817.9 220.3h0M817.8 214.7h0M818.2 210.6h0M818.4 202.6h0M818.4 203.1h0M819.2 198.4h0M819.1 191.4h0M818.9 185.4h0M818.5 183.2h0M818.5 179.2h0M819.2 172.3h0M819.3 176.5h0M819.7 178.9h0M819.2 184.1h0M819.8 188.6h0M819.5 194.3h0M819.8 201.5h0M819.8 201.3h0M820.5 206.8h0M819.9 210.7h0M819.8 217.5h0M820.4 217.7h0M820.4 215.9h0M820.2 214.7h0M819.9 212.2h0M820.7 207.4h0M820.7 200.6h0M820.9 198.7h0M821.1 189.4h0M820.5 187.7h0M821.1 183.7h0M821 175.4h0M820.8 173.9h0M821.6 175h0M821 184.2h0M821.6 185.2h0M821.4 191.5h0M821.6 196h0M822.3 202.6h0M821.5 203.8h0M822.4 211.2h0M822.2 216.4h0M822 222.1h0M822.6 219.6h0M822.5 216.5h0M825.7 184.9h0M826.3 189.9h0M825.7 194.3h0M825.9 196.2h0M825.6 196.5h0M826.4 204.9h0M825.9 204.4h0M825.7 209h0M825.8 216.4h0M825.8 215.7h0M826.3 218.5h0M825.8 218.2h0M826 215.5h0M826 216.1h0M826 212.5h0M825.9 206h0M826.4 202.6h0M826 202.6h0M826.2 194.6h0M826.5 192.3h0M826.3 192.6h0M825.8 184.6h0M826.3 182.9h0M826.5 177.4h0M825.5 176.4h0M826.5 172.3h0M826.2 169.2h0M826.2 166.1h0M826.1 157.8h0M826.6 157.2h0M826.5 152.8h0M827 152.8h0M826.1 160.1h0M826.5 167.9h0M826.9 167.8h0M826.6 172.8h0M826.1 175.6h0M827 177.9h0M826 182.3h0M826.5 182.4h0M826.7 188.2h0M827.1 191.5h0M827 195.2h0M826.7 204.1h0M826.1 204.5h0M826.6 208.1h0M826.5 210.7h0M826.7 214.1h0M826.7 219.8h0M827.3 223.2h0M826.9 219h0M827 217.6h0M826.7 212.9h0M827 208.3h0M826.8 203h0M827.5 198.2h0M827.4 198.5h0M827 192.3h0M826.9 190.7h0M827.2 187.6h0M827 183.9h0M827 177.1h0M827 176h0M826.8 174.5h0M827.1 169h0M827.2 164.8h0M827.1 156.7h0M827.3 156.2h0M827.1 155.9h0M827.4 156.5h0M827.4 158.9h0M827.9 219.1h0M827.7 222.2h0M827.7 219.2h0M828.5 213.4h0M828.3 210h0M827.6 205.6h0M828.8 204.3h0M828.6 198.8h0M828.1 194.5h0M829.1 188.1h0M827.6 185h0M828.2 186.6h0M828.8 189.7h0M828.5 192.3h0M828.7 195.9h0M828.5 198.8h0M828.8 202.2h0M829.3 201.7h0M828.5 211.4h0M829.4 217.4h0M829 220.3h0M829.4 221.4h0M829.2 217.8h0M830 218.4h0M829.4 209.5h0M829.6 204.1h0M829.8 202.4h0M829.9 198.8h0M829.6 193.1h0M829.8 192.8h0M829.7 186.1h0M830.1 183.9h0M830.2 189.5h0M830 193.9h0M830 198h0M830.6 199.3h0M830.5 205.6h0M835.8 242.9h0M835.2 244.8h0M836 237.3h0M835.8 234.2h0M835.6 227.4h0M836.2 221.4h0M835.9 216.2h0M836.2 217.5h0M836.9 218.1h0M836.1 225h0M836.1 232.4h0M836.5 235.3h0M836.3 239h0M836.4 242.6h0M836.6 237.4h0M836.7 232.6h0M836.7 227.2h0M836.3 224.3h0M836 218.5h0M836.5 217.5h0M837.4 222.4h0M836.5 226.1h0M836 231.2h0M840.3 206.6h0M839.8 213.4h0M839.6 214.6h0M840.1 219.6h0M839.9 221.6h0M840.2 225.2h0M840.4 221h0M840.2 217.8h0M840.3 210.8h0M839.9 209h0M840.7 206.1h0M841 197.6h0M841.2 197.9h0M840.8 199.7h0M841.5 205.5h0M841.5 210.7h0M841.1 218.9h0M842.1 220h0M841.5 227.2h0M841.9 224.9h0M841.7 214.8h0M841.7 214.4h0M842.1 207.7h0M842.3 205.6h0M841.7 198.2h0M842 195.5h0M842.3 198h0M842.6 202.4h0M842.2 212.9h0M843 216.6h0M842.3 220.3h0M842.5 221.6h0M842.8 226.3h0M843.2 221h0M842.9 214.9h0M842.9 209.7h0M843 203.4h0M843.8 198.9h0M843.2 199.8h0M843.8 203.4h0M843.9 205.1h0M843.5 209.3h0M843.6 210.2h0M843.6 219h0M843.8 220.2h0M844.2 227.2h0M844.1 221.6h0M843.4 219.6h0M844.2 210.6h0M844.1 205h0M844.6 202.6h0M844.4 197.8h0M844.4 196.3h0M844.9 201.1h0M845 206.2h0M844.9 209.8h0M844.2 212.4h0M844.6 219.4h0M845.3 227.2h0M845.5 220.9h0M845.6 225h0M845.9 216.4h0M845.9 209.7h0M845.6 203.3h0M846 197.7h0M845.9 198.1h0M845.9 198.9h0M845.1 201.4h0M846.1 205.7h0M845.7 215.7h0M846.3 217.2h0M846.2 224.3h0M846.3 227.2h0M846.5 222.4h0M847 219.2h0M846.6 219.3h0M846.8 209.4h0M846.7 205.5h0M846.9 199.7h0M847.2 198.4h0M847.9 202.7h0M847.4 206.1h0M844.3 248.5h0M844.4 246h0M844 237.9h0M844.4 235.6h0M843.6 239.6h0M844.1 242.4h0M844.4 244.3h0M844.6 251.6h0M844.5 243.7h0M845.1 244.1h0M844.1 234.8h0M844.4 235.9h0M844.8 243.2h0M845 245.4h0M844.9 253.1h0M845.1 251.4h0M844.9 238.9h0M845.5 237.5h0M845.1 234.9h0M845.7 237h0M845.5 242.1h0M846 248h0M845.6 247.9h0M846.1 243h0M845.6 236.1h0M846 232.8h0M845.8 238.6h0M846.7 209.5h0M847.1 216.1h0M847.4 216.6h0M847.2 212h0M847 207.1h0M847.1 202.9h0M847.3 195.9h0M846.7 191.9h0M847.3 185.3h0M847.1 190.7h0M848.1 192.3h0M847.6 202.6h0M848.1 203.8h0M848.2 211.2h0M847.8 216.5h0M847.8 215.3h0M848.2 213.3h0M848.5 203.2h0M848.6 202.6h0M848.8 194.3h0M848.5 192.5h0M848.5 185.4h0M849.3 192.4h0M848.9 193.2h0M848.8 202h0M849 204.5h0M849.8 211.9h0M849.4 218.3h0M849.9 214.5h0M849.1 209h0M850.1 205.6h0M849.6 198.2h0M849.6 195.3h0M849.8 187.4h0M849.2 187.5h0M850 192.9h0M850 195.2h0M850.5 201.7h0M850.1 207h0M850 212.6h0M850.7 216h0M851.2 215.8h0M850.5 209.2h0M850.8 205.7h0M850.9 198.6h0M850.9 196.9h0M850.9 186.5h0M851.4 190.3h0M851.1 193.6h0M850.6 195.4h0M851.7 198.6h0M851.4 206.5h0M851.6 217.6h0M851.9 219.2h0M852 213.4h0M852.3 206.3h0M851.8 201.2h0M851.6 199.8h0M852.6 194.9h0M852.3 187.7h0M852.5 186.9h0M852.6 195.1h0M852.8 198.6h0M852.7 205.1h0M852.8 212.1h0M853.3 213.3h0M853 217.3h0M853.1 214.1h0M852.7 208.8h0M853.3 200.6h0M853 196.8h0M853.5 192.7h0M853.6 186h0M853.3 193.2h0M854.1 194.7h0M853.3 201.7h0M853.4 205h0M853.8 213.2h0M854 216.9h0M853.8 219.2h0M854.1 212h0M854.1 210.5h0M853.6 200.1h0M854.3 197.1h0M853.9 188.5h0M854.4 185.2h0M854.4 191.1h0M855 193.2h0M854.9 200.8h0M854.8 203.6h0M855.5 213h0M855.7 218.9h0M854.7 215.1h0M855.7 215.4h0M855.4 209.6h0M855.7 199.8h0M855.5 198.1h0M855.6 191.3h0M856.2 185.8h0M855.8 187.5h0M855.7 196.9h0M857.7 169.5h0M857.4 165.7h0M857.4 161.1h0M857.4 163h0M857.8 166.9h0M857.6 176.4h0M857.9 178.9h0M858.4 184.9h0M858.2 188.1h0M858.3 188.6h0M858.7 181.7h0M858.5 179.7h0M858.3 172.8h0M859.1 166.5h0M858.9 164.1h0M859 160.6h0M858.7 165.6h0M858.9 172.1h0M859 177.9h0M859.1 179.5h0M859.3 182.4h0M859.3 188.2h0M859.6 186.3h0M859.9 184.1h0M859.4 176.3h0M859.7 169.7h0M860 167.3h0M860.2 165.5h0M859.6 158.8h0M859.9 164h0M860.3 173.2h0M860.5 175h0M860.5 182.2h0M860.6 184.3h0M860.9 187.1h0M861 185.6h0M860.5 181.7h0M860.7 178.7h0M861 174h0M861.5 170.3h0M861.2 160.6h0M861.2 158.5h0M861.2 164.4h0M861.2 169.2h0M861 172h0M861.9 181.7h0M861.7 187.8h0M862.2 190.7h0M861.9 183.7h0M861.9 182.3h0M861.9 177.1h0M862 171.1h0M862 166h0M862.1 162.4h0M862.5 158.2h0M863.2 163.9h0M863 166.8h0M862.7 173.1h0M863.2 175.3h0M863.1 181.8h0M863.3 189.3h0M863.2 188.6h0M862.9 180h0M863.2 176.7h0M863.4 172.3h0M863.2 166.9h0M863.6 157.9h0M863.5 159.3h0M863.8 161.9h0M863.6 168.9h0M863.4 174.8h0M863.2 181.8h0M864.4 185.7h0M863.6 189.2h0M864.3 184.2h0M864 181.4h0M865 173.3h0M864 170.1h0M865 168.2h0M864.5 165.1h0M865.5 160.4h0M864.8 167.7h0M864.9 172.9h0M865 178.1h0M865.2 179.3h0M864.9 185.1h0M872.2 139h0M872.2 135.5h0M872.5 141.5h0M871.3 147.9h0M871.6 150.3h0M872.3 157.4h0M872.1 162.7h0M872.3 163.3h0M873.1 173h0M872.5 175.6h0M872.4 169.4h0M872.2 167h0M873 159.5h0M873.1 152h0M872.9 148.6h0M873.1 146.6h0M872.9 137.7h0M873 131.7h0M873.6 136.3h0M873.4 134h0M873.5 147.5h0M873.4 149.4h0M874 157.7h0M873.9 159.7h0M874.2 164.2h0M873.7 173.4h0M874.2 176.5h0M874.3 170.7h0M874.5 164.8h0M874.8 162.1h0M874.5 158.9h0M874.9 148.5h0M874.4 138.6h0M874.9 138.1h0M875 132.4h0M874.7 130.4h0M875.5 138.8h0M875.1 144.9h0M875.3 151.2h0M875.4 153.6h0M875.4 161.8h0M875.1 164.9h0M876 168h0M875.9 175.4h0M875.9 168.3h0M876 166.7h0M875.8 160.7h0M876.2 149.8h0M876.1 148.6h0M876.1 142.4h0M876.2 136.8h0M876.3 131.1h0M876.2 132.3h0M877 137.2h0M876.7 143.6h0M877 149.8h0M877.4 156.6h0M876.8 160.8h0M876.8 168.5h0M877.2 172.7h0M876.6 178.6h0M877 170.7h0M877.7 164.6h0M877 161h0M877.6 151.3h0M878 149.4h0M877.5 145.3h0M877.9 136.7h0M878.6 136.1h0M877.8 130.7h0M878.4 136.5h0M877.7 147.2h0M878.1 154h0M878.3 155.5h0M878.9 160h0M879.4 168.2h0M878.9 174.5h0M878.6 178.8h0M878.7 176.9h0M879.2 167.8h0M879.5 159.3h0M879 155.6h0M879.1 147h0M879 145.8h0M879.5 137.4h0M879.4 133.7h0M879.8 133.6h0M880.1 133.6h0M879.9 145h0M880.1 149.6h0M880.4 158.6h0M880.3 158.3h0M880.5 168.8h0M880.4 174.7h0M880.7 178.8h0M880.5 173.7h0M880.5 165.5h0M881.3 160.8h0M880.6 156.6h0M880.4 151.8h0M880.6 145.7h0M881.2 138h0M881.3 133.3h0M881.1 131.4h0M881.7 163.3h0M882 156.7h0M881.9 152h0M882.6 148.9h0M882.2 142.7h0M882.4 143.4h0M882.8 147.9h0M882.3 153h0M882.4 159.8h0M882.6 160.2h0M882.8 165.4h0M882.8 170.8h0M882.8 177.8h0M883.3 175.2h0M882.9 182.3h0M882.7 180.4h0M883 177.7h0M883.2 169.9h0M883.3 170.3h0M884.2 163.7h0M883.5 160.5h0M883.5 153.7h0M883.5 154.7h0M883.5 144h0M883.8 141.2h0M884 145.7h0M884.1 151h0M884.3 154.9h0M884.1 157.2h0M884.9 157.6h0M884.5 167.3h0M884.6 171.9h0M884.7 174.9h0M884.8 179.3h0M885 184.8h0M885.2 176h0M885.3 176.8h0M885.7 173.3h0M884.9 163.2h0M885.1 162.2h0M885.4 158.1h0M885.7 148.4h0M886.3 146.6h0M885.4 144.8h0M885.3 144.3h0M886.1 147.2h0M886.7 152.7h0M886 155.1h0M886.4 156.9h0M886.2 164.5h0M886.8 167.9h0M886.6 173.9h0M886.4 175.7h0M887.1 184.7h0M886.5 184h0M887 174h0M887.3 172.4h0M887.1 169.6h0M887.3 162.8h0M886.7 155.9h0M888.2 153.5h0M887.2 152.8h0M887.7 145.3h0M887 141.5h0M887.4 145.1h0M887.3 149.5h0M887.3 155.5h0M888.2 158.1h0M888.2 167.8h0M887.7 168.2h0M888.2 175.7h0M888.4 176.9h0M888.5 182.3h0M888.5 184.2h0M888.7 180.1h0M888.9 176.3h0M888.9 170.2h0M888.7 166.8h0M889.1 158.8h0M888.6 162.7h0M889.3 154.7h0M889.4 148.5h0M888.2 147.3h0M887.6 155.9h0M888.8 158.5h0M888.4 164.2h0M888.4 167h0M888.2 172.9h0M888.3 175h0M889.2 175.3h0M888.9 169.5h0M889 164.6h0M889.1 159.7h0M888.5 156.5h0M888.6 150.7h0M888.5 146.8h0M888.8 145.4h0M888.9 138.8h0M889.3 137.1h0M888.9 132.8h0M889.2 128.3h0M889.1 136.9h0M889.6 141.5h0M888.9 142.8h0M889.6 146.1h0M889.2 148.5h0M889.6 157h0M889.7 157.5h0M889.6 158.2h0M889.8 169.5h0M890.3 170.1h0M889.8 172.6h0M889.7 174.3h0M889.7 171.7h0M889.6 160.3h0M890.1 165.3h0M889.5 158.6h0M889.9 154.3h0M890.7 143.9h0M890.5 143.5h0M890.4 136.5h0M890.5 134.2h0M890.5 126.8h0M890.6 129.5h0M892.5 72.4h0M893 75.2h0M893 69.1h0M892.9 68.2h0M893 73.4h0M893 73.9h0M892.8 65.7h0M892.9 68.1h0M892.4 103.4h0M892.7 106.9h0M892.3 113.8h0M892.9 119.9h0M893 119.9h0M893 117h0M893 106.1h0M892.9 103.8h0M893 98.1h0M893.3 94.5h0M893.1 89.9h0M892.8 89.8h0M893.6 96.1h0M893.2 102.9h0M892.8 106.1h0M893.1 111.1h0M892.9 120.6h0M892.9 120.7h0M893.2 121.9h0M893.1 117.4h0M892.8 108.3h0M893 107.2h0M892.9 98h0M892.6 93.4h0M893.4 88.8h0M892.9 93.1h0M894.7 158.2h0M894.9 159.3h0M894.9 169h0M895 171.9h0M894.5 175.9h0M895.4 177.7h0M895.3 182.5h0M895.2 188.3h0M895.3 190.9h0M895.7 188.2h0M896 187.5h0M895.6 178.5h0M895.6 180.2h0M895.6 178.2h0M895.9 174h0M896.1 166h0M896.4 165.6h0M896.6 158.9h0M896.6 158.3h0M896.5 151.2h0M896.2 146.2h0M896.9 150.8h0M896.9 150.8h0M897.1 157h0M897 159.5h0M897 161.4h0M896.7 173.3h0M897.5 174h0M897.4 174.7h0M897.8 179.8h0M897.4 184.1h0M897.2 188.7h0M898 195.6h0M897.7 195.6h0M898 190.3h0M898.1 183.5h0M897.6 179.2h0M898.7 174.8h0M898.3 169.9h0M898.2 167.8h0M898.3 165.7h0M898.6 162.3h0M898.3 157.5h0M898.5 151.6h0M898.6 149h0M898.9 146.7h0M899.2 152h0M899.2 160.7h0M899.1 163.9h0M899.4 168.3h0M899.1 169.7h0M899.4 177h0M899.5 180.4h0M899.5 180.5h0M900 187.7h0M899.7 192.9h0M899.8 196.2h0M899.6 196.3h0M899.6 190.5h0M900 184.6h0M900 188.4h0M900.6 175.6h0M900.5 174.4h0M900.5 170.9h0M900.5 165.4h0M900.7 160.6h0M901.1 158.7h0M901.2 151.6h0M901.1 148.8h0M900.7 148.6h0M901 156.2h0M901.3 160.7h0M901.8 163.4h0M901.5 169.6h0M901.6 170.6h0M901.5 171.5h0M901.8 180.4h0M901.9 184.5h0M902.1 186.6h0M901.9 192.1h0M902.2 195.8h0M901.8 193.6h0M902.4 189.3h0M902.2 182h0M902.1 181.7h0M902.9 177.1h0M899.3 213h0M899 219.2h0M898.7 210.1h0M899.6 198h0M899.4 197.1h0M899.3 192.1h0M899.2 185.7h0M899.5 188.8h0M900 196h0M900 208.3h0M899.6 210.2h0M899.9 212.5h0M899.6 216.1h0M900.1 210.5h0M899.8 202.7h0M900.1 199.6h0M899.5 190.5h0M900.2 186.7h0M900.4 193.2h0M900.2 199.3h0M900.9 202.3h0M900.6 210.9h0M900.8 214.6h0M900.7 217.5h0M901 211.6h0M901.3 207.7h0M901.3 199h0M901.7 192.6h0M901.3 185.6h0M901.2 194.9h0M901.4 193.8h0M902 206.2h0M901.3 210.2h0M901.7 218.5h0M902 216.6h0M901.5 209.5h0M901.6 201h0M902.5 200.4h0M902.2 189.5h0M901.9 188.8h0M903 193.1h0M902.8 197.2h0M902.6 207.9h0M902.5 206.9h0M902.5 218.4h0M902.2 211.4h0M903.2 208.7h0M902.4 207.9h0M903.5 198.7h0M903.3 192.2h0M903.2 186.8h0M903.7 191h0M903.3 200.8h0M903.1 205.6h0M903.8 208.9h0M904.1 217.3h0M903.6 213.2h0M903.9 211.5h0M903.9 202.1h0M904 196.9h0M904.5 194.5h0M904.4 190.3h0M904.5 194.3h0M904.6 199.7h0M904.6 203.7h0M905 214.8h0M904.8 218.4h0M904.7 215h0M904.6 207.6h0M905.4 204.4h0M905.5 196.6h0M905.4 190.7h0M905.5 189.5h0M905.6 192.9h0M905.5 199.2h0M905.6 206.3h0M905.7 210.9h0M906 218.6h0M905.8 217.7h0M905.8 211.6h0M906 204.6h0M905.7 201.2h0M906.7 192.8h0M906.2 189.1h0M906.4 198.2h0M906.8 199.1h0M906.6 206.9h0M906.5 212.8h0M906.7 220.2h0M907 216.3h0M906.9 212.9h0M907 204.8h0M906.7 200.1h0M907.5 196.1h0M907.5 190.1h0M907.2 198.3h0M907.3 202h0M907.8 208.5h0M907.7 211.2h0M907.4 219.5h0M907.9 219h0M908.1 211.9h0M907.9 206h0M908.2 200.7h0M907.5 195.8h0M908.3 192.2h0M908.2 199.6h0M908.8 203.4h0M908.5 215.3h0M909.1 212.5h0M908.7 221.5h0M908.7 218.9h0M909.1 210.9h0M909.1 206.7h0M909.5 201.5h0M909.2 196.2h0M909.2 192.2h0M909.7 197.7h0M909.8 205.5h0M909.4 206.3h0M909.8 212.8h0M910 222.1h0M909.7 216.1h0M909.8 213.7h0M909.9 208.3h0M910 202.3h0M909.9 197.6h0M910.3 193.3h0M910.3 199.6h0M910.9 205.9h0M910.5 210.7h0M911.2 214.9h0M911 219.7h0M911.1 219h0M911.5 212.2h0M911.7 209.9h0M911.6 205.1h0M911.2 197.8h0M911.8 197.6h0M911.6 196.6h0M911.2 207.1h0M911.4 209.3h0M911.6 215.3h0M911.7 220.8h0M912.1 219.8h0M911.6 213.5h0M912.1 210.8h0M912 203h0M911.9 196.6h0M912.2 197.3h0M912.2 203.1h0M912.5 208h0M912.7 207.9h0M912.6 213.2h0M912.2 218.6h0M912.7 217.2h0M913.3 211.4h0M913.1 209h0M913.1 205.2h0M913.6 199.7h0M913.6 197h0M913.9 201.9h0M913.4 205.3h0M913.5 215.1h0M913.6 216.1h0M913.8 219.3h0M913.8 216h0M913.8 211.9h0M913.7 208.8h0M913.6 206.8h0M914.4 200h0M914.2 200.1h0M914.3 202.4h0M914.4 209.6h0M914.9 211.8h0M914.6 213.4h0M915 217.2h0M914.9 218.4h0M915.1 214.1h0M915.3 208.9h0M915.5 204.1h0M915.5 231.6h0M915.7 227.9h0M915.2 221.2h0M915.7 222.1h0M915.4 225.3h0M915.3 231h0M914.8 226h0M915.7 221.4h0M915.2 220.8h0M915.5 227.8h0M915.4 260.1h0M915.3 263.5h0M915.8 271.2h0M916.4 271h0M915.7 265.7h0M915.7 262.1h0M916.3 257.9h0M915.9 256.2h0M916.5 260.3h0M916.8 269.9h0M916.8 272.2h0M916.6 274.1h0M917.2 270.9h0M916.7 258.3h0M917.3 254.8h0M917.4 258.2h0M917.1 262.4h0M917.5 268.8h0M917.2 275.2h0M917.6 268.9h0M917.7 263.7h0M917.6 259.7h0M917.5 254.8h0M917.7 258.8h0M917.9 266.6h0M918 268.5h0M918 275.2h0M918.3 265.4h0M918.7 261.5h0M918.3 260.3h0M918.9 259.2h0M918.4 266.4h0M918.6 267.6h0M918.5 274h0M918.2 266.5h0M919.1 265.3h0M919 259.4h0M919.1 255.7h0M919.6 257h0M919.6 266.2h0M919.8 272h0M919.8 274.2h0M920.3 268.4h0M919.6 261.8h0M919.7 255.4h0M919.8 256.1h0M920.4 263.4h0M920.1 270.8h0M920.4 273.1h0M919.9 271h0M920.5 264.5h0M920.7 258.9h0M920.4 255.8h0M920.6 259.8h0M921 263.3h0M920.4 267.2h0M920.7 275.2h0M920.9 269h0M920.8 263.7h0M921.3 262.8h0M921.1 255.8h0M921.4 262.5h0M921.6 267.1h0M921.7 270.6h0M921.7 270.1h0M921.4 268.9h0M921.7 262.2h0M921.7 254.8h0M922.5 261.3h0M921.8 263.1h0M921.9 267.6h0M921.9 273.3h0M922.4 268.7h0M922.6 264.6h0M922.5 258.1h0M922.5 254.9h0M922.5 257.4h0M922.4 265.9h0M923 267.2h0M922.7 272.2h0M922.9 267.8h0M923.2 259.3h0M923.3 257.5h0M923.2 255.3h0M923.3 264.3h0M923.6 269.3h0M923.3 268.4h0M923.7 265.7h0M923.7 263.6h0M924 260.3h0M924.2 257.4h0M924.2 258.9h0M924.1 262.9h0M924.7 269.1h0M925 269.7h0M924.3 266.7h0M924.7 260.9h0M924.8 256.2h0M925 259.6h0M925.1 259.5h0M925 264.3h0M925.3 269.1h0M925.8 266.5h0M925.6 262.6h0M925.4 234.5h0M926 235.4h0M925.7 239.1h0M925.9 248.6h0M926.3 248.1h0M925.8 242.9h0M925.4 235.5h0M926.3 235.2h0M926 238.6h0M926.3 243.7h0M926 247h0M926.5 242.3h0M926.3 240.5h0M926.9 213.4h0M927.1 218.7h0M926.9 223.9h0M927.4 224.6h0M927.1 220.1h0M927.8 215.8h0M927.1 210.8h0M927.4 207.5h0M927.1 213h0M927.6 218.3h0M927.7 218.9h0M927.4 225.9h0M927.5 222.2h0M928.9 220.6h0M928 214.1h0M928.3 206.8h0M928.5 209.9h0M928.2 210.6h0M928.4 217.9h0M928.9 221.2h0M928.7 221.2h0M928.9 224.5h0M928.8 217.7h0M928.7 216.6h0M929.1 209.1h0M929.1 207h0M929.3 208.7h0M931.7 199h0M930.9 192.7h0M930.4 187.8h0M930.7 186.5h0M930.6 182.8h0M930.5 188.6h0M930.7 195h0M930.9 191.2h0M931.3 197.9h0M931.2 199.4h0M931.3 197.4h0M930.7 193.8h0M931.1 193.8h0M931.1 183.9h0M931.2 184.6h0M931 187h0M931.1 191.9h0M931.2 195.5h0M931 198.5h0M931.4 126h0M932.2 122.6h0M931.9 115h0M931.6 108.7h0M931.9 106h0M932.2 100.4h0M931.6 95.2h0M932.2 92h0M932.3 88.5h0M932.3 82.8h0M932.2 89.2h0M932.3 91h0M932.3 96.5h0M932.2 101h0M931.9 102.3h0M932.5 107.5h0M932.8 113.7h0M932.4 117h0M932.7 123.2h0M932 130.3h0M933 131.9h0M933 136.9h0M932.7 144.6h0M932.9 147h0M933 149h0M932.9 155.1h0M932.8 156h0M932.6 163h0M933.6 165.1h0M933 171.6h0M933.1 173.9h0M933.2 177.2h0M933.2 174h0M933.4 166.7h0M933.4 168.9h0M933.5 161.6h0M933.3 157.4h0M934.1 150.9h0M933.8 151.1h0M933.4 140.5h0M933.9 139.5h0M933.5 132.9h0M933.5 129.2h0M933.9 127.6h0M934.1 117.9h0M934.2 115.1h0M934.7 112.1h0M934.1 106.1h0M934.4 102.5h0M934.7 102.8h0M934.4 91.1h0M934.2 91.2h0M934.4 84.3h0M934.6 86.5h0M934.4 92h0M934.6 93.9h0M934.8 101.1h0M934.9 99.9h0M934.6 106.2h0M934.8 113.7h0M934.5 117.6h0M935.3 123.7h0M935.1 124.7h0M934.7 132.3h0M935.1 134.8h0M935.5 135.8h0M935.4 140.9h0M935.2 148.1h0M935.4 151.5h0M935.3 155.4h0M936.2 160.8h0M935.4 165.9h0M935.4 166.4h0M935.5 173.1h0M935.9 175.3h0M935.8 176.6h0M935.8 171.5h0M934.9 165.6h0M936.1 162.9h0M936 159.5h0M912.8 259.2h0M912.6 255.9h0M912.8 247h0M912.3 239.3h0M912.7 236.7h0M913.5 233.5h0M913.8 235.9h0M913.4 242.9h0M913.6 243.3h0M913.5 255.8h0M914.2 257.2h0M913.8 256.7h0M913.9 248.3h0M914.1 245.9h0M914.4 239.7h0M914 233.4h0M913.9 235.5h0M914.1 237.9h0M914.4 243.4h0M914.9 247.4h0M914.9 250.3h0M914.6 259.1h0M914.7 253.7h0M915.1 247.6h0M915.7 244.4h0M915.2 241.2h0M915.2 234.3h0" style="fill:none;stroke:#000;stroke-width:5.6;stroke-linecap:round"/></g><g style="fill:#000"><circle cx="121.4" cy="273.2" r="2.78"/><circle cx="138.3" cy="322.7" r="2.78"/><circle cx="628" cy="366" r="2.78"/><circle cx="640" cy="384" r="2.78"/><circle cx="836.3" cy="246" r="2.78"/><circle cx="845" cy="252.7" r="2.78"/><circle cx="870.3" cy="196" r="2.78"/><circle cx="870.3" cy="207.3" r="2.78"/><circle cx="870.3" cy="211" r="2.78"/><circle cx="895" cy="198" r="2.78"/><circle cx="910" cy="227" r="2.78"/><circle cx="918" cy="283" r="2.78"/><circle cx="916" cy="292" r="2.78"/><circle cx="779.2" cy="137" r="2.78"/><circle cx="741" cy="348" r="2.78"/><circle cx="128.5" cy="172.5" r="2.78"/><circle cx="128.5" cy="178.5" r="2.78"/><circle cx="777.5" cy="171" r="2.78"/><circle cx="777.5" cy="176" r="2.78"/><circle cx="777.5" cy="181" r="2.78"/><circle cx="777.5" cy="187" r="2.78"/><circle cx="777.5" cy="195" r="2.78"/><circle cx="777.5" cy="201" r="2.78"/><circle cx="777.5" cy="206" r="2.78"/><circle cx="777.5" cy="212" r="2.78"/><circle cx="777.5" cy="218" r="2.78"/><circle cx="777.5" cy="224" r="2.78"/><circle cx="893.3" cy="39.5" r="2.78"/><circle cx="893.3" cy="43" r="2.78"/><circle cx="893" cy="51.3" r="2.78"/><circle cx="893.5" cy="58" r="2.78"/><circle cx="897.3" cy="129.3" r="2.78"/><circle cx="897.3" cy="138" r="2.78"/><circle cx="912" cy="175.3" r="2.78"/><circle cx="918" cy="245" r="2.78"/><circle cx="859.3" cy="160" r="2.78"/><circle cx="863.3" cy="156" r="2.78"/><circle cx="870.3" cy="196" r="2.78"/><circle cx="870.3" cy="201" r="2.78"/><circle cx="870.3" cy="207.3" r="2.78"/><circle cx="870.3" cy="211" r="2.78"/><circle cx="784.4" cy="63.2" r="2.78"/><circle cx="784.6" cy="67" r="2.78"/><circle cx="804.4" cy="76.2" r="2.78"/><circle cx="813.4" cy="119.4" r="2.78"/><circle cx="608.4" cy="217.7" r="2.78"/><circle cx="608.2" cy="221" r="2.78"/></g><path d="M119.9 223 L121.3 227.2 L122.6 231.9 L124 237.3 L125.3 241.8 L126.5 247.2 L127.8 254.6 L129.4 263.8 L130.9 271.2 L132.5 277.2 L134 280.3 L135.5 285.7 L137 292.2 L138.5 298 L140 305.9 L141.5 313.2 L143 317.9 L144.5 323.4 L146 324 L147.8 326.4 L149.5 329 L151 332.9 L152.2 338.8 L153.3 344.6 L155 351 L156.7 356.1 L158.3 360.8 L160 365.4 L161.7 375.4 L163.3 382.3 L165 390.6 L166.4 394.4 L167.8 398.5 L169.2 402.1 L170.8 419.3 L172.5 422.3 L173.9 420.9 L175.3 419.8 L176.7 418.3 L178.1 418.1 L179.4 418.7 L180.8 414.9 L182.2 417.8 L183.6 419.7 L185 421.4 L186.7 423.1 L188.3 426.2 L190 428.7 L191.3 428.1 L192.7 434 L194 434.9 L195.3 438.1 L196.9 437.4 L198.4 436.6 L200 436.1 L202 444.8 L203.7 444.4 L205.3 442.8 L206.7 448.3 L208 449.4 L209.6 447.3 L211.1 446.1 L212.7 441.8 L214 443 L215.3 445.3 L216.7 448.8 L218 451.3 L219.6 452.7 L221.1 454 L222.7 456.1 L224.2 457.1 L225.8 459.3 L227.3 461.4 L228.6 461.4 L230 457.1 L231.3 455.6 L233 459.8 L234.7 464.9 L236.3 460.7 L238 456.5 L239.7 454.6 L241.3 453.7 L243 450.1 L244.7 449.1 L246.3 449.8 L248 450.6 L249.7 452.3 L251.3 453.1 L252.7 452.7 L254 453.6 L255.3 455.3 L256.7 456.2 L258.4 454.4 L260 454.1 L261.6 452.3 L263.3 451.3 L264.6 453.9 L266 458.4 L267.3 458.7 L268.7 457.2 L270 453.2 L271.3 449.8 L272.6 450.2 L274 445.8 L275.3 445.5 L276.6 443.1 L278 446.3 L279.4 445.4 L280.7 445.5 L282.2 447.8 L283.8 445.2 L285.4 446.8 L286.9 448 L288.4 448.2 L290 444.2 L291.7 445.5 L293.3 443 L295 438.9 L296.4 443.8 L297.7 446.9 L299.4 443.3 L301 441.4 L302.4 443.8 L303.7 444.8 L305.4 438 L307 430.8 L308.6 428.8 L310.1 428.9 L311.7 430.7 L313 432.7 L314.4 431.5 L315.7 430.5 L317 432.8 L318.3 433.3 L319.7 434.3 L321 435.1 L322.3 431.1 L323.6 430.1 L325 428 L326.3 424.7 L327.6 427.5 L329 433 L330.4 430.6 L331.7 427 L333 430.9 L334.3 430 L335.6 425.9 L337 422.1 L338.3 416.5 L339.6 416.5 L341 418.7 L342.3 420 L343.6 420.5 L345 419.9 L346.4 421.1 L347.7 422.8 L349 422 L350.4 423.8 L351.7 423.4 L353 425.7 L354.6 424.2 L356.1 421.2 L357.7 420.7 L359 425.9 L360.3 430.8 L362 431.8 L363.7 434.1 L365.7 437.9 L367 434.5 L368.4 434.2 L369.7 433.2 L371.2 433.3 L372.8 435.8 L374.3 437.3 L375.6 441.6 L377 440.9 L378.4 444.6 L379.7 443.9 L381.1 449.6 L382.6 451.2 L384 455.2 L385.6 456 L387.1 454.6 L388.7 456.3 L390 461.1 L391.4 462.6 L392.7 466.9 L394.4 465.4 L396 465.1 L398 473.3 L399.6 468.5 L401.3 466.7 L403 468.5 L404.6 472.8 L406.3 474 L408 477 L409.3 479.3 L410.7 476.3 L412 477.6 L413.6 476.7 L415.3 481.2 L416.9 477.6 L418.4 477.9 L420 473.5 L421.6 479.2 L423.3 483 L425 478.7 L426.7 476.1 L428.7 480.8 L430.2 476 L431.8 471 L433.3 468 L434.6 468.3 L436 469.4 L437.4 467.2 L438.7 468.1 L440 468.7 L441.4 470.9 L442.7 470.7 L444 471.3 L445.4 473 L446.7 472.9 L448 471.2 L449.4 469.6 L450.7 468.4 L452 468.8 L453.6 470.8 L455.3 475.5 L457 471 L458.7 470.3 L460 470.1 L461.3 472 L463 467 L464.7 461.2 L466.2 461.1 L467.7 461.5 L469.2 463.4 L470.7 465.6 L472 467 L473.4 468 L474.7 468.6 L476 468.8 L477.3 468.3 L478.7 471.9 L480 473.9 L481.6 471.2 L483.3 467.7 L485 471.1 L486.7 475.3 L488.4 473.1 L490 473.1 L492 473.8 L493.3 470.7 L494.7 465.7 L496 462.7 L497.6 465.4 L499.3 466.5 L500.6 466.3 L502 466.9 L503.4 468.5 L504.7 467.7 L506 469.5 L507.4 471.1 L508.7 472.3 L510 472.7 L511.3 471 L512.6 468.7 L514 467.9 L515.3 464.9 L516.6 469 L518 472.1 L519.6 468.9 L521.3 462.5 L523.3 462.8 L524.6 458.7 L526 452.6 L527.3 449.5 L528.6 449.1 L530 447.5 L531.4 447.4 L532.7 447.5 L534 447.2 L535.4 445 L536.7 443.6 L538 444.7 L539.6 442.8 L541.1 443.8 L542.7 441.9 L544 437.3 L545.4 432.7 L546.7 429.8 L548.7 434.9 L550 428.2 L551.3 422.8 L552.6 422.8 L554 423.5 L555.3 418.4 L556.7 411.5 L558 406.1 L559.7 402.7 L561 401.2 L562.4 401 L563.7 399.1 L565.2 396.5 L566.8 394 L568.3 392.9 L569.9 391.3 L571.4 389 L573 387 L574.6 380.3 L576.1 377 L577.7 369.2 L579 372.3 L580.3 373.1 L582 367.6 L583.7 361.3 L585.7 360.5 L587.7 351.9 L589.7 340.3 L591.7 338.9 L593.4 336.4 L595 334.3 L596.6 332.2 L598.3 331.5 L600.1 324 L602 319 L603.5 316.8 L605 314.3 L606.5 308.8 L608 306.4 L609.6 303.9 L611.1 303.2 L612.7 300.7 L614 298 L615.3 292.5 L616.6 294.1 L618 294.4 L619.3 291.9 L620.7 288.7 L622 287.5 L623.4 290.5 L624.7 295.3 L626 295.7 L627.4 298.5 L628.7 299.9 L630 304.8 L631.3 305.7 L633 309.3 L634.7 313.5 L636.4 314.9 L638 318.3 L639.6 319 L641.3 321.1 L642.6 325.6 L644 331.8 L645.6 327.1 L647.3 324.1 L649.3 325.8 L650.6 321.2 L652 318.8 L653.3 311 L655.3 315 L656.6 313.5 L658 314.5 L659.4 315.3 L660.7 313.9 L662 313.7 L663.4 314.8 L664.7 315.2 L666 317.2 L667.4 314.4 L668.7 311.5 L670.4 311.7 L672 308.1 L673.6 310.7 L675.3 313.8 L676.6 313.4 L678 312.7 L680 313.5 L681.5 307.1 L683 303 L684.5 303.4 L686.2 301.4 L688 302.1 L689.3 301.1 L690.7 302.8 L692 303.1 L693.3 300 L694.7 301.7 L696 302.9 L697.6 302.3 L699.3 306.6 L700.9 304 L702.4 300.4 L704 298.5 L705.3 300.4 L706.7 302.3 L708 303.2 L709.6 299.7 L711.3 299.1 L712.6 296.3 L714 292.3 L715.3 291.8 L717 293.2 L718.7 293.3 L720 293.4 L721.4 294.3 L722.7 295.3 L724 292.3 L725.4 296.1 L726.7 295.8 L728.4 297.1 L730 299.6 L731.6 294.4 L733.1 293 L734.7 292.3 L736.4 295.1 L738 298.3 L739.4 297.4 L740.7 292.9 L742 293.9 L743.3 295.1 L744.9 289.6 L746.4 286.3 L748 282 L749.3 277 L750.7 272.6 L752 268.7 L753.6 262.3 L755.1 255 L756.7 250 L758.4 245.1 L760 239.3 L761.7 235.4 L763.2 225.7 L764.8 217.5 L766.3 208.7 L768 206.4 L769.3 199.1 L770.7 193.1 L772 187 L773.4 182.1 L774.7 183 L776.4 177.5 L778 171.7 L780 168 L781.4 172.1 L782.7 175.5 L784 175.6 L785.4 175.1 L786.7 176.8 L788 174.6 L789.3 178.9 L791 179.7 L792.7 181.7 L794.4 178.9 L796 180 L797.4 178.5 L798.7 175.3 L800.7 184.7 L802 182.2 L803.3 178.2 L805.3 183.2 L807.3 178.7 L809 175 L810.7 173.1 L812.4 174 L814 173.2 L815.3 174.7 L816.7 176.9 L818 174.6 L819.4 175.2 L820.7 178.3 L822.2 177.9 L823.8 178.9 L825.3 179.9 L826.6 180.5 L828 177.9 L829.3 177.8 L831 182.8 L832.7 188 L834.4 183.1 L836 179.5 L837.5 180.3 L839 175.7 L840.5 172.9 L842 173.2 L843.6 173.9 L845.1 172.4 L846.7 176.7 L848 174.6 L849.4 177 L850.7 179 L852 178.3 L853.3 181.6 L854.7 182.7 L856 183.4 L857.3 182.6 L858.6 181.9 L860 178.8 L861.3 179 L862.6 182.1 L864 185.6 L865.6 182.3 L867.3 181.7 L869.3 186.5 L870.6 182.4 L872 178.6 L873.3 174.4 L874.6 176.3 L876 175.9 L877.3 176 L878.6 179.1 L880 176.8 L881.4 180.1 L882.7 179.7 L884 180.4 L885.4 182.2 L886.7 181.8 L888 182.8 L889.6 181.3 L891.1 179.3 L892.7 180.3 L894.4 184.1 L896 186.3 L897.3 187.6 L898.7 185.3 L900 183.4 L901.7 180.3 L903.3 179.3 L905 176.2 L906.7 175.3 L908.3 180.4 L910 180.9 L911.5 181.4 L913 181.4 L914.5 182.2 L916 182.9 L917.6 183 L919.2 183.6 L920.8 183.6 L922.4 182 L924 183.3 L925.7 184.3 L927.3 187.2 L929 187.4 L930.7 185.5 L932.3 182.4 L934 180.7 L935.3 177.4 L936.7 179.1 L938 178" style="fill:none;stroke:#0072b2;stroke-width:2.7;stroke-linejoin:round;stroke-linecap:square"/><path d="M938.5 173.5 L944.8 173 L944.8 183.5 L938.5 182Z" style="fill:#0072b2;stroke:#0072b2;stroke-width:1"/><g style="fill:#f00"><circle cx="940.3" cy="84.5" r="2.78"/><circle cx="941.3" cy="87.5" r="2.78"/><circle cx="940.5" cy="90.5" r="2.78"/><circle cx="941.6" cy="93" r="2.78"/><circle cx="941.2" cy="98.5" r="2.78"/><circle cx="940.6" cy="101.5" r="2.78"/><circle cx="941.8" cy="104" r="2.78"/><circle cx="941" cy="109" r="2.78"/><circle cx="941.4" cy="112" r="2.78"/><circle cx="940.8" cy="115" r="2.78"/><circle cx="941.9" cy="117.5" r="2.78"/><circle cx="941.2" cy="120" r="2.78"/><circle cx="941.6" cy="124.5" r="2.78"/></g></g>
   <g id="patch_3">
    <path d="M 57.24 390.6 
L 57.24 11.16 
" style="fill: none; stroke: #000000; stroke-width: 0.8; stroke-linejoin: miter; stroke-linecap: square"/>
   </g>
   <g id="patch_4">
    <path d="M 709.56 390.6 
L 709.56 11.16 
" style="fill: none; stroke: #000000; stroke-width: 0.8; stroke-linejoin: miter; stroke-linecap: square"/>
   </g>
   <g id="patch_5">
    <path d="M 57.24 390.6 
L 709.56 390.6 
" style="fill: none; stroke: #000000; stroke-width: 0.8; stroke-linejoin: miter; stroke-linecap: square"/>
   </g>
   <g id="patch_6">
    <path d="M 57.24 11.16 
L 709.56 11.16 
" style="fill: none; stroke: #000000; stroke-width: 0.8; stroke-linejoin: miter; stroke-linecap: square"/>
   </g>
  </g>
 </g>
 <defs>
  <clipPath id="p7e00197a57">
   <rect x="57.24" y="11.16" width="652.32" height="379.44"/>
  </clipPath>
 </defs>
</svg>
</body></html>
